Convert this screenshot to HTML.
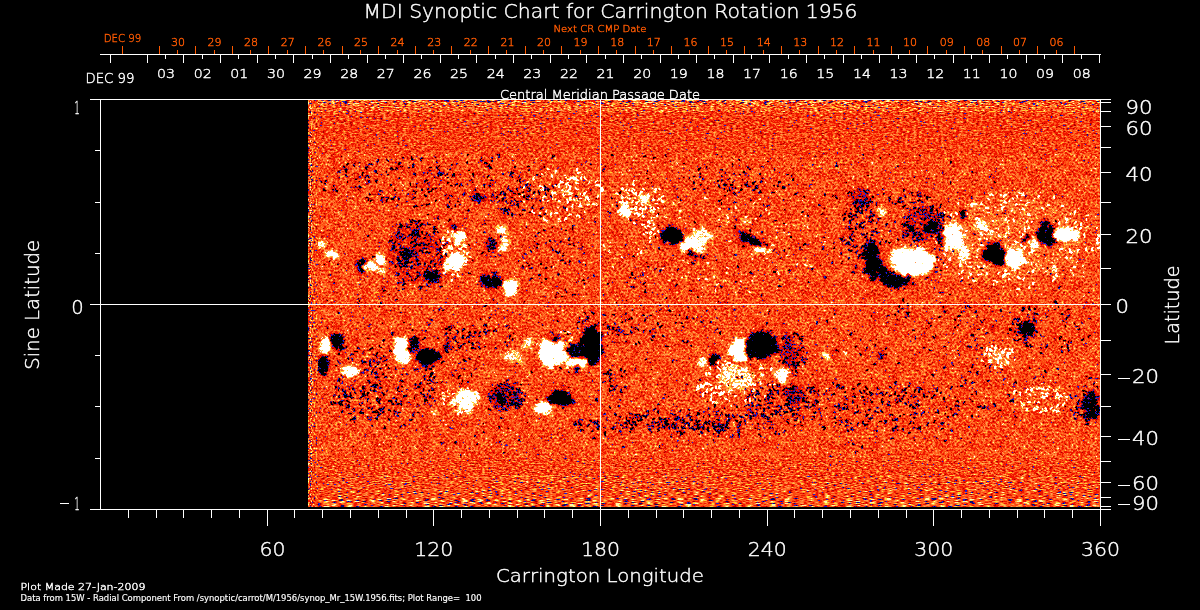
<!DOCTYPE html>
<html><head><meta charset="utf-8"><title>MDI Synoptic Chart for Carrington Rotation 1956</title>
<style>html,body{margin:0;padding:0;background:#000;width:1200px;height:610px;overflow:hidden}svg{display:block}</style>
</head><body>
<svg width="1200" height="610" viewBox="0 0 1200 610" shape-rendering="crispEdges" style="font-family:'DejaVu Sans','Liberation Sans',sans-serif;font-weight:200;stroke-width:0.4px">
<rect x="0" y="0" width="1200" height="610" fill="#000"/>
<defs>
<filter id="tex" x="308" y="100" width="792" height="407" filterUnits="userSpaceOnUse" color-interpolation-filters="sRGB">
<feTurbulence type="fractalNoise" baseFrequency="0.42 0.5" numOctaves="2" seed="7"/>
<feColorMatrix type="matrix" values="1 0 0 0 0 1 0 0 0 0 1 0 0 0 0 0 0 0 0 1" result="n1"/>
<feTurbulence type="fractalNoise" baseFrequency="0.1" numOctaves="2" seed="3"/>
<feColorMatrix type="matrix" values="1 0 0 0 0 1 0 0 0 0 1 0 0 0 0 0 0 0 0 1" result="n2"/>
<feComposite in="n1" in2="n2" operator="arithmetic" k2="1" k3="0.25" k4="-0.125" result="n"/>
<feComposite in="SourceGraphic" in2="n" operator="arithmetic" k1="0" k2="1.3" k3="1" k4="-0.65"/>
<feColorMatrix type="matrix" values="1 0 0 0 0 1 0 0 0 0 1 0 0 0 0 0 0 0 0 1"/>
<feComponentTransfer>
<feFuncR type="discrete" tableValues="0 0 0 0 0 0 0 0 0 0 0 0 0.039 0.039 0.039 0.118 0.118 0.118 0.118 0.118 0.667 0.667 0.667 0.667 0.667 0.667 0.667 0.941 0.941 0.941 0.941 0.941 0.941 0.941 0.941 0.941 0.941 0.941 0.941 0.941 0.941 0.941 0.941 0.941 0.941 0.988 0.988 0.988 0.988 0.988 0.988 0.988 1 1 1 1 1 1 1 1 1 1 1 1 1 1 1 1 1 1 1 1 1 1 1 1 1 1 1 1 1 1 1 1 1 1 1 1 1 1 1 1 1 1 1 1 1 1 1 1"/>
<feFuncG type="discrete" tableValues="0 0 0 0 0 0 0 0 0 0 0 0 0.039 0.039 0.039 0.118 0.118 0.118 0.118 0.118 0 0 0 0 0 0 0 0.078 0.078 0.078 0.078 0.078 0.078 0.078 0.078 0.078 0.078 0.078 0.078 0.078 0.078 0.078 0.078 0.078 0.078 0.275 0.275 0.275 0.275 0.275 0.275 0.275 0.373 0.373 0.373 0.373 0.373 0.373 0.373 0.49 0.49 0.49 0.49 0.49 0.49 0.49 0.608 0.608 0.608 0.608 0.608 0.608 0.608 0.608 0.824 0.824 0.824 0.824 0.824 0.961 0.961 0.961 0.961 1 1 1 1 1 1 1 1 1 1 1 1 1 1 1 1 1"/>
<feFuncB type="discrete" tableValues="0 0 0 0 0 0 0 0 0 0 0 0 0.471 0.471 0.471 0.843 0.843 0.843 0.843 0.843 0 0 0 0 0 0 0 0 0 0 0 0 0 0 0 0 0 0 0 0 0 0 0 0 0 0.059 0.059 0.059 0.059 0.059 0.059 0.059 0.11 0.11 0.11 0.11 0.11 0.11 0.11 0.196 0.196 0.196 0.196 0.196 0.196 0.196 0.314 0.314 0.314 0.314 0.314 0.314 0.314 0.314 0.196 0.196 0.196 0.196 0.196 0.588 0.588 0.588 0.588 1 1 1 1 1 1 1 1 1 1 1 1 1 1 1 1 1"/>
</feComponentTransfer>
</filter>
<filter id="bl" x="300" y="90" width="810" height="430" filterUnits="userSpaceOnUse" color-interpolation-filters="sRGB"><feTurbulence type="fractalNoise" baseFrequency="0.15" numOctaves="2" seed="5" result="dn"/><feDisplacementMap in="SourceGraphic" in2="dn" scale="13" xChannelSelector="R" yChannelSelector="G"/><feGaussianBlur stdDeviation="1.5"/></filter>
<filter id="bs" x="300" y="90" width="810" height="430" filterUnits="userSpaceOnUse" color-interpolation-filters="sRGB"><feGaussianBlur stdDeviation="0.5"/></filter>
</defs>
<g filter="url(#tex)" shape-rendering="auto">
<rect x="308" y="100" width="792" height="407" fill="rgb(128,128,128)"/>
<g filter="url(#bl)">
<ellipse cx="1010" cy="240" rx="72" ry="42" fill="rgb(143,143,143)"/>
<ellipse cx="414" cy="255" rx="28" ry="30" fill="rgb(110,110,110)"/>
<ellipse cx="860" cy="199" rx="9" ry="9" fill="rgb(89,89,89)"/>
<ellipse cx="924" cy="224" rx="20" ry="16" fill="rgb(97,97,97)"/>
<ellipse cx="505" cy="395" rx="16" ry="12" fill="rgb(76,76,76)"/>
<ellipse cx="737" cy="378" rx="17" ry="12" fill="rgb(178,178,178)"/>
<ellipse cx="790" cy="352" rx="8" ry="16" fill="rgb(76,76,76)"/>
<ellipse cx="795" cy="395" rx="8" ry="12" fill="rgb(76,76,76)"/>
<ellipse cx="790" cy="393" rx="8" ry="7" fill="rgb(64,64,64)"/>
<ellipse cx="1000" cy="358" rx="12" ry="8" fill="rgb(158,158,158)"/>
</g>
<g filter="url(#bs)">
<path fill="rgb(51,51,51)" d="M409 258.4l1.3 -3.3 3 -1.8 1.7 1.4zM432.5 233.4l2.4 -2.2 3.3 -0.2 0.9 2.1zM405.3 226.3l-3.3 0.7 -2.8 -1.8 0.4 -2.5zM417.4 245.9l2 -1.8 2.6 0.7 0.6 2.6zM417.5 224l-1.9 0.7 -1.7 -1.2 0.2 -1.9zM432 243.1l-2.2 -1.8 -0.6 -2.7 1.6 -1zM423.3 254.6l-2 -2.3 0.2 -3 2.1 -0.7zM409.8 258.3l-2.2 -2.7 -0.6 -3.4 1.6 -0.7zM404.7 235.6l-2.2 -0.2 -1.4 -1.7 0.8 -1.5zM405.8 274.4l2.1 -1.7 2.3 1.3 0.3 2.9zM441.9 251.1l-3.6 0 -3 -2.1 0.7 -2.1zM418.5 235.5l-1.6 -2.6 0.5 -3 2 -0.4zM405.3 284.4l-2.1 -2.3 -0.6 -3.1 1.6 -0.8zM410.1 253.3l1.1 -2.8 2.5 -1.6 1.4 1.2zM396.9 267.7l-2.1 0.3 -0.9 -1.9 1.2 -2.2zM444.9 260.5l-3 -2 -1.8 -3.1 1.2 -1.1zM409.9 276.3l-2.7 -1 -1.7 -2.3 1 -1.4zM397.6 239.4l-1.8 -2.7 0.2 -3.2 2 -0.5zM409 224.9l-1.9 1.1 -1.8 -1.3 0.1 -2.5zM418.8 245.8l0 -2.8 2.5 -1.2 2.5 1.6zM434.4 230.9l-1.6 -1.9 0.8 -2.4 2.4 -0.5zM400.9 234.4l-3 -1.3 -0.8 -3.2 2.2 -1.9zM427.6 245.3l-2.5 0.3 -2.2 -1.3 0.4 -1.7zM427.1 239.5l-2 -2.7 0.4 -3.3 2.4 -0.6zM413.4 282.4l1.1 -3.4 2.6 -2.5 1.5 0.9zM419.2 276.7l-2.4 -1.5 -0.9 -2.7 1.6 -1.2zM431.2 224.9l-2.4 0.5 -2 -1.4 0.4 -1.9zM394.5 246.2l-0.8 -2.6 1 -2.6 1.8 0.1zM390.9 250.4l0.5 -2.4 2.4 -0.6 1.9 1.8zM419 230.5l-0.8 -1.5 0.8 -1.5 1.6 0zM385.7 263.1l-1.7 -2.2 0.9 -2.6 2.6 -0.4zM412.4 244.4l-2 0.4 -0.5 -2 1.6 -2.4zM404.2 267l-0.4 -3.6 2.3 -2.8 2.7 0.8zM416.8 221.1l-2.8 0.9 -2.7 -1.2 0.1 -2.1zM419.8 227.8l-0.7 -3 2.2 -2.2 2.9 0.8zM426.6 247.6l0 -3.2 2.2 -2.3 2.2 0.9zM412.2 257.1l-1.6 -2.2 0.7 -2.7 2.3 -0.4zM418.9 252.3l0.1 -2.3 2.2 -0.7 2.1 1.6zM430.6 264.7l-1.3 -2.5 1.6 -2.3 2.8 0.2zM402.2 265.2l-1 -1.8 0.8 -1.9 1.8 -0.1zM420.4 248.9l3 -1.6 3.4 0.4 0.4 2zM401 263l-3 -1.6 -0.9 -3.2 2.1 -1.7zM439 246.1l-2.7 -0.6 -1.6 -2.3 1.1 -1.7zM395.2 243.4l-3.4 -0.1 -2.9 -1.7 0.5 -1.6zM393.6 250.8l-0.4 -2.2 1.4 -1.7 1.8 0.5zM404.3 254.3l2.2 -2.2 3.1 0.2 0.9 2.4zM412.6 225l-1.7 1.1 -1.2 -1.6 0.5 -2.7zM423 239.2l1 -2.3 2.5 -0.2 1.5 2zM413.8 223.4l-3.1 -1.1 -2 -2.6 1.1 -1.6zM417.5 262.6l-2.1 -1.1 -0.7 -2.2 1.3 -1.1zM395.1 251.9l0.2 -1.9 1.6 -1.1 1.4 0.8zM414.7 223.6l0.5 -2.3 2.3 -0.3 1.8 2zM425.4 256l-0.8 -2.9 1.8 -2.4 2.6 0.5zM434.6 266.6l-0.8 -2 1.4 -1.7 2.1 0.3zM391.5 251.7l-1.1 -2.8 1.7 -2.5 2.9 0.3zM417.1 264.2l-1.5 -2.4 1.2 -2.5 2.7 -0.1zM410.1 262.2l1.4 -1.8 2.1 0.8 0.7 2.5zM398.8 246.5l-1.2 -1.4 0.8 -1.7 2 -0.3zM401.1 266.2l-1.6 0.9 -1.2 -1.3 0.4 -2.2zM413.4 255.6l-3.1 0.8 -2.9 -1.5 0.3 -2.3zM395.4 277.1l1.1 -2.2 2.2 -1 1.1 1.2zM403 271.7l0.5 -1.9 1.8 -0.7 1.3 1.2zM436.4 255.4l0.8 -2.9 2.6 -1.6 1.8 1.3zM416.3 265.9l1.7 -2.7 3.1 -0.9 1.3 1.8zM399.2 268.3l1.5 -2.6 2.9 -0.7 1.4 1.9zM396.3 264.3l2.5 -2.7 3.7 -0.1 1.1 2.6zM393.6 276.4l2.2 -2.9 3.5 -1 1.3 1.9zM413.7 247.9l-0.6 -1.7 1 -1.5 1.6 0.2zM413.2 248.2l0.8 -3.2 2.7 -1.8 2 1.4zM439.1 252.6l-0.6 -3.6 2.1 -2.9 2.7 0.6zM492.1 199.2l-0.8 -2.4 0.8 -2.4 1.6 0zM495.3 199.5l0.5 -1.9 1.8 -0.8 1.3 1.1zM507.9 206.6l2.9 -2.1 3.5 -0.6 0.6 1.5zM494.7 196.5l-2.4 -1 -0.6 -2.5 1.8 -1.5zM497.2 197.5l-0.5 -2.4 1.7 -1.7 2.3 0.6zM515.6 202.3l3 -2.1 3.7 0.3 0.6 2.4zM494.6 203.9l-2.8 -1.3 -1.8 -2.6 1.1 -1.3zM498.8 210.9l2.3 -2.5 3.4 -0.5 1.1 2.1zM503.4 203.1l-1.8 -2.2 0.2 -2.8 2 -0.6zM505.4 198.6l-2.1 -2.9 0.4 -3.6 2.4 -0.7zM509.8 203.2l-2.5 0.7 -1.9 -1.8 0.6 -2.5zM517.2 206.5l-1.7 -1.3 1.2 -1.7 2.9 -0.5zM500.5 202.1l1.6 -3.2 3.1 -1.9 1.4 1.3zM513.4 191.5l-2.4 0.3 -2 -1.4 0.4 -1.7zM500.1 195.2l-0.3 -2.3 1.5 -1.8 1.7 0.5zM390.5 171l0.7 -2.3 2.3 -0.7 1.5 1.5zM455.8 165.4l0.1 -1.8 1.6 -0.9 1.5 1zM449.5 185.6l1.6 -1.1 1.8 0.8 0.2 2zM441.2 190l-1.6 -0.8 0.2 -1.7 1.7 -0.9zM341.4 169.2l2.6 -1.7 2.9 1.1 0.3 2.9zM357.2 178.2l1 -2.1 2.2 -0.8 1.2 1.3zM361.4 193.6l-2.1 -1.8 -0.5 -2.8 1.6 -0.9zM423.7 176.3l-1 -1.9 0.8 -2 1.9 -0.1zM397.9 166.2l-0.2 -2.9 2.3 -1.8 2.5 1.1zM454.9 187.7l-0.2 -2.6 1.6 -2 1.8 0.6zM443.3 175.8l0.8 -1.4 1.6 0.1 0.8 1.6zM367.8 184.4l-0.6 -2.7 2.1 -1.8 2.7 0.9zM426.3 184.8l0.8 -2 2.1 -0.5 1.3 1.6zM325.4 184.7l-1.7 -1.6 0.8 -2.2 2.5 -0.6zM364.6 199.8l0.2 -2.5 2.3 -1 2.1 1.5zM440.5 190.1l-0.9 -1.6 0.9 -1.6 1.8 0zM427.3 174.8l0 -2.8 1.9 -2.1 1.9 0.8zM411.5 200.9l-0.3 -3 2.3 -2 2.7 1.1zM404.2 203.1l0.6 -2 2 -0.8 1.4 1.3zM354.4 175.6l-0.7 -1.9 1.4 -1.5 2.1 0.4zM414.9 195.4l-0.7 -2.5 1.4 -2.2 2.1 0.3zM406.4 196.7l0.1 -2.3 1.7 -1.5 1.7 0.8zM467.7 171.1l0.2 -1.5 1.5 0 1.3 1.5zM338.2 172.1l-0.7 -1.4 1.4 -0.8 2.1 0.7zM323.8 182.9l-2.6 0 -2 -1.6 0.6 -1.6zM357.7 163l1.4 -1.2 1.8 0.4 0.4 1.6zM337.1 192.6l-2 -1.3 -0.4 -2.4 1.6 -1.1zM398.1 199.6l-1.2 -1.7 1.1 -1.7 2.2 0zM369.2 202.1l0.9 -2.4 2.4 -0.7 1.6 1.7zM421.3 162.4l-1.5 -2.4 1.4 -2.4 3 -0.1zM461.8 195.1l0.9 -2.7 2.8 -0.6 1.9 2.1zM424.6 183.3l-0.6 -2.6 2 -1.8 2.6 0.8zM354.5 167.3l-1.6 -2 1 -2.3 2.5 -0.4zM348.3 177.1l-1.9 1 -1.2 -1.8 0.8 -2.9zM396 191.3l-1.8 -0.5 -0.5 -1.8 1.3 -1.3zM475.3 191.3l-1.3 0.8 -1 -1.1 0.3 -1.9zM364.7 167.5l1 -1.9 2.1 0.3 1.1 2.2zM439.6 185.6l-1.4 -1.1 0.4 -1.7 1.8 -0.6zM380.4 199.8l1.3 -2.7 2.9 -0.8 1.6 1.9zM396.4 172.1l-1.6 -2.5 1.3 -2.7 2.9 -0.2zM428.6 193.2l-0.9 -1.5 1.4 -1 2.4 0.5zM454.9 176.8l-1.8 -1.5 0.4 -2.3 2.2 -0.8zM390.5 170.6l-0.9 -2.1 1.9 -1.4 2.7 0.8zM337.2 173.3l0 -2.1 2.1 -0.2 2.1 1.9zM335.7 191.1l-2.4 0.6 -1.8 -1.6 0.5 -2.3zM338 192.6l-1.5 0.1 -0.2 -1.5 1.3 -1.7zM358 190.6l-0.3 -1.6 1.5 -0.6 1.8 1zM326.9 191.1l-2.1 1 -1.9 -1.3 0.2 -2.3zM451.1 178.8l0.2 -2.8 1.8 -2.1 1.6 0.6zM347.9 183.9l-1.3 -1.8 0.5 -2.1 1.8 -0.3zM364.9 176.2l1.8 -1.8 2.3 1.1 0.5 3zM438.3 176.1l-0.5 -2.4 1.3 -2.1 1.7 0.3zM430.7 193.1l0.1 -2.6 1.8 -1.9 1.6 0.7zM439.9 168.5l-2.1 1 -2 -1.2 0.1 -2.2zM465.9 196.6l-2.7 -0.3 -1 -2.6 1.8 -2.3zM362.4 176.6l-1.1 -2 0.9 -2.1 2 -0.1zM445.8 183.7l-0.8 -1.4 1 -1.2 1.8 0.2zM439.1 173.3l2.2 -1.9 2.9 0.4 0.7 2.3zM370.9 194.9l-1.5 0.3 -0.8 -1.3 0.7 -1.6zM335.1 186l-1.5 0.7 -1.3 -1.1 0.3 -1.8zM461.6 184.9l-1.6 -0.1 -0.4 -1.5 1.2 -1.4zM486.9 179.4l-0.2 -2.6 1.8 -1.9 2 0.7zM346.4 166.7l-0.5 -2.5 1.7 -1.9 2.2 0.6zM423.2 191.9l-1.9 -1.4 -0.1 -2.4 1.8 -1zM428.9 185.9l-1 -1.1 0.9 -1.2 1.8 -0.1zM365.4 179.5l-1.1 -2 0.8 -2.1 1.9 -0.2zM450.4 195.8l0.9 -2.1 2.2 -0.8 1.2 1.3zM473.9 183.1l-2.1 -0.1 -0.7 -1.9 1.4 -1.9zM415.1 168.8l-2.9 -1.1 -0.6 -3 2.3 -1.9zM414 160.4l-2.6 -0.1 -1.1 -2.4 1.5 -2.2zM510.6 205.5l-0.9 -2.5 1.1 -2.4 2.1 0.1zM512.9 217.1l-2.1 -1.1 0.2 -2.4 2.3 -1.3zM548.5 203.8l-2 -1.6 0.2 -2.5 2.2 -0.9zM508.7 211.6l-2.9 -0.9 -1.7 -2.6 1.2 -1.7zM504.7 214.5l-2.1 -0.8 0.4 -2.2 2.5 -1.4zM540.8 195l-1.8 0.7 -1 -1.6 0.8 -2.2zM519.8 196.7l2.3 -2 2.9 0.9 0.6 2.8zM502.2 211.3l2 -2.4 3.1 0.2 1.1 2.6zM529.6 213.2l-0.2 -1.4 1.3 -0.6 1.5 0.8zM498.9 202.5l-1.1 -1.3 0.9 -1.4 2 -0.1zM524 191.2l1.9 -1.6 2.4 0.4 0.6 2zM539.3 211l0.7 -2.8 2.5 -1.5 1.7 1.3zM528.7 198.9l1.8 -1.4 2 1.1 0.2 2.5zM527.8 197.8l-0.5 -2.1 2 -0.8 2.5 1.3zM542.4 215.3l0.9 -2 2.2 -0.2 1.3 1.8zM517.4 201.3l-2.1 0.4 -1.7 -1.2 0.4 -1.6zM513.9 206.6l-1.3 -1.8 0.8 -2.1 2.1 -0.3zM541.1 193.4l-2.4 -0.4 -1.5 -1.9 0.9 -1.5zM542.8 192.1l0.2 -3.2 2.7 -1.7 2.5 1.5zM535.6 202.6l-0.7 -1.8 1.3 -1.4 2 0.4zM547.4 196.2l-2.4 -0.6 -0.8 -2.4 1.6 -1.8zM511.4 210.8l-2.6 0.4 -1.4 -2.2 1.2 -2.6zM524.9 187.8l0.2 -3.1 2.3 -2 2.2 1.1zM512.9 193.9l0 -1.7 1.7 0 1.7 1.7zM521.5 194.5l-2.4 0.5 -2.1 -1.1 0.2 -1.7zM521.6 194.1l0.1 -2 1.7 -1.1 1.6 0.9zM548.9 188.8l-3 0.5 -2.4 -2 0.7 -2.5zM509.3 214.8l-2.1 -0.4 -0.5 -2.1 1.6 -1.6zM533.7 209.8l-2.1 -1.3 -0.1 -2.5 2 -1.2zM507.9 216.4l-1 -1.1 0.6 -1.3 1.7 -0.3zM519.8 216.8l-0.7 -2.2 2 -1.1 2.7 1.1zM517.4 187l2.7 -1.1 2.9 0.7 0.1 1.8zM508.6 188.7l-1.7 -1 0.6 -1.9 2.4 -0.9zM519.4 208.9l-2.5 -1.8 -0.5 -3.1 2.1 -1.3zM506.5 190.3l-0.4 -1.8 1.7 -0.7 2.1 1.1zM554.2 198l-2.3 0.7 -1.9 -1.6 0.4 -2.3zM528.6 198.6l-2.2 -1 -0.8 -2.3 1.4 -1.2zM512.5 192.5l-2.3 -0.6 -1.2 -2.1 1.1 -1.5zM521.7 211.5l0 -2.4 2.3 -0.6 2.3 1.7zM542.2 216.6l-1.9 0.9 -1.6 -1.4 0.3 -2.3zM559.8 262.1l0.6 -2.6 2.5 -0.8 1.9 1.7zM581.3 263.3l-2.4 0.3 -1.1 -2.1 1.3 -2.4zM569.5 241.4l-2 -0.8 0.3 -2.2 2.3 -1.3zM541.7 265.5l-2.1 -1.6 0.2 -2.6 2.2 -1zM524.3 268.9l-2.3 -0.7 -0.6 -2.4 1.7 -1.7zM544.8 269.8l0.1 -2.4 2.3 -0.7 2.2 1.7zM556.9 243.6l-2.2 -1 -1 -2.2 1.2 -1.2zM567.3 264.6l-2.4 -0.6 -1.2 -2.1 1.2 -1.5zM522.9 255.8l0.5 -2.5 2.4 -0.6 2 1.9zM581.3 281.6l0.2 -2.2 2.1 -0.6 1.9 1.6zM532.5 242l0.6 -1.7 1.7 0.4 1.1 2.1zM554.3 249.9l-1.6 1.1 -1.2 -1.6 0.5 -2.8zM529.4 281.2l0.1 -2.2 1.7 -1.4 1.6 0.8zM561 297.7l0.1 -1.5 1.5 -0.2 1.3 1.3zM532.8 252.4l-1.8 0.5 -1.1 -1.5 0.7 -2.1zM568.6 245.7l-0.8 -1.6 1.5 -0.9 2.3 0.7zM555.4 293.5l1.1 -1.6 1.9 0.3 0.8 1.9zM537.6 236.1l-1.6 -1.9 1.4 -2 3 -0.2zM567.1 293l-2.7 -0.6 -0.6 -2.7 2 -2zM559.3 252.3l-2.5 0.6 -2 -1.5 0.4 -2.1zM538.3 249.3l-1.8 -0.1 -0.3 -1.7 1.5 -1.7zM557.4 254.1l-0.2 -2.4 2.1 -1 2.3 1.3zM557 299.1l-2.4 -0.8 -0.2 -2.5 2.2 -1.7zM563.6 255l-1.3 -0.8 0.4 -1.4 1.7 -0.6zM567.9 262.7l1.1 -2.2 2.4 -0.3 1.3 1.9zM595 277.3l-1.8 -0.1 -0.5 -1.8 1.3 -1.6zM579.4 281.7l-1.6 0.1 -0.7 -1.5 0.9 -1.6zM549.2 230.1l0.8 -2.4 2.3 -1.1 1.5 1.4zM574.9 246.4l-2.2 -0.7 -0.5 -2.2 1.7 -1.5zM531.7 268.4l-0.5 -1.4 1.2 -0.8 1.7 0.6zM558.6 276.6l-1.5 -1.6 0.8 -2 2.3 -0.4zM578.5 273.9l-1.3 -1 0.4 -1.5 1.7 -0.6zM562.8 257.5l-1 -1.3 1.1 -1.3 2.1 0zM539.7 244.5l-1.7 0.7 -1.4 -1.2 0.3 -1.9zM588.3 280.5l-1.2 -1.5 0.3 -1.9 1.6 -0.4zM572.8 229.4l-1.2 -2.3 1.2 -2.3 2.4 0zM571.1 295.4l1.9 -1.7 2.5 0.2 0.6 1.8zM540 283.8l-0.1 -1.7 1.6 -0.5 1.7 1.2zM552.1 248.1l-2 -0.4 -0.8 -1.9 1.3 -1.5zM581.6 250.8l-1.3 -2.1 1.1 -2.2 2.3 -0.1zM707.8 188.5l-0.9 -1.8 1 -1.7 1.9 0.1zM737.5 188l-2.6 1.1 -2.4 -1.6 0.2 -2.7zM738.6 175.7l0.1 -1.5 1.4 -0.4 1.4 1.1zM721.7 187.3l-2.1 1.3 -1.8 -1.6 0.3 -2.9zM750.4 187.2l-2.4 0.8 -1.6 -2 0.9 -2.9zM729.8 186.4l0.1 -2.3 2.2 -0.5 2.1 1.8zM722.9 189.1l1 -1.1 1.4 0.5 0.4 1.7zM739.7 191.9l0.1 -2.7 2.3 -1.4 2.2 1.3zM745.4 175.6l-0.7 -1.8 0.9 -1.7 1.6 0.1zM705 180.3l-2.2 0.2 -1.1 -1.9 1.1 -2.1zM747.9 174l-2.8 0.4 -2.1 -1.9 0.7 -2.3zM734.1 175.3l-1.3 -0.9 0.7 -1.5 2 -0.5zM722.9 178.5l-2 -0.9 -0.2 -2.2 1.8 -1.3zM736.1 175.6l-1.5 0.2 -0.8 -1.3 0.8 -1.6zM748.3 184l-1.7 -0.1 -0.2 -1.7 1.5 -1.6zM724.2 187.9l-0.8 -2.6 2 -1.9 2.8 0.8zM747.8 178.7l-0.6 -2.3 1.1 -2.1 1.7 0.2zM711 184.9l-1.1 -0.9 0.5 -1.3 1.6 -0.4zM752.7 186.2l-1 -2.4 1.7 -2 2.7 0.4zM724.9 174.3l-0.4 -1.7 1.3 -1.2 1.7 0.5zM634.1 275.9l-2.5 0 -0.9 -2.3 1.6 -2.3zM643.6 277.3l-1.6 -2.1 0.5 -2.6 2.1 -0.5zM629 279l0 -1.7 1.5 -0.8 1.4 0.9zM635.2 280.7l-1.2 -1.4 0.6 -1.7 1.7 -0.3zM642.7 277l-1.9 0.2 -1.1 -1.6 0.8 -1.7zM635.7 287.7l-1.9 1.1 -1.8 -1.2 0.1 -2.3zM634.4 278.9l-1.1 -1.3 1.1 -1.2 2.2 0zM660.7 273.1l-1.5 -1.7 0.6 -2.1 2.1 -0.5zM628.3 283l-1.5 0.2 -0.6 -1.4 0.9 -1.5zM641.2 283.2l-1.3 -0.7 0.2 -1.4 1.5 -0.7zM643.7 286l-1 -2.5 1.5 -2.3 2.5 0.2zM636.8 270.7l-1.8 -1.3 -0.4 -2.2 1.4 -0.9zM655 271.7l-1.8 -1.1 0.9 -1.9 2.6 -0.8zM644.2 263.4l1.7 -1.6 2.3 0 0.6 1.6zM855.8 207l-2.3 -1 -0.2 -2.5 2.1 -1.5zM867.8 198.8l-2.6 0.7 -1.7 -2.1 1 -2.8zM866.3 192.6l-2.7 -0.1 -1.4 -2.3 1.3 -2.2zM857.4 211.9l-1.3 -2.4 1.4 -2.3 2.8 0zM863.9 202.4l-1.1 -1.1 0.6 -1.5 1.7 -0.3zM865.5 204.2l-1.7 0.6 -0.7 -1.7 1 -2.3zM857.5 203.2l-1.7 -2.1 0 -2.7 1.7 -0.6zM856.4 189l1.7 -1.3 2 0.8 0.3 2.1zM863.5 201.3l0.2 -2.3 2.2 -0.5 2.1 1.7zM864.8 191.7l1.6 -2 2.5 -0.4 0.9 1.6zM866.3 203.8l1.6 -1.5 1.9 1.2 0.2 2.7zM853.7 203.1l1.6 -2.2 2.7 -0.4 1.1 1.8zM848.1 206.4l0.3 -2 1.7 -1 1.4 1zM852.5 196.4l-2.1 -1.6 0.1 -2.6 2.2 -1zM853.6 194.2l-1.8 1 -1 -1.8 0.8 -2.7zM859.2 213.6l0.6 -2.8 2.4 -1.6 1.9 1.3zM847 194.2l0.3 -2.5 2.3 -0.9 2 1.6zM866.2 202.9l-2.2 -0.4 -1 -2.1 1.3 -1.6zM858.3 212.8l-1.7 -1.1 0.1 -2 1.8 -0.9zM865.6 193.8l0.9 -1.6 1.8 0.5 0.9 2.1zM854.5 193.4l-0.8 -1.5 1 -1.4 1.8 0.1zM865 199.3l-2 -2.3 0.5 -3 2.5 -0.7zM862 210.7l-0.8 -2.8 0.9 -2.8 1.8 0zM846.2 202.3l-1.6 -0.9 0.2 -1.8 1.8 -0.9zM861.1 195.5l-1.2 -0.9 0.4 -1.4 1.5 -0.5zM857.8 208.5l-2.2 0.1 -1.6 -1.6 0.7 -1.7zM858.5 206.6l1.1 -2.1 2.4 0.1 1.3 2.2zM866.7 195.4l-1.1 -1.3 1.2 -1.2 2.4 0.1zM863.3 202.9l-1.3 -1.9 1.2 -2 2.6 -0.1zM865.5 212.6l-1.2 -1.9 1.2 -2 2.4 0zM861 204.4l-1.9 -2.3 0.7 -2.9 2.6 -0.6zM863.1 192.5l-2.8 -0.8 -1.7 -2.5 1.2 -1.6zM845.7 204.7l0.6 -1.4 1.5 0 0.9 1.3zM872.5 201.7l-2.2 0.5 -1.2 -1.9 1 -2.4zM861.5 197.4l-2.2 0 -1.3 -1.7 0.8 -1.7zM919.1 224.5l0.5 -1.9 1.9 -0.1 1.4 1.8zM911.8 215.2l0.9 -2 2.1 -0.6 1.2 1.3zM900.5 224.7l1.9 -2.2 2.9 0.1 1 2.3zM942.9 218.5l-2.2 -0.1 -0.5 -2.2 1.7 -2.1zM934.7 225.6l-2.9 0.3 -2 -2.2 1 -2.5zM940.8 220.8l-2.2 0.9 -2 -1.2 0.1 -2.1zM941.7 216.2l-1.2 -1.4 0.9 -1.6 2.1 -0.2zM924.2 221.3l-0.6 -3.1 2.2 -2.3 2.8 0.8zM909.9 213.3l-1.3 -1.8 1 -2 2.3 -0.2zM907.9 231.9l1.6 -2.5 2.9 -0.4 1.3 2zM913.6 239.3l-1.3 -1.5 0.5 -2 1.9 -0.4zM925.3 234.2l-1.6 -1.3 -0.1 -2 1.5 -0.7zM927.5 211.3l-2.5 -1.9 -0.9 -3 1.6 -1.1zM905.6 226.6l-2 0.7 -1.2 -1.7 0.7 -2.4zM919.2 213.9l-1.6 -3 1.1 -3.1 2.7 -0.2zM945.3 226.4l-3.4 0.7 -3.3 -1 0.1 -1.7zM945.3 222.4l-1.9 -0.5 -0.8 -1.8 1.1 -1.3zM943.5 221.6l-1.4 -3.2 0.4 -3.5 1.8 -0.3zM904.8 230.9l3 -1.8 3.4 0.8 0.4 2.6zM923.5 219.9l-1.9 0.4 -1.3 -1.5 0.6 -1.9zM932.5 212.4l-1.8 -1.5 0.4 -2.4 2.3 -0.8zM923.4 227.3l0.8 -2.8 2.8 -0.9 1.9 1.9zM914 212l-1.3 -2.6 0.3 -2.9 1.6 -0.3zM934.9 214.2l-3.6 -0.4 -2.5 -2.6 1.1 -2.2zM911.9 236l2.6 -2.5 3.6 -0.5 1 2zM945.1 224.9l0 -1.7 1.5 -0.8 1.6 0.9zM936.6 221.5l-1.7 -0.4 -0.5 -1.7 1.3 -1.3zM918.6 238.9l0.3 -3.5 1.8 -3 1.6 0.5zM939.1 226l-2.7 -1.2 -1.1 -2.8 1.6 -1.6zM913.9 213.3l2.8 -2.2 3.6 -0.3 0.8 1.9zM928.2 232l-2.3 -0.3 -0.5 -2.3 1.8 -2zM915.7 239.6l1.2 -2.6 2.7 -0.9 1.5 1.6zM924.5 215.6l3.2 -1.5 3.5 0.7 0.3 2.3zM924.7 243.4l-1.3 -1.8 0.6 -2.1 1.8 -0.3zM912.9 228.7l-1.9 -1.2 0.9 -2.1 2.8 -0.9zM931.4 229.5l-1.8 0.3 -0.7 -1.6 1 -1.9zM926.4 239.2l-2.5 1.1 -2.5 -1.1 0 -2.1zM929.2 221.8l1.2 -2.5 2.8 -0.3 1.6 2.3zM920 209.9l2 -1.8 2.7 0.4 0.6 2.2zM924 208.8l1.3 -1.7 2.1 -0.3 0.9 1.4zM937.3 236.2l0.1 -2.4 2.3 -0.6 2.2 1.8zM905.7 220l0.1 -1.7 1.5 -0.8 1.4 0.9zM910.5 219.5l-2.7 -1.4 -0.9 -2.9 1.8 -1.5zM928.1 231.2l2.1 -1.4 2.5 0.6 0.4 2zM943.1 233.6l-2 -2.7 0.5 -3.3 2.5 -0.6zM938.7 215.1l-2.4 -2.3 -0.6 -3.2 1.8 -1zM941.7 230l2.2 -1.6 2.5 0.9 0.3 2.5zM931.2 211l-1.7 -2.4 0 -2.9 1.7 -0.5zM941.1 218.8l-1.9 -1.1 0.4 -2.2 2.3 -1zM907.2 233.7l-1.1 -1.7 1.7 -1.3 2.8 0.5zM934.1 238.2l2.1 -2.2 2.9 0.6 0.9 2.8zM937.7 225.3l2.8 -2.2 3.6 -0.4 0.7 1.8zM937 233.3l-1.8 -2 0.1 -2.7 1.9 -0.7zM915.3 234.1l-1.8 0.6 -1.3 -1.4 0.5 -2zM940.5 219.5l0.5 -3.6 2.7 -2.4 2.2 1.2zM935 219.6l0.1 -2.3 2.1 -1 1.9 1.3zM933.9 210.7l-2 -2.5 0.2 -3.2 2.2 -0.7zM912.6 227.5l-2.1 0.4 -1.5 -1.5 0.6 -2zM915 241.1l1.5 -1.9 2.3 0.7 0.8 2.7zM928.5 214.9l-3.6 0.1 -2.7 -2.4 0.9 -2.5zM905.1 223.3l1.4 -2.8 3.1 -0.7 1.6 2.1zM926.6 240.2l-2.7 1 -2.6 -1.2 0.1 -2.2zM927.6 214.7l-2.9 -1.2 -1.9 -2.5 1 -1.3zM933.4 227.9l3 -1.8 3.5 0.1 0.5 1.9zM911.9 240.8l0.5 -2.6 1.9 -1.9 1.4 0.8zM931.2 222.7l0.8 -1.8 2 0 1.2 1.8zM933.7 216l2.5 -2.1 3.2 -0.3 0.8 1.8zM917.8 210.6l1.6 -2.3 2.7 -0.6 1.1 1.6zM922.1 208l-0.2 -1.9 1.7 -0.8 1.9 1zM927.6 214.4l1 -2.1 2.3 0.2 1.3 2.3zM867.2 222.8l-0.1 -1.8 1.8 -0.2 1.9 1.6zM868.2 254.5l-2.9 0.5 -2.7 -1.3 0.3 -1.9zM874.1 253.6l-0.2 -2.3 1.7 -1.6 2 0.8zM849.4 231.4l-1.2 -1.4 0.4 -1.8 1.6 -0.4zM865.4 203.8l1.2 -2.6 2.8 -0.7 1.6 1.9zM859.4 227.9l-0.8 -3.1 2.1 -2.5 2.9 0.6zM847.6 213.7l2.1 -1.6 2.5 0.8 0.4 2.4zM861.7 212.7l-2.1 0.5 -1.2 -1.8 0.9 -2.3zM865.6 273.5l-2 1.2 -1.8 -1.4 0.2 -2.6zM876.7 224.6l-0.6 -2.1 1.1 -1.9 1.7 0.2zM848.6 229.7l0.2 -3.2 2 -2.5 1.8 0.7zM842.2 244.4l-0.9 -3 1.8 -2.5 2.7 0.5zM872.2 223.9l-1.8 -1.3 0.2 -2.2 2.1 -1zM872.9 241.2l-2.7 0 -1 -2.5 1.7 -2.5zM875.8 242l-2.8 0.9 -2.6 -1.4 0.2 -2.3zM853.7 241.9l-2.4 -0.6 -0.9 -2.3 1.5 -1.7zM858.9 234.3l2.7 -1.8 3.1 1.1 0.4 2.9zM845.6 245.4l-0.3 -2.4 1.9 -1.5 2.2 0.9zM866.9 271.9l-2.2 0.6 -1.4 -1.9 0.9 -2.5zM841.3 240l-1.8 -0.7 0 -1.9 1.7 -1.2zM858.6 217.1l-2 1 -1.8 -1.4 0.2 -2.3zM861.9 227.5l1.4 -2 2.3 0.6 0.9 2.5zM852.5 209.4l-1.6 0.7 -1.4 -1 0.2 -1.7zM874.6 216.4l-2.3 1 -2 -1.5 0.3 -2.6zM869.2 220.2l-1.2 -1.9 1.3 -1.8 2.5 0.1zM869.3 224.4l0.7 -2.9 2.3 -2 1.6 1zM850.7 236.3l1.2 -1.9 2.2 0.2 1 2.1zM866.1 209.8l0.2 -3.2 2.1 -2.4 1.9 0.8zM845.6 243.6l1.9 -2.2 2.9 -0.1 1 2zM872.6 214.7l-2.7 -1.6 -0.4 -3.2 2.4 -1.5zM858.9 199.8l2.1 -1.3 2.2 1.2 0.1 2.5zM875.3 256.6l-2.6 1.2 -2.3 -1.7 0.3 -2.9zM867.8 264.1l-1.4 0.7 -1.3 -1 0.1 -1.7zM881.8 245.6l-2.3 -0.8 -1.2 -2.1 1 -1.3zM868.9 222.1l1.1 -2.1 2.3 -0.5 1.2 1.6zM857.2 229.4l-1.8 -0.3 -0.6 -1.7 1.2 -1.4zM875.2 233.3l1.7 -1.7 2.4 0.2 0.7 1.9zM874.8 233.1l-0.6 -2.7 1.4 -2.4 1.9 0.3zM857.1 218l-2.1 -1.1 -0.1 -2.4 2 -1.3zM854.5 219l-2.2 0.9 -1.7 -1.6 0.4 -2.5zM866 218.8l0.4 -2.1 2.1 0.1 1.7 2.2zM869.6 252.9l-0.6 -2.8 1.6 -2.4 2.2 0.4zM863.6 214.9l-2.5 -0.9 -0.6 -2.6 1.9 -1.7zM841.3 217l1.1 -3.1 2.9 -1.5 1.8 1.5zM866.2 198.7l-2 0.4 -1.3 -1.6 0.7 -2zM860.7 204.8l2.3 -2.1 3.1 0.5 0.8 2.6zM870.4 232.3l2 -2.7 3.4 -0.2 1.4 2.5zM872.5 244.4l0.3 -2.5 1.9 -1.6 1.6 0.9zM870.7 214.9l1.8 -1.9 2.5 0.9 0.7 2.8zM866.2 222.1l-2.4 1.1 -2.2 -1.4 0.2 -2.5zM881.9 244.5l-1.9 -0.5 -0.5 -1.9 1.4 -1.4zM882.7 241l-1.7 -0.9 0.5 -1.8 2.2 -0.9zM848.3 260.4l-1 -1.6 0.9 -1.7 1.8 -0.1zM845.5 212.3l-0.1 -1.6 1.4 -0.7 1.5 0.9zM871.2 220.7l1.4 -0.9 1.5 0.7 0.1 1.6zM842.8 241.8l-2.1 -1.2 0.4 -2.4 2.5 -1.2zM859 247.1l-2.2 0.9 -1.8 -1.6 0.4 -2.5zM853.4 218.1l-3.2 0.4 -2.5 -2 0.7 -2.4zM849.2 250.9l1.7 -1.8 2.2 1.1 0.5 2.9zM868.3 246.8l0.1 -2.3 2.2 -0.8 2.1 1.5zM909.4 194l-0.8 -1.6 0.9 -1.5 1.8 0.1zM927.7 198.2l1 -1.6 1.9 0 0.9 1.6zM910.7 202.5l1.3 -1.1 1.6 0.5 0.3 1.6zM919.8 201.6l-1.7 0.7 -1.3 -1.2 0.3 -1.8zM903.3 209l-1.2 -2.2 1.4 -2.1 2.6 0.1zM922.6 193.1l-1.5 0.6 -1.3 -1 0.2 -1.6zM893.2 203.7l-1.8 0.2 -0.4 -1.8 1.4 -2zM924.7 203.3l-2.7 -0.5 -2 -2 0.8 -1.5zM893.3 194.2l-2.1 0.5 -1.4 -1.6 0.7 -2.1zM911.9 194.8l-1 -1.5 1.3 -1.3 2.2 0.2zM902.9 197.6l-2.4 0.8 -2.4 -0.9 0 -1.7zM903.9 192.9l-1.1 -2.1 0.7 -2.2 1.9 -0.2zM927.4 200.8l-2 -2 0.7 -2.7 2.7 -0.8zM907 210.1l-0.9 -1.4 1.1 -1.2 2 0.2zM914.1 196l-1.9 0.2 -1.1 -1.6 0.8 -1.8zM915 209.9l-1.1 -1.4 1 -1.5 2.1 -0.1zM915.5 192.5l2.6 -1.6 2.9 1.1 0.2 2.6zM895.8 203.6l1.5 -2.7 3.1 -0.3 1.6 2.4zM925 197l-1.6 -1 0.5 -1.8 2.1 -0.8zM901.5 201.6l-1.6 0.8 -1 -1.5 0.6 -2.4zM901.5 203l-1.2 -1.7 1.7 -1.2 2.8 0.5zM890.6 201.3l-2.4 -1.8 0.4 -2.9 2.7 -1.2zM890.2 202.1l-1.9 -1.5 0.3 -2.4 2.2 -0.9zM891.6 201.1l-1.7 0.8 -1.7 -0.8 0 -1.6zM913 204.3l0.5 -2.4 2.3 -1 1.8 1.4zM377.5 393.8l-0.2 -1.9 1.9 -0.5 2.1 1.4zM373.7 373.5l-1.9 -1.4 -0.3 -2.3 1.6 -1zM373.9 379.3l-0.1 -2.2 2 -1 2.1 1.3zM379.1 396.4l1.6 -1.4 1.8 1 0.3 2.5zM377.6 364.5l-0.6 -2.2 1.9 -1.2 2.4 0.9zM376.6 402l-0.9 -2.6 1.5 -2.3 2.5 0.3zM385.9 370.1l0.5 -2.3 2.3 -0.7 1.8 1.6zM389.8 369.7l-1.9 -0.8 -0.5 -1.9 1.4 -1.2zM385.1 360.6l0.1 -1.7 1.6 -0.6 1.5 1.1zM362.9 370.1l2.9 -1.3 3.1 0.8 0.2 2zM362.3 362.2l1.8 -2 2.5 0.9 0.8 2.9zM382 358.2l1 -1.5 1.8 0 0.7 1.5zM369 366.9l-0.1 -2.4 1.5 -1.8 1.7 0.6zM377.3 357.3l-2.1 -1.6 0.5 -2.6 2.5 -1zM381.9 347.9l-2.2 0.1 -1.3 -1.8 0.9 -1.9zM371.7 382.9l-2.5 1 -2.2 -1.6 0.4 -2.6zM374.1 373l1.4 -1.3 1.9 0.4 0.4 1.7zM383.7 378.2l0.8 -2.1 2.2 -0.4 1.4 1.7zM379.6 371.1l-0.4 -2.6 2 -1.7 2.4 0.9zM387.3 359.3l-2.8 -0.7 -1.8 -2.2 0.9 -1.5zM379.1 358.3l1.3 -1.2 1.5 0.8 0.3 2zM377.6 388.2l-2.5 -0.2 -1.4 -2.1 1.1 -1.9zM376.2 387.8l-2.2 0.5 -1.5 -1.6 0.6 -2.1zM379.8 364l-2.1 1.3 -2 -1.4 0 -2.7zM382.8 362.2l1.8 -2.4 3 -0.5 1.2 1.9zM369.5 368.3l-0.5 -2.1 1.8 -1.3 2.3 0.8zM385.1 375.3l-2.5 0 -1.6 -1.9 0.9 -1.9zM374.4 379.1l1.8 -2.2 2.9 -0.3 1 1.9zM377.9 386.2l-2.1 0.2 -0.8 -1.9 1.2 -2.1zM372 393l1.5 -2.3 2.6 -0.9 1.1 1.4zM394.2 398.5l1.2 -1.5 1.6 1 0.5 2.5zM343.8 404.9l-2.3 0.9 -2.1 -1.3 0.2 -2.2zM381.5 413.6l0.8 -2 2.1 -0.1 1.3 1.9zM372.2 405.2l-1.8 -0.7 -0.5 -1.8 1.3 -1.1zM347.4 414.1l1.8 -1.7 2.5 0.3 0.7 2.1zM366.8 409.7l0.5 -2.5 2.5 -0.5 1.9 2zM353.4 392.3l1.4 -1.5 1.6 1.3 0.2 2.8zM392.3 406.3l-1.5 -2 0.1 -2.5 1.6 -0.5zM346.1 409.2l-0.4 -2.6 1.9 -1.8 2.3 0.8zM337.5 403.1l1.4 -1.9 2.3 -0.5 0.9 1.4zM370.7 413.6l1.6 -2.6 3 -0.2 1.4 2.3zM396.5 403.3l-1.6 -1.9 0.9 -2.3 2.5 -0.4zM343.6 396.4l-0.7 -2.1 1.9 -1.2 2.6 0.9zM351.8 403.1l-3.1 -0.1 -2.5 -1.8 0.6 -1.7zM385.2 395.5l-1.8 0.9 -1 -1.7 0.8 -2.6zM391.9 398.4l1.9 -2 2.7 0.2 0.9 2.2zM386.5 393.7l-0.6 -2.3 1.1 -2.1 1.7 0.2zM347.4 398.5l-2.9 -0.5 -1.4 -2.6 1.5 -2zM357.8 413.2l2.7 -1.8 3.2 0.6 0.5 2.4zM376 401.8l1.7 -2.8 3.2 -0.6 1.5 2.1zM371 419.6l-2.6 0.6 -1.8 -1.9 0.7 -2.5zM370.9 421.9l-1 -2.5 0.7 -2.6 1.7 -0.1zM359.4 393.6l1.8 -2.3 3 -0.1 1.1 2.2zM367.5 396.4l-1.1 -2.2 1.1 -2.2 2.3 0zM367.1 402.7l-0.5 -2.8 1.3 -2.5 1.8 0.3zM334 405.4l-2.8 -0.6 -1.5 -2.4 1.2 -1.8zM371.4 410.6l-1.5 -1.9 1.4 -1.9 2.9 0zM380.2 412.2l-0.7 -1.9 1.4 -1.5 2.2 0.5zM342 413l-0.9 -1.8 1.2 -1.5 2.1 0.2zM345 396.2l1.6 -1.2 1.9 0.5 0.3 1.8zM356 411.6l-2.6 0.4 -1.3 -2.3 1.3 -2.7zM377.2 418.1l-0.6 -3.2 2.2 -2.5 2.8 0.8zM341.2 402.9l-0.8 -1.7 1.4 -1.2 2.3 0.5zM383.3 388.2l-2.3 0.6 -1.8 -1.6 0.5 -2.2zM370.7 391.3l1.9 -1.9 2.7 -0.1 0.8 1.8zM338.7 407.6l1.2 -2.6 2.6 -1.2 1.4 1.4zM349.7 420.9l0.8 -2.1 2.1 -0.7 1.3 1.4zM377.6 409.6l2.4 -2.2 3.2 0.4 0.9 2.6zM381.5 403.8l-2.9 0.2 -1.9 -2.2 1 -2.3zM371.7 409.5l-0.3 -2.2 1.5 -1.7 1.8 0.6zM350.6 390l-1.8 -0.1 -0.4 -1.8 1.5 -1.7zM373.6 418.5l2.1 -1.4 2.3 0.9 0.3 2.3zM361.5 397.7l1 -2.8 2.7 -1.2 1.7 1.6zM352.7 397.1l-2.3 -1.4 -1.1 -2.5 1.2 -1.1zM360 406l-1.4 -1.2 0.1 -1.9 1.6 -0.7zM430 389l1.7 -1.5 2.2 0.3 0.5 1.8zM425.6 370.4l-1 -2.4 1.7 -2 2.7 0.4zM425.1 380.1l-1.8 -2.1 0.4 -2.7 2.2 -0.6zM419.9 385.8l-1 -2.1 1.5 -1.7 2.6 0.4zM428.3 400.9l-2.5 0.2 -1.4 -2.1 1.1 -2.3zM427.5 397.3l-1 -2.2 0.7 -2.3 1.7 -0.1zM424.8 393.2l-2.3 -1.6 -0.3 -2.8 2 -1.2zM427.1 371l-2.2 -0.2 -0.4 -2.1 1.7 -1.9zM432.8 381.3l-0.8 -2.3 1.5 -1.9 2.3 0.4zM422.9 395.1l-2.4 -0.4 -0.6 -2.3 1.7 -1.9zM416.6 388.8l0.4 -2.8 2.6 -1 2.2 1.8zM426 384.5l2.1 -1.8 2.7 -0.3 0.6 1.5zM433.8 379.2l-1.6 -1.2 1.1 -1.7 2.8 -0.5zM414 395.8l1.6 -1.6 2.3 -0.1 0.6 1.5zM433.7 382.5l-2.9 -0.2 -1.9 -2.2 1 -2zM416.2 387.2l-1.6 -1.6 0.1 -2.2 1.7 -0.7zM426.6 398.1l-2.2 0.9 -1.4 -1.9 0.7 -2.8zM428.8 379l0.2 -2.9 2.2 -2 2 1zM428.6 401.5l-2.7 0.6 -1.9 -2 0.8 -2.6zM420.1 372.6l-2.2 -1.1 -1 -2.3 1.2 -1.2zM468.4 336.3l2 -1.9 2.7 0.4 0.8 2.3zM471.9 360l-2.4 -0.2 -1.3 -2 1.1 -1.8zM475.3 364.3l-0.6 -1.6 1.1 -1.4 1.7 0.2zM470.6 339.1l-2.3 -1.1 -1.2 -2.2 1.1 -1.2zM474.4 371l-0.2 -2 1.5 -1.3 1.8 0.7zM452 330.9l-3 0 -1.4 -2.6 1.5 -2.5zM461.9 332.3l-0.2 -2.7 2.1 -1.6 2.3 1zM458.3 384.2l1.5 -1.6 2.1 0.5 0.7 2.1zM457.3 335.2l-1.2 -1.8 1.1 -1.9 2.3 -0.1zM470.1 343.2l1.6 -1.8 2.1 1.1 0.6 2.8zM460.2 368.9l2.2 -1.3 2.5 0.5 0.3 1.8zM477 342.6l1 -1.4 1.5 1 0.4 2.4zM472 377.5l-1.6 -2 0 -2.6 1.6 -0.5zM458.2 378.7l-0.2 -2.4 1.8 -1.7 2 0.8zM463 362.5l1.1 -1.9 2.1 -0.5 1 1.4zM456.2 330.9l0.5 -1.7 1.7 0.2 1.2 1.8zM460 349l-1.9 -1.5 0.5 -2.4 2.4 -0.9zM444.9 351.9l0.8 -2.1 2.2 0.5 1.4 2.6zM460.8 349.7l-1.7 -1.8 0.7 -2.4 2.4 -0.6zM474.2 347.4l-2 0.2 -0.7 -1.9 1.3 -2.1zM465.9 383.7l0.9 -2.5 2.5 -0.8 1.6 1.7zM459.3 350.2l-0.6 -2.9 1.3 -2.6 1.9 0.2zM476.2 344l-1 -1.3 1.3 -1 2.2 0.3zM463.2 340.2l-2 -2.1 0.8 -2.8 2.8 -0.7zM458.9 365l-1.2 -1.1 1 -1.2 2.3 -0.2zM441.1 364l-0.1 -2.5 2.2 -1.3 2.3 1.3zM477.5 357.8l-0.1 -1.7 1.7 -0.3 1.8 1.5zM458.6 379.1l-0.8 -2.3 1.6 -1.9 2.4 0.4zM459.4 343.7l-2.8 -0.6 -2 -2 0.8 -1.5zM465.6 361.1l-2.1 -0.2 -0.9 -1.9 1.2 -1.7zM463.7 381.9l-1.4 0.5 -0.8 -1.3 0.6 -1.8zM441.3 363.7l-0.5 -1.5 1.4 -0.7 1.9 0.8zM447.8 352.8l-1.4 0.6 -0.8 -1.3 0.6 -1.9zM450.6 350.7l0.4 -2.6 2.3 -1.1 2 1.4zM461.6 344.8l1.6 -1.8 2.4 -0.3 0.8 1.5zM507.5 386.3l-2.3 0.3 -1.3 -1.9 1 -2.3zM511.8 394.6l2.1 -2.2 3 0.6 0.9 2.8zM504.8 411.9l0.7 -1.8 1.9 -0.4 1.2 1.4zM498.8 402l-2.2 -1.3 -1 -2.4 1.2 -1.1zM518.2 410.1l-2.8 -1.5 -0.6 -3.1 2.3 -1.6zM521.7 404l-2 -1.8 0.2 -2.7 2.1 -0.9zM512.1 387.9l-2 0.4 -1.6 -1.3 0.4 -1.7zM499.4 397.4l-1.7 -2.1 0 -2.7 1.7 -0.6zM503.8 393.3l-1.7 -1.3 -0.2 -2.1 1.5 -0.8zM505.9 382.4l0.3 -2.7 2.1 -1.7 1.8 1zM525.1 398.8l-1.2 -2.8 0.9 -2.9 2.1 -0.1zM522.2 393.2l-2.7 -1.2 -1.2 -2.7 1.5 -1.5zM520.8 395.3l0.3 -2.1 1.7 -1.2 1.4 0.9zM507.7 408.4l-1.2 -2.6 1.6 -2.4 2.9 0.3zM514.1 405l1.7 -2.5 3 0 1.4 2.5zM508.4 392.3l-2.5 0.3 -2 -1.5 0.5 -1.9zM510.7 390l-2.7 1.2 -2.7 -1.2 0 -2.5zM498.6 388.1l0.4 -3 2.4 -1.9 2 1.1zM499.7 411.2l0.9 -2.2 2.3 -0.6 1.4 1.5zM511.5 401.6l0.7 -2.7 2.5 -1.2 1.8 1.5zM494.5 402.7l2.9 -1.5 3.2 0.4 0.3 1.9zM509.8 410.8l-3.3 1 -2.8 -2 0.5 -2.9zM494.5 408.8l0.9 -3.1 2.5 -2 1.6 1.1zM498.2 408.8l-2.8 0.4 -2.1 -1.9 0.7 -2.4zM514.5 405.3l-2.1 -0.4 -0.9 -2 1.3 -1.6zM491 402.6l-2.3 -2.1 0.5 -3.1 2.8 -1zM497.5 411.3l1.2 -1.9 2.3 0.4 1 2.3zM501.1 386l-2 -0.5 0.1 -2 2.1 -1.5zM489.1 398.6l1.6 -3 3 -1.5 1.5 1.5zM512.6 384l2 -2.3 3 -0.2 1 2.1zM520.6 391.6l-2.6 0.8 -1.8 -2 0.8 -2.8zM506 407.5l1.4 -3.1 3.3 -1 1.8 2.1zM491.5 395.3l2.5 -1.8 3 0.6 0.5 2.3zM508.1 399.3l1.5 -1.1 1.6 0.9 0.1 2zM501.7 393.9l-2.2 0.3 -1.6 -1.5 0.6 -1.7zM518.9 399.4l3.2 -1.3 3.3 1 0.1 2.3zM504 408.7l-2.7 -0.6 -1.2 -2.5 1.5 -1.9zM502.8 382.8l2.4 -1 2.5 0.9 0.1 1.9zM525.1 401.7l-2.5 0 -1.3 -2.1 1.2 -2.1zM499.1 397.4l-2 0.4 -0.6 -1.9 1.3 -2.3zM581.3 324.7l0 -1.7 1.7 -0.1 1.7 1.6zM607.4 330.3l-1.1 -2.7 1 -2.7 2.1 0zM607.6 315.5l-2.5 0.5 -2.3 -1.1 0.2 -1.6zM589.8 322.7l-2.3 -1.5 -0.5 -2.7 1.8 -1.2zM604.1 326.8l-1.7 -0.9 0.3 -1.9 2 -1zM582.7 323.2l-1.1 -1.5 0.9 -1.6 2 -0.1zM580.2 319.9l-1.6 -1.3 0.2 -2 1.8 -0.7zM616.1 330.8l-1.4 1.3 -1.3 -1.4 0.1 -2.7zM586.3 314.8l-2 -0.3 -0.3 -2 1.6 -1.6zM623.1 334.9l-0.9 -1.1 0.7 -1.2 1.6 -0.1zM589.6 317.9l-1.7 1.1 -1.6 -1.3 0.1 -2.5zM625.3 316l-1.1 -1.6 0.8 -1.7 1.8 -0.2zM585.3 322l-1.8 0 -0.7 -1.6 1 -1.6zM615.1 331l0.7 -2.2 2.2 0.3 1.6 2.5zM611.6 315.8l-0.2 -1.6 1.5 -0.4 1.7 1.1zM595.2 313.7l-2.3 0.8 -1.9 -1.5 0.4 -2.3zM630 326.5l1.1 -1 1.3 0.8 0.2 1.8zM618.3 329l-1.4 -0.8 0.8 -1.4 2.2 -0.5zM597 330.4l-2 0.9 -2 -0.9 0 -1.7zM599.5 335l-1.2 -1.3 0.8 -1.5 2 -0.3zM616.8 333.7l-0.5 -2.5 1.9 -1.6 2.5 0.9zM622.5 323.6l-1.2 -0.9 0.6 -1.4 1.8 -0.5zM624.6 322.4l0.7 -2.9 2.7 -1.4 1.9 1.5zM599.4 326.8l-2 -1.7 0 -2.6 2 -0.9zM617.1 325.6l-2.5 -1 -1.1 -2.4 1.4 -1.4zM595.8 325.8l1.3 -1.3 1.6 0.9 0.3 2.2zM627.8 320.1l1.3 -2.5 2.8 -0.3 1.5 2.1zM610.2 330.1l-1.8 -0.9 -0.1 -2 1.8 -1.2zM609.1 330.6l-1.1 -1.2 0.4 -1.6 1.6 -0.4zM621.7 330l-2 0.4 -1.1 -1.7 0.9 -2zM584.8 322.8l-1.6 -1.5 1 -1.9 2.6 -0.4zM612.5 335.9l-1.4 -1.1 0.6 -1.7 2 -0.6zM614 330.7l-2.2 -1 -0.3 -2.4 1.9 -1.4zM616.9 331.2l-0.1 -1.6 1.5 -0.5 1.6 1.1zM619.9 335.9l-1.6 0.3 -1 -1.3 0.6 -1.6zM611.4 367.2l-0.7 -1.7 1.7 -0.7 2.4 1zM602 383.6l0.5 -2.4 2.2 -0.9 1.8 1.4zM608 372.7l-0.2 -2.5 2.1 -1.3 2.3 1.1zM624.7 373.8l-1.5 -1.3 0.6 -1.9 2.1 -0.6zM616.2 388.2l-0.9 -1.5 0.8 -1.6 1.7 -0.1zM622.1 372.4l-2.2 -1.4 -0.2 -2.6 2 -1.2zM613 378.9l-2.3 0.8 -1.9 -1.4 0.4 -2.2zM610.8 391.1l1.2 -2.7 2.9 -0.6 1.7 2.1zM618.2 370.5l0.9 -1.2 1.5 0.3 0.6 1.6zM619.7 376.2l1.6 -1.3 1.7 1.2 0.1 2.5zM606.9 374.7l2.2 -2.2 3.1 0.6 0.8 2.8zM614.2 387.1l-2.9 0.7 -2.1 -2.1 0.8 -2.8zM606.3 380.9l1.9 -1.7 2.4 0.7 0.6 2.4zM602.2 373.9l2.5 -1.4 2.8 0.8 0.2 2.2zM607 375.7l-0.9 -2.5 1.1 -2.4 2 0.1zM654.8 424l0.1 -1.5 1.5 -0.2 1.4 1.3zM640.2 415.7l2.8 -1.3 2.8 1.1 0.1 2.4zM629.5 422.4l-1.4 -1.4 0.5 -1.9 1.9 -0.5zM638.1 421l1.8 -2.2 2.8 -0.2 1 2zM660.9 424.9l-1.5 1 -1.4 -1.2 0.2 -2.3zM669.2 426.5l-2.7 0.7 -2.3 -1.5 0.4 -2.2zM642.6 420.3l-1.7 0 -0.8 -1.5 0.9 -1.5zM658.9 427l-1.7 -1.4 -0.3 -2.2 1.4 -0.8zM658.8 431.9l-1.8 -2.4 1 -2.9 2.7 -0.4zM625.1 422l1.1 -1.5 1.9 -0.1 0.8 1.5zM665.4 425.7l-0.4 -2.1 1.8 -1.2 2.2 0.9zM654.5 412.3l-1.8 -1.4 0.9 -2.2 2.7 -0.7zM646.6 428.7l2.4 -1 2.4 0.9 0 1.9zM647.9 412.3l-1.5 0.2 -0.7 -1.3 0.8 -1.5zM638.5 416.4l1.1 -1.6 1.7 0.9 0.6 2.4zM622.5 425.4l1 -2.7 2.8 -0.5 1.8 2.2zM664.4 426.7l1 -3 3 -1 2 2zM651.1 426.7l-2.8 0.5 -2 -2 0.8 -2.5zM670.4 427.9l-1.4 -0.8 0.1 -1.6 1.4 -0.8zM634.5 428.5l-2.4 -0.8 -1.3 -2.2 1.2 -1.4zM672.8 420.3l2.4 -1.8 3 0.4 0.6 2.2zM660.6 423.6l-0.4 -2.9 1.8 -2.3 2.1 0.6zM630.1 422.9l-2.4 0.8 -1.8 -1.9 0.7 -2.7zM677.2 417l-2.3 0.5 -1.7 -1.6 0.6 -2.1zM652 421.7l0.2 -2.7 2.1 -1.7 1.8 1zM633.6 414.8l-2.6 0.6 -2.4 -1 0.1 -1.6zM649.6 414.1l-1.9 -1.3 -0.5 -2.3 1.5 -1zM633.7 425.2l1.4 -1.7 2 0.9 0.6 2.6zM658.9 413.9l-2 -1.5 0.3 -2.5 2.3 -1zM654.8 424.3l-2 0.7 -1.4 -1.6 0.6 -2.2zM783.4 356.9l-2.3 0.3 -1.7 -1.6 0.6 -1.8zM783.8 360.6l0.2 -2.9 2.6 -1.4 2.4 1.5zM792.6 376.2l2.2 -1.4 2.6 0.2 0.4 1.7zM802.9 359.9l1.7 -2.3 2.8 0.1 1.2 2.4zM791.5 367.8l-1.6 0.8 -1.5 -0.9 0.1 -1.6zM804.8 365.5l-1.7 -2.8 0.9 -3.2 2.6 -0.4zM784 371.3l-2.7 -0.2 -0.9 -2.5 1.8 -2.3zM791.7 367.8l1.3 -2.9 2.9 -1.3 1.6 1.6zM783.6 371.7l-0.7 -2.3 1.5 -1.8 2.2 0.4zM792.8 335.1l0.3 -2 2 -0.2 1.7 1.8zM788 363.7l-3.2 -0.4 -2 -2.5 1.2 -2.1zM798.3 366.9l-1.6 -3 1.1 -3.2 2.7 -0.2zM791.2 340.4l-2.6 -1.4 -1 -2.8 1.6 -1.3zM785.9 372.8l1.8 -2.8 3 -1.4 1.2 1.4zM777.7 362l0.8 -1.8 1.9 -0.4 1.1 1.4zM791.7 334.2l3.3 -1.8 3.5 1.2 0.3 3zM798.9 347.6l-0.2 -2.1 1.8 -1 2 1.1zM781.5 340l2 -2.8 3.3 -0.7 1.3 2.1zM796.2 350.8l2.3 -1.6 2.7 0.4 0.5 2zM793.7 375.8l-2.2 -2.5 -0.1 -3.3 2 -0.8zM788.5 352.2l0.6 -3.3 2.1 -2.6 1.5 0.7zM790.7 343l-2.7 0.9 -2.6 -1.2 0.1 -2.1zM799.2 373.7l-2.8 0.1 -1.7 -2.2 1.1 -2.3zM785.8 369.9l-1.8 -1.6 0.4 -2.4 2.2 -0.8zM802.6 342.6l-1.8 -1.5 0.6 -2.3 2.5 -0.8zM798.7 357.1l1.8 -1.8 2.4 0.8 0.6 2.5zM798.3 340l1.6 -2.3 2.8 0.4 1.2 2.7zM800.5 365.5l-2.6 0.8 -2.1 -1.8 0.5 -2.6zM798.5 339.1l0.4 -2.6 2.4 -1 2 1.6zM800.1 356.6l-3.2 -0.5 -2 -2.5 1.1 -2zM780.7 351.8l-3 0.1 -1.7 -2.4 1.3 -2.6zM800.4 349.1l1.1 -2.3 2.5 -0.1 1.4 2.1zM799.7 365.5l-3.4 0.9 -3.1 -1.7 0.3 -2.7zM800.2 366.3l-3.1 -0.8 -1.2 -3 1.9 -2.2zM782.2 341.7l-0.6 -3.6 2.1 -3 2.7 0.6zM806.7 363.3l-3.6 -0.7 -2.4 -2.7 1.2 -2zM793.5 358.1l-2.6 0.5 -2 -1.8 0.6 -2.3zM781.8 353.1l-3.3 0.4 -2.9 -1.6 0.4 -2.1zM800.3 350.7l2 -1.3 2.2 0.8 0.2 2.1zM784.6 372.7l-1.4 -2.2 1.4 -2.2 2.8 0zM796.5 372.2l-1.9 -2.2 -0.3 -2.9 1.6 -0.7zM783.8 365.2l-1.5 -1.9 0.1 -2.5 1.6 -0.5zM800.6 345.8l-0.8 -1.6 1.1 -1.4 1.9 0.2zM797.3 369.2l-2.9 -1.9 -1 -3.3 1.9 -1.4zM792.1 339.2l0.1 -2.3 1.9 -1.3 1.8 0.9zM753.2 406.4l-1.9 -1 0.3 -2.1 2.2 -1.1zM766.5 392.6l1 -2.7 2.5 -1.5 1.5 1.3zM775.9 407.6l0.6 -2.5 2.5 -0.3 2 2.2zM787 390.5l1.8 -2.2 2.8 -0.3 1 1.9zM767.1 402.3l-2.6 -1 -0.9 -2.7 1.7 -1.6zM791.1 392.7l1.3 -2.6 2.9 -0.2 1.6 2.4zM752.2 395.6l-2.2 0.7 -1.8 -1.4 0.3 -2.1zM770.9 397.5l-2.4 -0.5 -1.4 -1.9 0.9 -1.4zM745.6 405.7l1.7 -1.8 2.4 0.3 0.7 2.1zM769.1 401.2l-2 -0.9 0.3 -2.2 2.3 -1.2zM783.1 415.1l1.3 -3.1 3 -1.5 1.7 1.6zM783.4 410.2l-3 -1.6 -2 -2.8 1.1 -1.2zM748.9 402l-1.8 -1 0 -2 1.7 -1zM760.5 393.7l-2.2 0.9 -1.3 -2 0.9 -2.8zM756.2 396l-1.3 -1.8 1.5 -1.7 2.8 0.1zM759.8 388.9l0.9 -1.9 2.1 0.2 1.2 2.1zM748.4 402.8l-1.9 -3 0.4 -3.5 2.3 -0.5zM779.6 395.5l-3 -1.4 -0.8 -3.2 2.2 -1.8zM787.9 413.2l1.7 -3.3 3.6 -1.1 1.9 2.3zM790.4 409.1l-2 0.2 -1.3 -1.5 0.7 -1.7zM773.9 389.3l-1.9 -2.4 -0.2 -3.1 1.7 -0.6zM784.1 404.5l0.5 -2 2.1 0.3 1.5 2.3zM794 398.5l0.9 -2.7 2.7 -1 1.8 1.8zM757.4 406.3l0.1 -2 1.7 -1 1.7 1zM756 398.7l-2 -0.3 -0.3 -2 1.7 -1.7zM786.3 402.1l-0.3 -2.9 2 -2.2 2.3 0.8zM753.2 404.4l-1.9 -0.3 -0.9 -1.8 1.1 -1.5zM765.1 413.9l-2.2 -2.5 0.1 -3.3 2.3 -0.8zM766.5 404.1l2.8 -2.5 3.7 0.2 1 2.7zM770.3 396.5l-1.2 -3.4 1.6 -3.3 2.8 0.2zM780.6 388.3l-2.2 -1 -0.2 -2.5 2 -1.4zM799 409.1l0.3 -1.9 1.9 -0.1 1.6 1.8zM804.1 401.1l-0.4 -3.1 1.3 -2.9 1.7 0.2zM799.4 411.2l-2.4 -0.6 -0.1 -2.4 2.3 -1.8zM760.8 392.4l-2.6 0.3 -2.2 -1.3 0.3 -1.6zM756.8 406.4l0.8 -2.4 2.6 -0.1 1.7 2.3zM748 406.7l2.3 -2 3 0 0.7 2zM795 391.4l-2.8 -0.8 -1.2 -2.7 1.6 -1.9zM795.5 401.5l-1.7 -2.1 -0.2 -2.6 1.5 -0.6zM779.7 412.2l-3.1 0.8 -2.8 -1.7 0.4 -2.5zM785.8 394l0.4 -1.7 1.7 -0.4 1.3 1.3zM766.5 399.9l0.1 -3.7 2.4 -2.8 2.4 0.9zM787.6 390.2l0.4 -2.1 2 -0.5 1.7 1.5zM781.2 387.5l-3.2 0.2 -2.1 -2.4 1 -2.6zM754.9 405.9l1.4 -1.6 1.6 1.4 0.2 2.9zM787.5 395.5l1.2 -3.4 3.2 -1.8 2 1.7zM754.7 398.3l-2.4 -1.1 -0.5 -2.6 1.9 -1.5zM753.7 393.2l-2.6 -0.3 -0.6 -2.5 2 -2.2zM805.5 403l-2.7 -2.3 -0.8 -3.4 1.9 -1.1zM774.6 395.7l-2.2 -0.6 -0.9 -2.1 1.3 -1.5zM775.5 398.7l-2.5 0.7 -2.2 -1.5 0.3 -2.2zM762.2 401.7l-2.7 0.1 -2 -1.7 0.6 -1.9zM808.6 401.4l-1.6 1.4 -1.5 -1.4 0 -2.8zM799.5 400.8l-2.2 -0.6 0.2 -2.3 2.4 -1.8zM786.2 397l1.9 -1.1 2 1.1 0 2.2zM755.4 405.2l3.2 -1.4 3.5 0.3 0.3 1.7zM784.2 395.4l2.3 -2.4 3.3 -0.2 1.1 2.3zM771.4 408.8l-2.8 0.6 -2.2 -1.8 0.6 -2.4zM776.1 391.6l-2.7 -1.4 -1.6 -2.6 1.1 -1.2zM792.2 396.5l-1.8 1 -1 -1.8 0.8 -2.7zM721.4 430.3l-1.8 -1.3 -0.1 -2.2 1.7 -0.9zM670.8 421.1l-2.1 -0.9 -0.6 -2.2 1.5 -1.3zM722.8 416.2l-1.8 0.2 -1.2 -1.4 0.6 -1.5zM681.7 427.7l1.3 -1.9 2.1 0.7 0.9 2.6zM696.8 430.3l-1.7 -0.7 0.3 -1.8 2 -1.1zM685.7 417.3l0.4 -2.3 2.1 -0.9 1.7 1.3zM714.8 420.2l2.3 -1.7 2.8 0.1 0.5 1.8zM695 431.3l-2.9 -1 -0.9 -2.9 2 -1.9zM670.7 427.1l1.5 -1 1.5 0.9 0.1 1.8zM673.9 429.9l0.8 -2.3 2.3 -1 1.4 1.3zM718.4 427.9l-0.9 -3.3 1.4 -3.1 2.3 0.2zM676.3 425.4l-1.1 -1.3 0.7 -1.6 1.9 -0.3zM688.9 428.6l2.5 -1.5 2.9 0.3 0.4 1.8zM676.1 419.6l0.8 -2.5 2.6 -0.4 1.8 2.1zM690.6 418.4l-2.2 -1.6 -0.4 -2.7 1.8 -1.1zM730 420.7l-1.7 -0.7 -0.2 -1.8 1.5 -1.1zM697.6 430.9l0.8 -3.2 2.8 -1.8 2 1.4zM707.2 429.7l-2.9 -0.8 -2 -2.3 1 -1.5zM697.5 422.7l-1.8 -0.6 -0.4 -1.9 1.4 -1.3zM696.3 415.7l0.9 -2.9 2.9 -1 2 1.9zM739.2 421l-2.3 0.8 -2.2 -1 0.1 -1.8zM690.1 420.5l-1.2 -1.8 1 -2 2.2 -0.1zM698.3 426.4l-2.7 0.5 -2 -1.9 0.8 -2.5zM730.7 417.4l-3.2 0.3 -2.6 -1.9 0.6 -2.2zM703.7 426.7l-1.3 -2.2 1.3 -2.2 2.6 0zM672 426.2l-0.2 -2.5 1.7 -1.9 1.9 0.6zM677.5 419.4l0.6 -1.7 1.8 -0.1 1.1 1.6zM698.1 428.4l-1 -2.3 1 -2.3 2 0zM704.9 429.8l-2.8 -0.5 -2 -2 0.8 -1.5zM696.9 425.4l-0.1 -3.4 2.5 -2.3 2.6 1.1zM683.6 429.3l-2.2 -1.1 -0.9 -2.3 1.3 -1.2zM720.3 429.7l1.7 -1.4 1.8 1.3 0.1 2.8zM723.3 415.4l-2.1 0.4 -0.6 -2.1 1.5 -2.5zM685.9 422.9l2 -1.7 2.3 1.2 0.3 2.8zM689.1 420l1.7 -1.6 2.2 0.9 0.4 2.5zM726.2 427l-1.2 -2.4 1.6 -2.1 2.9 0.3zM699.5 427.8l-2.6 -1.5 -0.3 -3 2.3 -1.5zM702 430.7l-2.1 -1.2 -0.8 -2.3 1.3 -1.1zM676.8 420.6l-1 -2 1 -2 2 0zM683.1 420.9l-1.6 -2.1 0.4 -2.6 2.1 -0.5zM745.4 424.7l-2 -2.4 0.7 -3.1 2.7 -0.6zM707.2 429.7l-3.3 0.7 -2.6 -2.1 0.7 -2.8zM739.4 427.2l-1.2 -3.2 1.4 -3.1 2.6 0.1zM663 421.5l-2.3 0 -1 -2.1 1.3 -2.1zM703.9 418.6l-1.3 -1.4 0.6 -1.8 1.9 -0.4zM711 424.7l-2.5 -0.2 -1.1 -2.2 1.4 -2.1zM721.2 431.6l-0.5 -2 1.5 -1.5 1.9 0.6zM656.8 423.4l-2 -0.2 -1.1 -1.6 0.9 -1.4zM716.8 427.8l-3.4 -0.1 -2 -2.8 1.4 -2.6zM719.7 427l-2.4 1 -2.4 -1 0 -2.1zM810.6 420.5l1.3 -2.6 2.8 -0.8 1.5 1.8zM839.3 389.5l-1.6 -2 1.1 -2.3 2.8 -0.3zM808.8 406.7l-1.4 -2.9 0.5 -3.1 1.9 -0.3zM878.7 423l0.3 -2.2 2 -0.9 1.7 1.3zM849.2 410.6l-2.8 -1 -1 -2.8 1.8 -1.8zM909.6 402.2l-2 -1.5 -0.7 -2.4 1.4 -0.9zM806.5 399.8l-0.8 -1.5 1.2 -1.2 2 0.3zM859.7 414.3l-2.1 -1.3 -0.5 -2.4 1.6 -1.1zM834.4 385.6l-2.1 -0.9 -0.3 -2.2 1.7 -1.3zM918.5 402.2l-1.4 -0.9 0.6 -1.5 2 -0.6zM856.9 387.5l0.3 -3.2 2.3 -2.2 2 1zM845.7 409.7l-2.8 0.8 -2.3 -1.8 0.5 -2.7zM818 394.4l-1.3 -2.4 0.9 -2.5 2.2 -0.2zM874.5 413.6l0.8 -2.4 2.5 -0.4 1.7 2zM816 404.8l-0.4 -2.5 2 -1.6 2.5 0.9zM867.4 410.2l1.4 -1.9 2.3 0.1 1 2zM842.4 392.1l1.5 -1.4 1.9 0.7 0.4 2zM899.6 418.9l-2.5 1 -2.5 -1 0 -1.9zM805.3 397.2l-2.4 -2 -0.5 -3.1 1.9 -1.1zM842.4 423.1l-1.8 -1.2 0.3 -2.1 2.1 -0.9zM839.1 408.6l-2 -2.1 0.8 -2.8 2.8 -0.7zM822.1 417.7l-2.3 -2.2 -0.6 -3.1 1.7 -0.9zM847.5 423.5l-0.2 -2.9 1.4 -2.6 1.6 0.3zM875.4 393.9l-3 1.4 -3 -1.4 0 -2.8zM836.2 387.5l-0.8 -2.1 1.6 -1.6 2.5 0.5zM830.7 401.7l-2.6 -0.1 -1.6 -2.1 1 -2zM879.9 389.9l-2.5 -0.2 -1.4 -2.1 1.1 -1.9zM850.3 391.1l1.3 -2.1 2.4 -0.5 1.1 1.6zM870.8 421.8l-1.4 -2.4 0.4 -2.8 1.8 -0.3zM788.5 408.4l-2.2 -2.1 -0.2 -3 2 -0.9zM854.4 403.3l-2.2 0.4 -0.7 -2.1 1.5 -2.6zM794.6 398.9l2.5 -1.7 3 -0.1 0.5 1.6zM852.2 393.7l1.7 -1.1 2 0.5 0.3 1.6zM819.6 395.1l-1.6 1.3 -1.5 -1.4 0.1 -2.7zM810.5 408.6l-1.1 -1.1 1 -1.2 2 -0.1zM815.1 394.9l-1.7 -2 -0.1 -2.6 1.6 -0.6zM790.1 406l-2.2 -0.7 -0.8 -2.1 1.4 -1.5zM808.5 392.2l2 -2.3 2.9 -0.8 0.9 1.5zM830.6 395.4l1.8 -2.1 2.7 -0.1 0.9 2zM884.7 396.9l-2.7 -1.1 -0.5 -2.9 2.2 -1.7zM876.3 408.4l0.1 -1.7 1.7 -0.1 1.7 1.7zM783.7 406.1l1.2 -2.1 2.4 0.1 1.2 2.2zM886.9 404.3l-0.3 -2.3 2.1 -1.2 2.3 1.2zM893.1 388.5l-2 0.9 -1.8 -1.3 0.2 -2.2zM811.2 394.6l-1.8 -2.4 0.7 -2.9 2.5 -0.5zM852.6 414.4l1.4 -2.7 3 -0.7 1.5 2zM901.9 392.2l-1.5 -1.9 1.5 -1.9 3 0zM895.8 420.4l-1.7 1 -1.1 -1.6 0.6 -2.6zM805.1 418.9l-1.7 0.6 -1.1 -1.4 0.6 -2zM894.4 401.2l1.4 -1.9 2.3 0.5 0.9 2.4zM791.5 402.2l-2.2 -0.3 -1.1 -1.9 1.1 -1.6zM878.7 394.2l1.5 -2.5 2.8 -0.4 1.4 2zM909.8 396.8l1.7 -1.6 2.1 0.8 0.5 2.4zM847.4 424.3l-2.2 -2.4 0 -3.2 2.2 -0.8zM903 402.4l-3.3 0.2 -2.2 -2.5 1.1 -2.7zM788.3 409.2l1.5 -1.9 2.4 0.4 0.9 2.3zM888.4 396.2l0.6 -2 2.1 0.1 1.5 2.1zM810.9 390.1l-0.1 -2.8 2.5 -1.4 2.6 1.4zM902.5 415l0.5 -1.3 1.4 0.1 0.9 1.5zM801.6 416.3l-3.2 0.3 -2.4 -2.1 0.8 -2.4zM839 426.1l-0.4 -1.5 1.3 -0.8 1.7 0.7zM888.1 398l0.4 -2.6 2.3 -1.2 1.9 1.4zM805.9 390.8l0.7 -3.3 3 -1.6 2.3 1.7zM890.3 417.3l-1.7 -0.3 -0.2 -1.8 1.6 -1.5zM862.3 400l1.8 -1.3 1.9 1.1 0.1 2.5zM886.2 406.9l1.2 -2.4 2.7 -0.3 1.5 2.1zM920.9 406.1l-3.1 1.1 -2.7 -1.8 0.4 -2.9zM886 425.7l-2 -1.2 0.6 -2.3 2.5 -1zM789.2 410.1l1.1 -2.4 2.5 -0.9 1.4 1.6zM842.6 400.9l2.5 -2 3.2 0.3 0.7 2.3zM844.3 427.3l0.9 -2.5 2.6 -0.6 1.7 1.9zM837.7 407.4l-1.9 0.2 -1.4 -1.4 0.6 -1.6zM868.9 412.8l-2.2 1 -2 -1.3 0.2 -2.3zM789.9 404.9l-2.2 -0.7 -0.6 -2.3 1.7 -1.6zM838.4 408.9l0.2 -2 2 0 1.9 2.1zM865.4 393.3l-2 -0.5 0 -2.1 2.1 -1.6zM813.5 404.7l0.1 -3.2 2.5 -2 2.4 1.2zM836.7 389.5l-0.8 -3 1.2 -2.9 2 0.1zM881.4 403.3l-0.7 -2.7 1.1 -2.6 1.8 0.1zM914.3 398l-0.9 -1.6 1.5 -1 2.4 0.6zM884.1 396.2l0.7 -2.8 2.3 -1.8 1.5 1zM891.8 420.4l2.4 -1.7 2.9 0 0.6 1.7zM793.9 418.1l1.7 -1.5 2.2 0.7 0.5 2.3zM886.4 405.3l1 -1.6 1.8 0.3 0.8 1.9zM882.8 405.5l-1.3 -2.2 0.7 -2.4 1.9 -0.2zM868.3 419.6l0.5 -2.1 2.2 -0.4 1.7 1.7zM896.3 397.6l0.6 -2.5 2.4 -1 1.8 1.6zM807.1 402.5l-2.9 0.2 -2.4 -1.6 0.5 -1.8zM803.9 407.1l2.3 -1.5 2.5 1.1 0.2 2.6zM915.9 408.6l-2.4 0.7 -1.8 -1.7 0.6 -2.4zM895.4 320.3l1.3 -1.9 2.3 0.6 1 2.5zM899.7 308.8l-1.7 -1.7 0.7 -2.3 2.4 -0.6zM900.2 309.4l0.7 -1.6 1.7 0.1 1 1.7zM905.9 318.8l-1.5 -1.4 1.3 -1.6 2.8 -0.2zM896.2 316.4l-1.9 -0.8 0.1 -2.1 2.1 -1.3zM903.7 318l1.4 -2.1 2.5 -0.6 1.1 1.5zM901.1 312.5l-2.7 0.6 -2 -1.9 0.7 -2.5zM909 315.9l-2.6 -1.4 -0.2 -3 2.4 -1.5zM886.5 317.5l-0.7 -1.8 1.8 -0.9 2.5 1zM906.1 314.2l0.4 -2.4 2.3 -0.7 1.9 1.7zM1023.9 327.9l-2.1 0.9 -2.1 -0.9 0 -1.7zM1022.8 335.3l-1.9 -2 0.3 -2.8 2.2 -0.8zM1013.1 321.1l-0.4 -2.4 2.2 -1.1 2.6 1.4zM1014.9 333.6l-1.5 -1.2 0.5 -1.9 2 -0.6zM1037.8 336.9l-2.3 0.7 -1.9 -1.5 0.4 -2.2zM1033.5 321.7l-0.8 -1.5 0.8 -1.5 1.7 0zM1019 322.9l-2.5 -1.5 -0.2 -2.9 2.2 -1.4zM1008.9 331.3l0.3 -2.6 2.1 -1.6 1.8 1zM1034.2 337.8l-2.7 0 -1.6 -2.2 1.1 -2.1zM1027.2 325.8l-1.1 -2.6 1.1 -2.6 2.3 0zM1014.8 325.3l-2.6 0.2 -1.2 -2.3 1.4 -2.5zM1034.5 322.5l-0.2 -2.2 1.9 -1.1 2.1 1.1zM1028.3 329.1l0 -1.7 1.5 -0.7 1.6 1zM1021 341.8l2 -2 2.8 -0.6 0.8 1.4zM1030 337.1l0.7 -1.8 1.9 -0.1 1.2 1.7zM1030.3 317.9l-2.8 -0.1 -1.1 -2.5 1.7 -2.5zM1023 326.9l1.2 -1.9 2 1 0.8 2.9zM1008.7 330.8l-2 -1.1 -0.4 -2.2 1.6 -1.1zM1020.8 320.4l-1.8 0.2 -0.7 -1.7 1.1 -1.9zM1014.9 335.4l0.9 -1.7 1.9 0.2 1 1.8zM983.2 365.4l1.2 -1.1 1.5 0.6 0.3 1.8zM909.3 407.9l-0.6 -2.5 2 -1.7 2.6 0.9zM1009.6 403.4l-0.5 -2.6 2.2 -1.5 2.7 1.1zM1014.2 403.3l-2.4 -1.4 -0.1 -2.8 2.3 -1.4zM960.1 387.1l0.3 -2.1 2.1 0.1 1.8 2.2zM973.4 368.1l-1.5 -1.7 0.2 -2.2 1.7 -0.6zM979.4 405.7l1.3 -1.4 1.5 1.1 0.2 2.5zM1013.5 385l-0.4 -2.1 1.5 -1.6 1.9 0.6zM967.3 380l-1.5 0.9 -1.2 -1.3 0.4 -2.2zM1010 397.2l-1.8 -0.1 -0.3 -1.8 1.5 -1.7zM1017.5 393.4l-1.8 0.2 -0.9 -1.6 1 -1.9zM954.1 365.7l-2.3 -0.1 -1.2 -2 1.1 -1.9zM1016.9 384.3l-1.8 -1.4 -0.1 -2.3 1.8 -0.9zM958.9 415.6l-2.5 0.2 -1.6 -2 0.9 -2.2zM954.3 410.1l-2.6 1.2 -2.3 -1.7 0.3 -2.9zM963.9 377.6l-2.2 0.6 -1.6 -1.6 0.6 -2.2zM927.5 392.5l1 -1.4 1.6 0.4 0.6 1.8zM987 408.9l-1.4 -1.2 0.8 -1.6 2.2 -0.4zM991.6 368.2l-2.2 0.1 -0.7 -2.1 1.5 -2.2zM955.1 402.7l0.7 -2.2 2.2 -0.5 1.5 1.7zM934.8 377.4l-2.4 -0.4 -1.1 -2.2 1.3 -1.8zM1012.2 387l1.1 -1.8 2 0.7 0.9 2.5zM953.4 417l-1.3 -2.1 1.6 -2 2.9 0.2zM932.6 387.2l-0.9 -1.6 1.4 -1.2 2.3 0.4zM959.4 403.8l-1.7 0 -0.2 -1.7 1.5 -1.7zM985.9 381.4l0.8 -1.5 1.6 0.6 0.8 2.1zM970.5 367.8l0.9 -1.2 1.4 0.7 0.4 1.9zM973 417.8l-2.1 -0.8 -0.3 -2.2 1.8 -1.4zM967.4 386.1l-2.4 -0.8 -0.7 -2.5 1.7 -1.7zM941.8 394.2l-1.9 -0.4 0 -1.9 1.8 -1.5zM980.2 415.7l-1.3 0.7 -1.2 -1 0.1 -1.7zM918.5 391.2l0.2 -1.8 1.6 -0.7 1.5 1.1zM1003.3 381.2l-0.4 -2.1 1.6 -1.5 2 0.6zM966.8 372.2l1.9 -1.9 2.7 0.1 0.8 2zM987.6 407.4l-2.1 0.8 -1.9 -1.2 0.2 -2zM934.8 413.6l0.2 -2.2 2.3 -0.1 2 2.2zM970.6 384.8l-0.1 -2.6 2.4 -1.1 2.5 1.5zM905.4 391l-2.5 0.7 -1.8 -1.8 0.7 -2.5zM908.6 387.6l-0.8 -2.6 1.6 -2.2 2.4 0.4zM1000.6 370.2l0.8 -1.3 1.5 0.4 0.7 1.7zM956.3 320.5l-1.5 1 -1.1 -1.4 0.3 -2.4zM978.5 348.5l1.9 -1.4 2.4 0.1 0.5 1.6zM968.5 317l-2.1 -0.7 -0.1 -2.2 2.1 -1.5zM928 324.4l0.3 -1.8 1.8 0.2 1.5 2zM984.6 335.8l0.4 -2.7 2.5 -1.3 2 1.5zM983.4 322.7l-1.8 1 -1.4 -1.4 0.3 -2.4zM975.9 347.1l-0.4 -1.7 1.4 -1.1 1.8 0.6zM976.6 319.2l-0.5 -2.2 1.4 -1.8 1.9 0.4zM982.8 320.7l0.9 -1.5 1.7 -0.1 0.8 1.4zM915.8 340.4l-1.5 -1.7 0.2 -2.2 1.7 -0.6zM966.4 347.1l2.1 -2 2.8 0.9 0.7 2.9zM961 313.3l-0.4 -2.2 2 -1 2.4 1.2zM969.8 335.5l2.1 -1.9 2.6 1 0.5 2.9zM956.6 350.6l0.7 -1.2 1.4 0.3 0.7 1.5zM976.7 330.1l0.7 -1.6 1.7 0 1 1.5zM942.9 348.2l0.1 -1.7 1.5 -0.7 1.5 1zM928.6 323.1l-2 0.6 -0.7 -2 1.3 -2.6zM957.4 318l-0.2 -2.4 2.1 -1.1 2.3 1.3zM994.1 321.3l1.2 -1.4 1.8 0.3 0.6 1.6zM973.4 308.1l-2.5 0.7 -2.2 -1.4 0.3 -2.1zM975.5 341.5l-1.6 -0.5 0.5 -1.6 2.1 -1.1zM942.6 311.7l1.5 -1.6 1.9 1.2 0.4 2.9zM938.2 338.5l-2.3 0.1 -1.3 -1.9 1 -2zM973.5 349.6l0.6 -2.1 2.2 0.1 1.6 2.2zM966.7 308.7l-1.7 0 -0.5 -1.7 1.3 -1.7zM771 246.7l-0.2 -1.5 1.2 -0.8 1.5 0.6zM760.5 183.8l-0.7 -2.3 1.9 -1.5 2.6 0.8zM782.2 121.4l-0.9 -1.1 1 -1 1.9 0.1zM617.9 304.1l-1.5 0.4 -0.6 -1.5 0.9 -1.9zM815.5 346.2l-0.3 -1.4 1.2 -0.7 1.6 0.7zM700.7 358.5l-0.6 -1.6 1.2 -1.2 1.8 0.4zM616.5 426l0 -2.4 1.9 -1.5 1.9 0.9zM369.3 327.9l-1.2 -1.7 0.9 -1.9 2.1 -0.1zM674.8 495.6l-0.9 -2.2 1.7 -1.7 2.6 0.5zM961.5 228.7l-1.6 1 -1 -1.6 0.6 -2.5zM665.8 299.5l-0.3 -1.6 1.2 -1.1 1.5 0.5zM1069.1 348.4l-2.3 -0.9 -0.3 -2.4 1.9 -1.5zM753.2 274.8l-2.4 0.2 -1.3 -2.1 1.1 -2.3zM427.3 364.8l1 -1.7 1.9 0 1 1.7zM823.5 358.3l-2 0.2 -0.8 -1.8 1.2 -2zM633.5 311l-1.2 0.5 -0.6 -1.2 0.6 -1.7zM687.4 343.7l-1.6 -1.5 1.1 -1.9 2.7 -0.4zM669.5 292.3l-0.9 -1.9 0.9 -1.9 1.7 0zM990.5 188.2l0.3 -1.2 1.3 0.2 0.9 1.4zM421.5 340.6l0.4 -1.6 1.7 -0.4 1.2 1.3zM521.5 181.8l0.4 -1.3 1.3 0.4 0.8 1.6zM617.9 408.1l-0.9 -1.7 0.9 -1.7 1.8 0zM1037.4 403.7l-1.7 0.5 -0.9 -1.6 0.8 -2zM744.5 416.1l1.3 -2 2.4 0.3 1.1 2.4zM805.8 409.2l-1.2 -1.5 1.2 -1.4 2.4 0zM544 278.4l1.6 -1.1 1.6 1.1 0 2.2zM513.2 172.7l-1.7 0.2 -0.8 -1.6 0.9 -1.8zM880.2 159.1l-1.4 -0.9 0.9 -1.4 2.3 -0.4zM497.6 304.9l-1.5 -0.9 0.6 -1.6 2.1 -0.7zM1041.9 336.5l-1.3 0.2 -0.5 -1.2 0.8 -1.5zM755.4 335.3l-0.2 -2.5 2.2 -1.2 2.4 1.3zM754.7 218.2l1.9 -1.4 2.2 0.6 0.4 1.9zM610 155.6l1.3 -1.8 2.1 0.7 0.8 2.6zM930.6 230.3l-1 -1 0.9 -1.1 1.9 0zM872.7 130.1l-1.4 -0.3 0.2 -1.4 1.7 -1.2zM930.7 337.4l1.4 -1.7 2.2 0.5 0.8 2.2zM647.5 267.5l0 -1.5 1.5 -0.1 1.5 1.4zM972.6 199.9l-2 -1.1 0.2 -2.3 2.2 -1.2zM406.3 392.1l-1 -1.6 1.1 -1.5 2.1 0.1zM465.3 409.6l0.2 -2.2 2.2 0 2 2.2zM679.6 436.9l0 -1.7 1.7 -0.3 1.7 1.4zM1077.3 261.3l0.9 -1.9 2 -0.6 1.1 1.3zM465.3 192.9l-1.4 -1.7 0.3 -2.2 1.7 -0.5zM717.9 433.4l-1.8 -0.1 -0.8 -1.7 1 -1.5zM985.4 193.3l-1.3 0.6 -0.7 -1.2 0.6 -1.8zM683.2 428.6l0.1 -1.8 1.7 -0.7 1.6 1.1zM652.2 331.9l-0.5 -1.5 1.4 -0.6 1.9 0.9zM632.7 288l-1.4 0.3 -0.7 -1.3 0.8 -1.5zM1001.1 214.5l1 -2.2 2.4 -0.2 1.4 2zM584.7 254.5l-1.5 -0.1 0 -1.5 1.5 -1.4zM612.2 343.2l-1.1 -0.7 0.7 -1.1 1.8 -0.4zM659.1 306.3l-0.1 -1.6 1.6 -0.1 1.7 1.5zM835.4 166.9l-0.1 -1.8 1.8 -0.2 1.9 1.6zM407.1 227.8l-1.4 -0.6 0.4 -1.4 1.8 -0.8zM727.8 192.2l-1.4 -0.6 0.4 -1.5 1.8 -0.9zM561.8 388.1l-1.4 -1.5 1.4 -1.5 2.7 0zM622.7 393l-2 0.7 -1.4 -1.5 0.6 -2.3zM744.1 450.9l-1.3 -0.9 0.8 -1.4 2.2 -0.5zM1088.2 338.6l-1.1 -2.3 1.7 -2 2.8 0.3zM976.8 314l-2.3 -0.7 0.1 -2.4 2.4 -1.7zM1027.2 274.3l0.5 -1.8 1.8 -0.4 1.3 1.4zM658.3 228.2l-1.6 -1.2 0.9 -1.8 2.5 -0.6zM748.1 391.4l-2.3 -0.2 -1.4 -1.8 0.9 -1.6zM506.5 391.4l-0.8 -1.3 1.3 -0.8 2.1 0.5zM592.4 144.4l-1.4 -0.8 0.4 -1.5 1.8 -0.7zM764.3 347.6l-2.2 0.3 -0.9 -2 1.3 -2.3zM904.5 206.3l-0.4 -1.2 1.1 -0.6 1.5 0.6zM346.1 348.6l-0.5 -2 1.8 -1 2.3 1zM443.9 444.3l-2.5 0.6 -1.7 -1.9 0.8 -2.5zM523.3 304l-0.9 -1.6 1.4 -1.2 2.3 0.4zM935.1 245.9l-0.9 -0.9 0.8 -1 1.6 -0.1zM537.6 277.3l0.7 -2.2 2 -1 1.4 1.1zM488.6 168.4l0.4 -1.4 1.4 0.3 1 1.7zM940.1 208.8l-1.1 -1.3 1 -1.3 2.1 -0.1zM921.7 349.2l0 -2.3 2.2 -0.6 2.3 1.7zM448.1 199.5l-1.6 -1.1 1.1 -1.6 2.7 -0.5zM897.1 441.3l0.5 -1.2 1.3 0.3 0.8 1.5zM904.5 302.8l-2.2 -1.2 0 -2.6 2.2 -1.3zM1033 379.5l0.2 -2.3 2 -1.1 1.8 1.2zM992.8 371.9l-2 1 -1.7 -1.5 0.4 -2.6zM591.9 439.4l0.9 -2.1 2.3 0 1.4 2.1zM1004.6 211.8l-0.2 -1.4 1.3 -0.6 1.5 0.8zM716 442l-2.1 0.4 -1.2 -1.8 0.9 -2.1zM867 422l0.6 -1.3 1.4 0.1 0.8 1.4zM955.5 329.6l-1.6 -1.2 0.5 -1.9 2.1 -0.7zM323.2 265l0.4 -1.2 1.2 0.4 0.8 1.6zM980.8 191.1l-0.5 -1.1 1.1 -0.5 1.6 0.5zM802.3 478.5l0.6 -1.2 1.2 0.5 0.7 1.7zM704.5 393.1l1.8 -1.2 1.9 1 0.1 2.2zM764 216.4l-2.4 0.5 -1.9 -1.5 0.5 -2.1zM854.1 332.4l-0.8 -0.9 0.8 -0.9 1.6 0zM519.7 336.8l-1.1 -0.8 0.8 -1.1 1.9 -0.3zM856.5 454.1l-1.5 -0.6 -0.1 -1.6 1.4 -1zM453.5 443.4l0.8 -2.2 2.4 0.1 1.6 2.3zM632.1 256.6l0.9 -1.7 1.7 0.7 0.8 2.4zM363.9 318.3l-1.3 0.1 -0.2 -1.3 1.1 -1.3zM863.6 448.3l-2 0.6 -0.7 -2 1.4 -2.6zM794.7 180.3l-1.8 0.9 -0.9 -1.7 0.8 -2.6zM796.5 170.8l-0.1 -1.2 1.2 -0.2 1.3 1zM885.7 244.3l-0.9 -2.3 1.1 -2.2 2 0.1zM950.8 164l-1.2 -1.3 0.8 -1.6 2 -0.3zM979.6 268.9l0.9 -2 2.1 0 1.3 2zM735.9 338.7l-2 0.9 -1.4 -1.6 0.5 -2.5zM357 330.4l-1.1 -0.8 0.5 -1.3 1.6 -0.5zM393.8 199.6l-0.8 -2.1 1.3 -1.8 2.2 0.3zM596.1 199.8l-0.8 -1.6 1.1 -1.5 1.9 0.2zM949.7 201.7l-0.9 0.8 -0.9 -0.9 0.1 -1.7zM798.5 336.4l-1.5 0.3 -0.4 -1.5 1.1 -1.7zM773 252.7l-1.2 -1.6 1.2 -1.6 2.5 0zM545 168.8l-1.1 -1.3 0.5 -1.6 1.6 -0.3zM1023.2 335.8l1.8 -1.3 2 0.9 0.2 2.1zM1000.9 238.7l0.6 -1.3 1.4 0.5 0.8 1.9zM633.5 430l-1.7 1.4 -1.7 -1.4 0 -2.7zM372.2 258.4l-0.7 -2 1.8 -1.1 2.6 0.9zM521.4 442.1l-2.4 0.4 -1.3 -2.1 1.1 -2.5zM693.1 116.4l-0.4 -1.4 1.4 -0.6 1.7 0.8zM442.8 175.5l-2 1.1 -1.9 -1.3 0.1 -2.4zM716.2 343.7l-1.3 0.9 -1.1 -1 0.1 -1.9zM394.3 336l-2.6 0.1 -1 -2.4 1.6 -2.5zM623.4 388l1.2 -2.2 2.4 0.3 1.3 2.4zM606 323.8l-1.3 -0.5 0.2 -1.4 1.5 -0.8zM996.5 182.4l-1.3 1.1 -1.3 -1.1 0 -2.1zM677.1 271.4l-0.7 -2.2 1.9 -1.4 2.7 0.9zM717.5 155.1l-1.8 -1.3 1.1 -1.9 2.8 -0.6zM558.3 169.9l-1.2 -1 0.3 -1.5 1.5 -0.5zM578.1 201.1l-0.9 -0.9 0.8 -1 1.7 -0.1zM627 155l1.1 -1.5 1.8 0.4 0.7 1.9zM944.1 442.6l-0.3 -2.4 2 -1.3 2.3 1.1zM856.9 241.2l-2.3 0.4 -1.9 -1.3 0.4 -1.7zM878.3 134.6l-1.4 0.3 -0.4 -1.4 1 -1.8zM392.8 351.7l-2.2 0.9 -1.8 -1.6 0.4 -2.5zM999.2 179.8l-1.3 -0.4 0.4 -1.3 1.7 -0.9zM485.3 433.6l-2 -0.8 -0.6 -2 1.3 -1.3zM411 354.6l-1.1 0.8 -0.9 -1 0.2 -1.8zM551.8 438.8l-1.4 -0.1 -0.1 -1.4 1.3 -1.3zM696.4 331.6l-0.3 -1.2 1.2 -0.4 1.5 0.8zM853.3 250.7l-1.3 -0.3 0.1 -1.4 1.5 -1zM840.3 199.9l-1.4 -0.2 0.1 -1.4 1.5 -1.2zM520.1 385.4l-0.1 -1.2 1.2 -0.2 1.3 1zM586.7 267.1l-1.7 -0.1 -0.3 -1.7 1.5 -1.6zM719.8 202.5l-1.8 -1.1 1.1 -1.8 2.9 -0.7zM558.4 139.3l-2.4 0.2 -1.7 -1.7 0.7 -1.9zM842.5 264.5l-1.6 -1.5 0.4 -2.2 2 -0.7zM1047.5 372.9l-2.4 0.4 -1.5 -1.9 0.9 -2.3zM483.4 307.5l-0.1 -2.6 2.3 -1.2 2.4 1.3zM983.2 404.6l-1.2 0.6 -0.7 -1.2 0.6 -1.8zM967.1 307.4l-0.9 -1.3 1.1 -1.1 2 0.2zM402 206.2l-1.2 -1.5 0.5 -1.9 1.6 -0.3zM554.2 406.7l-2.4 -0.1 -0.8 -2.2 1.6 -2.2zM387.3 283.4l-1.1 -0.6 0.5 -1.2 1.6 -0.5zM438.2 310.5l0.6 -2.3 2.2 -0.9 1.6 1.4zM356.4 299.7l0.9 -1.7 1.8 0.7 0.9 2.4zM570.6 123.9l0.6 -2 2.1 -0.1 1.4 1.9zM939.3 294.2l0.2 -2.4 2.4 -0.5 2.1 1.9zM499.2 257.2l-0.1 -2 1.7 -1.1 1.8 0.9zM673.1 125.6l-1.6 0.1 -0.3 -1.6 1.3 -1.6zM519.2 363.8l-2.1 0.9 -1.7 -1.5 0.4 -2.4zM664.3 467.8l-0.5 -2 1.2 -1.7 1.7 0.3zM880.5 467.9l-1.4 -0.5 0.5 -1.4 1.9 -0.9zM912.2 423.3l0.8 -1.8 1.8 0.7 1.1 2.6zM778 256.3l-1.1 -1.3 0.9 -1.4 2 -0.1zM384.8 363l-1.9 0.4 -0.8 -1.7 1.1 -2.1zM645.5 193.1l-0.6 -1.3 1 -1.1 1.6 0.2zM421.7 275.2l-1.9 0.8 -1.4 -1.5 0.5 -2.3zM384.6 273.2l-1.6 0.5 -0.9 -1.4 0.7 -1.9zM633.2 333.3l-2.2 0.7 -1.4 -1.8 0.8 -2.5zM667.9 156.2l-1.8 0.9 -1.7 -1.1 0.1 -2zM504.9 192.5l-1.2 0.9 -1 -1.1 0.2 -2zM990.3 312.4l0.6 -1.9 2 -0.4 1.4 1.5zM601.9 454.3l0.4 -1.2 1.2 0.4 0.8 1.5zM395.3 310.7l-1.4 0.7 -0.7 -1.4 0.7 -2.1zM917.4 272.8l-1.3 0.7 -0.7 -1.3 0.6 -2zM868 403.2l-1.5 0 -0.2 -1.5 1.3 -1.5zM455.1 376.1l-2.1 0.5 -1.7 -1.4 0.4 -1.9zM777.9 183.8l0.1 -2.5 2.2 -1.1 2.1 1.4zM575.1 426l-1.8 -1.1 -0.1 -2.1 1.7 -1zM1056.6 375.8l0.1 -1.6 1.6 -0.1 1.6 1.6zM633.2 182.8l-1.3 0 -0.2 -1.3 1.1 -1.3zM715 331.1l0.7 -2.1 2 -1 1.3 1.1zM736.3 364.3l-1.1 -0.7 0.7 -1.1 1.8 -0.4zM583.1 284.6l0.6 -2.4 2.4 -0.1 1.8 2.3zM664.8 453l-0.5 -1.1 1 -0.6 1.6 0.5zM660.2 214.3l-1.9 0.6 -1.5 -1.3 0.4 -1.9zM738.1 159.5l0.8 -1.1 1.2 0.8 0.3 2zM334.6 302.6l-1.3 -0.7 0.4 -1.4 1.7 -0.8zM896 171l-1.3 -1.6 0.3 -2 1.6 -0.4zM782.5 224.4l0.7 -1.6 1.7 0 1 1.6zM773.9 223.3l-1.4 -1.7 1.6 -1.5 3 0.2zM705.5 474.4l-0.4 -1.6 1.3 -1 1.7 0.7zM494.6 258.1l-0.3 -1.5 1.4 -0.5 1.7 0.9zM337.6 314.1l-0.3 -1.5 1.5 -0.4 1.7 1.1zM911.7 247.5l-1.3 -1.8 0.2 -2.2 1.6 -0.4zM408.5 421.2l0.8 -2.3 2.4 -0.6 1.6 1.7zM896.6 363.9l1.4 -2 2.4 0 1 1.9zM395.9 207.7l-0.5 -2.2 1.8 -1.3 2.3 0.9zM494 385.1l-1.3 1.2 -1.2 -1.2 0 -2.4zM442.7 271.1l-0.9 -1.4 0.9 -1.3 1.8 0.1zM870.6 201.7l0.3 -1.2 1.3 0.2 1 1.4zM667.6 396.9l0.1 -1.3 1.3 0.1 1.1 1.4zM366.9 238l0.1 -2.4 1.9 -1.5 1.8 0.9zM685.1 239l1.8 -1.2 2.1 0.5 0.3 1.7zM755.8 188.8l-0.8 -2 1.1 -1.9 1.9 0.1zM860.4 258l-2 0 -0.8 -1.8 1.2 -1.8zM429.1 326.6l-1.6 -1.4 1.2 -1.8 2.8 -0.4zM643.1 157.9l0.4 -2.1 2 -0.7 1.6 1.4zM782.5 200l0.1 -1.3 1.3 -0.1 1.2 1.2zM591.7 164.7l-1.3 0.9 -0.9 -1.3 0.4 -2.2zM980.3 243.8l0 -1.3 1.3 0 1.3 1.2zM737.4 354.1l1.9 -1.7 2.4 0.8 0.5 2.4zM935.1 288.5l-1.4 0.3 -0.6 -1.3 0.9 -1.7zM475.5 261.7l-2.4 0.1 -1.8 -1.5 0.6 -1.7zM910.7 269.4l-0.8 -1.4 1 -1.2 1.8 0.2zM672.8 363.2l-0.9 -2 0.9 -2 1.8 0zM687.7 291l1.9 -1.6 2.4 0.7 0.5 2.3zM559.3 242.4l1.3 -2.3 2.6 0.2 1.3 2.4zM995.7 349.2l0.8 -1 1.1 0.7 0.3 1.7zM564.4 332.8l-0.8 -1.1 1.1 -0.8 1.8 0.3zM415 208.3l-1.7 -0.4 0 -1.8 1.7 -1.4zM463.3 185.7l-1.6 0.9 -1.6 -1 0 -1.9zM852.1 424l-1.3 0.7 -0.7 -1.3 0.6 -2zM644 361l0.9 -2 2.1 -0.6 1.2 1.3zM885.9 350.6l-1.4 -1.3 0.9 -1.7 2.3 -0.4zM893.7 429l0.1 -1.6 1.6 -0.2 1.5 1.4zM509.7 360.5l-2 -0.9 -0.1 -2.2 1.9 -1.3zM497.1 199.3l-1.6 -0.9 0.2 -1.8 1.7 -0.9zM526.1 464.2l-1.5 0.8 -0.8 -1.5 0.6 -2.3zM673.2 438.1l-2.3 -0.1 -0.6 -2.3 1.7 -2.2zM886.3 325l-0.8 -2 1.2 -1.8 2 0.2zM579.7 149.5l0.4 -1.8 1.8 0 1.4 1.8zM450.9 209.7l-0.5 -1.1 1.1 -0.6 1.6 0.5zM988.3 334.5l-1.6 -0.2 0.2 -1.6 1.8 -1.4zM660.1 448.2l-1.6 -0.8 0.4 -1.8 2 -0.9zM441.7 311.2l0.8 -1.9 2 -0.4 1.2 1.5zM1013.5 412.8l-0.6 -1.1 1 -0.6 1.6 0.4zM856.1 349.3l-1.3 -1.7 0.7 -2.1 2 -0.4zM355.8 382.5l-1.2 1 -1.1 -1 0.1 -2zM382 289.9l0.4 -2.2 1.8 -1.2 1.4 0.9zM792.1 364l-1.4 -1.3 1.3 -1.5 2.7 -0.1zM510.4 137.3l-1.1 0.6 -0.7 -1 0.4 -1.6zM501.1 238l-1.8 -0.6 0.4 -1.9 2.2 -1.3zM989.2 178.1l-0.3 -1.4 1.2 -0.7 1.5 0.6zM664.6 336.6l-1.8 1 -1.2 -1.7 0.7 -2.7zM937.7 318.9l0.5 -2 1.9 -0.7 1.4 1.3zM960.3 283.5l-0.1 -2.2 1.5 -1.7 1.6 0.5zM394.8 389.5l-0.1 -1.6 1.6 -0.5 1.6 1.1zM769.6 314.5l-1.2 0.3 -0.4 -1.2 0.9 -1.5zM694.3 312.4l-1.3 -1 0.8 -1.4 2 -0.4zM460.9 186l-1.1 0.9 -1 -1.1 0.2 -2.1zM677.4 441.9l-0.8 -1 0.9 -0.8 1.6 0.1zM606.5 334.5l1 -1.3 1.5 0.7 0.5 2zM943.7 308.3l-1.4 -0.4 0.2 -1.4 1.6 -1zM467.6 244.8l1.1 -1.1 1.3 0.9 0.2 1.9zM1052.6 302.5l0.6 -2.3 2.4 -0.1 1.8 2.2zM820.9 141.5l-1.4 0.3 -0.6 -1.3 0.8 -1.5zM757.2 140.4l1.3 -1 1.4 0.7 0.1 1.7zM315.1 315.2l-0.8 -1 0.9 -0.9 1.7 0.1zM420.8 290.8l-1.7 -1.1 0.8 -1.9 2.5 -0.8zM817.1 325.2l-1.5 -1.7 0.8 -2.2 2.3 -0.4zM571.8 472.2l0.5 -1.8 1.8 0.5 1.3 2.2zM627.8 496.1l-0.1 -1.6 1.5 -0.6 1.6 1.1zM527 228.6l-1.4 -0.4 0.2 -1.4 1.6 -1zM1038.9 230.6l1 -2 2.1 0.5 1.2 2.4zM576.8 323.2l1.1 -1.6 1.9 -0.1 0.9 1.5zM632.1 151.1l2 -1.3 2.2 0.8 0.3 2.1zM1004.3 416.2l0.3 -2 1.9 -0.8 1.6 1.3zM610.7 392.3l-2.1 -1 -0.3 -2.3 1.7 -1.3zM916.6 154.4l1.8 -1.4 2.1 0.9 0.3 2.4zM633.3 140l1.5 -1.5 2.1 0.6 0.5 2.2zM592.7 152.6l-1.1 -0.9 0.5 -1.3 1.6 -0.4zM659.9 250.1l-2 -0.3 0 -2 2 -1.7zM484.7 148l-1.5 -0.2 -0.4 -1.5 1.1 -1.3zM813 167.1l-1.2 -1.3 0.5 -1.7 1.8 -0.4zM648.7 209.6l-1.3 -0.5 0.5 -1.3 1.8 -0.8zM635.9 369.9l-1.5 -0.4 0.2 -1.5 1.7 -1.1zM607.8 285.7l-0.6 -2.2 1.2 -2 1.8 0.2zM659.9 311.6l-1.3 -1.1 1.1 -1.3 2.4 -0.2zM679.9 323.7l1.1 -1.4 1.7 0.3 0.6 1.6zM957.6 326.4l-1.1 -0.9 0.9 -1.1 2 -0.2zM592.7 124.4l0 -1.4 1.3 -0.2 1.4 1.2zM542.4 231.6l1 -2.3 2.5 0.1 1.6 2.4zM328.9 257.1l1.4 -1.9 2.4 0.2 1 2.1zM474.9 333.9l-1.3 -1 0.8 -1.4 2 -0.4zM573.7 233.4l-2.4 -1 -0.1 -2.6 2.3 -1.6zM960.7 410.9l-2.2 -0.1 -1.5 -1.6 0.7 -1.5zM564.5 230.2l1 -1 1.2 0.7 0.2 1.7zM420.9 206.2l0.1 -1.4 1.4 0.1 1.3 1.5zM721.9 289.1l-2 -1.2 0.6 -2.3 2.6 -1.1zM706.8 312.6l-1.3 -0.9 0.3 -1.6 1.7 -0.7zM523.4 268.4l-1.4 0.4 -0.8 -1.2 0.6 -1.6zM886 423.6l-1.8 -1.2 0 -2.2 1.8 -1zM723.5 371.6l-0.8 -1.1 1.1 -0.8 1.9 0.3zM897.1 240.9l-0.1 -1.7 1.6 -0.5 1.8 1.2zM782.8 324.9l-0.7 -1.3 1.2 -0.8 1.9 0.5zM721.5 182.9l-1.3 -1.7 1 -2 2.4 -0.2zM493.6 241.4l0.7 -1.9 1.9 -0.5 1.2 1.4zM666.9 242.5l-1.7 -1.2 -0.4 -2.1 1.4 -0.9zM346.3 254.7l-2.2 0.1 -1.4 -1.7 0.8 -1.8zM429.2 319.9l0.6 -2.2 2.2 0.2 1.7 2.4zM850.4 336.5l-1.4 -2.1 1.4 -2.1 2.9 0zM559.9 321.7l-1.8 1.1 -1.7 -1.3 0.1 -2.4zM573.9 196.5l1.7 -1.7 2.2 0.9 0.6 2.6zM866.5 427.4l-2 -0.9 -0.5 -2.1 1.5 -1.2zM515.5 289.8l0.6 -2.5 2.4 -0.8 1.8 1.7zM1025.9 308.9l-2 1.4 -2 -1.4 0 -2.7zM869.6 175.3l-1.1 0.9 -1 -1 0.2 -1.9zM548.8 412l-0.2 -1.9 1.4 -1.3 1.7 0.6zM541.2 176.4l-1.6 0.6 -1.3 -1 0.3 -1.6zM551.7 268.3l-1.2 -1.2 0.6 -1.6 1.8 -0.4zM602.8 296l-0.5 -1.4 1.3 -0.6 1.8 0.8zM446.2 185l0.1 -2 1.6 -1.1 1.5 0.9zM615.9 115.8l-2.3 0.9 -1.8 -1.6 0.4 -2.5zM766.9 207.8l-0.4 -2.1 1.4 -1.5 1.8 0.5zM766.7 326.4l-1.3 -1.9 1 -2 2.3 -0.1zM876 346.9l-1.4 -0.2 -0.1 -1.5 1.3 -1.2zM518.4 191.6l-2.1 -0.1 -0.9 -1.9 1.2 -1.8zM544.2 326.3l-2.4 0.3 -1.3 -2 1 -2.2zM503.4 453.9l-0.4 -1.6 1.5 -0.7 1.9 0.9zM402.7 388.5l-2.1 0 -0.3 -2.1 1.8 -2.1zM854.9 452.8l-0.3 -1.9 1.7 -0.8 2 1.1zM668.7 162l0.6 -1.4 1.6 0.2 0.9 1.6zM1038.1 223.1l0.7 -1.6 1.7 0.4 1 2zM945.1 175l-2.6 0.1 -1.1 -2.4 1.5 -2.5zM426.1 265.3l-2.3 -0.6 -0.2 -2.4 2.1 -1.8zM720.8 335.4l-1.8 -1.6 0.4 -2.4 2.2 -0.8zM501.2 428.4l-2.2 0.1 -1.1 -1.9 1.1 -2zM809.5 186.1l-0.7 -1 1 -0.7 1.7 0.3zM646.4 179.4l0.3 -1.5 1.5 -0.1 1.2 1.4zM963.3 404.2l-0.2 -1.9 1.3 -1.4 1.5 0.5zM965.6 291.8l-1.3 -0.1 0.1 -1.3 1.4 -1.2zM528.1 480.5l-0.7 -2.6 2.1 -1.6 2.8 1zM1046 316l-1.2 -1.4 0.5 -1.8 1.8 -0.4zM969.6 273.9l1 -1.7 1.9 0.2 1 1.9zM992.7 327l-0.5 -1.2 1.1 -0.7 1.6 0.5zM766.6 218.2l0.7 -1 1 0.7 0.3 1.7zM726.2 429.9l-2 -1.4 -0.1 -2.5 1.9 -1zM338.7 264.8l-1.3 0.2 -0.2 -1.3 1 -1.5zM557.2 398.3l-1.2 -0.2 0.2 -1.2 1.4 -1zM650.4 283.5l1.6 -1.6 2.3 0.2 0.7 1.8zM490.1 188.3l-1.4 -1.5 0.7 -2 2.2 -0.4zM935.3 438.3l0.3 -1.3 1.4 0 1 1.3zM591.4 247.4l-0.2 -1.5 1.4 -0.7 1.6 0.8zM756.9 465.9l-0.9 -2.2 1.6 -1.8 2.5 0.4zM758.3 186.7l-1.3 -0.6 0.6 -1.4 1.9 -0.7zM607.7 152.6l-2.3 0.7 -1.9 -1.5 0.4 -2.2zM820.9 214.8l0.9 -1.8 2 0.2 1 2zM729.2 385.8l-1.4 0.6 -0.6 -1.4 0.8 -2zM645.6 293.2l-1.5 -1.5 0.1 -2.1 1.6 -0.6zM641.5 344l-2.3 0.4 -1.4 -1.8 0.8 -2.2zM878.5 144.8l-0.6 -1.1 1.1 -0.6 1.7 0.5zM397.2 369.7l-1.7 0.9 -1 -1.6 0.7 -2.5zM803.3 165.7l-1.1 0.6 -0.7 -1 0.3 -1.6zM440.4 289l-0.9 -2.2 1.7 -1.6 2.6 0.6zM752.5 375l-1 -0.8 0.6 -1.1 1.6 -0.3zM864.8 155l-1.2 1 -1.1 -1 0 -2zM997.5 410.8l1.7 -1.6 2.3 0.2 0.6 1.8zM591.2 280.7l-1.2 0.4 -0.7 -1.1 0.5 -1.5zM709.3 394.6l-1.7 0.1 -0.3 -1.7 1.4 -1.9zM896.8 281.1l0.3 -1.5 1.5 0.2 1.2 1.7zM775 130.6l-2.2 -1.2 -0.4 -2.4 1.8 -1.3zM1005.3 264.3l-0.2 -1.7 1.3 -1.1 1.5 0.6zM931.2 155.2l-1.5 -1.9 0.6 -2.3 2 -0.4zM507.9 346.7l-1.7 -0.5 -0.2 -1.8 1.5 -1.2zM640.8 143.2l-2.2 -1.1 -0.1 -2.5 2.2 -1.4zM858.9 258.5l-1.5 -1.9 1.3 -2.1 2.8 -0.1zM978.7 374.8l-2.2 -0.7 0.2 -2.3 2.3 -1.6zM967.4 249.2l-1.2 0.6 -0.9 -1 0.3 -1.6zM669.3 346.8l-2.1 0.8 -2.1 -0.9 0 -1.6zM860.3 341l-0.7 -1.6 1.2 -1.3 1.9 0.3zM1050.1 274.8l-0.4 -1.5 1.3 -0.8 1.6 0.7zM685.2 328.4l-2 -0.5 -1.1 -1.8 1 -1.3zM871.9 317.3l-1.9 -1.2 1 -2 2.8 -0.8zM857.9 204l-2.1 0.6 -1.8 -1.2 0.3 -1.8zM755.9 401.1l-1.6 -0.4 0.1 -1.6 1.6 -1.2zM767.7 313.6l-0.6 -1.5 1.3 -0.9 1.9 0.6zM499.4 419.1l0.5 -2.3 2.3 -0.1 1.8 2.2zM786.3 187.4l-2 1.5 -2 -1.5 0 -3zM712.8 413.7l-0.4 -2.3 1.3 -2 1.7 0.3zM1042.4 254.8l1.2 -1 1.5 0.7 0.2 1.7zM931.6 350.8l-1.7 0.6 -1.5 -1.1 0.3 -1.7zM382.6 305.1l-2.1 -0.5 -1 -1.9 1.1 -1.4zM503.9 233.3l-0.1 -2.2 2.1 -0.3 2.2 1.8zM532.7 163.3l0.2 -1.3 1.4 0 1.1 1.4zM613.1 199.1l-1.7 0.3 -0.7 -1.6 1 -1.9zM632.1 221.2l-2.2 0.5 -1.3 -1.9 0.9 -2.3zM562 230l-1.4 -0.4 0.1 -1.5 1.5 -1.1zM884.4 271.4l-2.2 0.5 -1.8 -1.4 0.4 -1.9zM504.7 319.3l-1.1 -1 0.8 -1.2 1.9 -0.2zM952.2 295.3l-2.3 0.4 -2.1 -1.2 0.3 -1.6zM451 334.5l-1.3 -0.9 0.3 -1.5 1.6 -0.7zM624.1 343.4l0.8 -2.2 2.3 -0.1 1.6 2.2zM775.7 327.1l-1.8 -1.6 0 -2.4 1.8 -0.8zM710.2 362.3l1.4 -1.5 1.9 0.8 0.5 2.3zM423.5 380.8l1.7 -1.8 2.4 0.2 0.8 2zM701.8 154.5l-0.1 -2.4 1.6 -1.8 1.7 0.6zM400.1 201l-1.6 -0.7 -0.3 -1.7 1.3 -1zM756.8 362.6l-0.3 -2.4 1.6 -1.8 1.9 0.6zM382.6 291.7l0.1 -1.9 1.9 -0.2 1.8 1.7zM403.2 323.3l0 -1.2 1.2 -0.2 1.2 1zM585.9 164.5l-0.9 -2.1 1 -2 1.8 0zM610.6 213.3l-2.2 0.3 -1.6 -1.5 0.6 -1.8zM505.7 243.5l-1.8 1.3 -1.5 -1.6 0.3 -2.9zM701.3 130.3l0 -1.2 1.2 -0.1 1.2 1.1zM1063.9 293.9l-1.1 -1.2 1 -1.2 2.1 0zM733.3 139.3l-1.2 0.9 -1 -1.1 0.2 -2zM412 191.8l1.6 -1.4 2.1 0.4 0.5 1.8zM764.2 477.6l1.3 -1.9 2.3 -0.2 1 1.7zM537 236.9l-1.7 1 -1.1 -1.6 0.6 -2.6zM929.9 280.4l0.5 -1.2 1.3 0.3 0.7 1.5zM571.1 372.8l-1.6 0.7 -1.6 -0.9 0.1 -1.6zM621.8 391.5l-2 -1 0.3 -2.2 2.4 -1.3zM887.5 272.8l-1.8 1 -1.2 -1.7 0.6 -2.7zM637 344.7l-1.7 -0.1 -0.8 -1.5 0.9 -1.4zM615.4 206.3l0.6 -1.8 1.8 0.6 1.2 2.4zM674.9 197.6l1.3 -1.8 2.2 0.2 0.9 2.1zM430.3 186l-2 -1.3 -0.2 -2.4 1.7 -1zM597.7 402.3l-2.3 -1.2 0.1 -2.6 2.4 -1.4zM774.4 490.2l-0.8 -0.9 0.9 -0.8 1.7 0.1zM974.4 279.2l-2.4 -0.6 -1 -2.2 1.3 -1.6zM979.4 234.1l-1.1 0.7 -0.7 -1 0.4 -1.7zM326.8 329.4l-0.2 -1.7 1.6 -0.4 1.8 1.3zM539.1 373.6l1.4 -1.6 2.1 -0.1 0.7 1.5zM850.8 272.3l1.8 -1.8 2.3 1.1 0.5 2.8zM682.5 164.4l0.2 -1.5 1.5 -0.5 1.2 1zM494.7 468.7l-1.5 -0.9 0.7 -1.6 2.3 -0.7zM516.3 472.9l0 -1.9 1.8 -0.5 1.8 1.4zM832 147l-2 -0.1 -0.7 -1.8 1.3 -1.8zM875.2 365.7l-1.5 -1.8 0.7 -2.2 2.2 -0.4zM809.5 474.2l-1.5 -1.1 0.5 -1.7 2 -0.6zM484.5 306.5l-0.5 -2 1.7 -1.1 2.3 0.9zM469.2 212.3l-1.8 -1.5 0.6 -2.3 2.5 -0.8zM944.1 264.6l-1.4 0 -0.1 -1.4 1.3 -1.3zM631.3 474.4l0.9 -1.9 2.1 0.2 1.2 2.1zM646.2 478.2l-2.2 0.7 -1.5 -1.7 0.7 -2.5zM716.1 261.3l-0.7 -1.2 1 -0.9 1.7 0.3zM611.7 213.6l-1.3 0.2 -0.5 -1.2 0.8 -1.5zM606.2 138.9l-0.8 -2 1.8 -1.1 2.6 0.9zM806.5 198.9l-2.4 -0.1 -1.2 -2.1 1.2 -2.1zM732.2 312.1l0.3 -2.4 2.3 -0.9 2 1.5zM483.6 424.8l-1.4 -0.2 0.1 -1.4 1.5 -1.2zM360.9 373.6l-1.4 -1.1 0 -1.8 1.5 -0.7zM884.7 189.9l-1.3 1 -1.3 -1 0 -2zM329.1 262.4l-0.9 -1.2 1.1 -1.1 2 0.1zM1059.2 339.8l-0.7 -2.4 2 -1.4 2.8 1zM530.4 266.2l-2.2 -0.3 -0.9 -2 1.3 -1.7zM525.8 259.4l-2.4 -0.1 -1.7 -1.7 0.7 -1.6zM451.9 429.1l-2 0.1 -0.9 -1.8 1.1 -1.9zM761.9 297.2l-1.8 -0.2 0 -1.8 1.8 -1.5zM340.2 239l-0.6 -1.1 1 -0.7 1.6 0.4zM767.8 431.6l-1.3 -0.6 0.3 -1.4 1.6 -0.8zM703.2 434.3l-1.3 -0.5 0.1 -1.4 1.4 -0.9zM742.7 353.9l1.4 -1.7 2.1 0.7 0.7 2.3zM784.4 252.4l-1 -1.7 0.8 -1.8 1.8 -0.1zM708.1 493.1l-1.9 -1.6 0.3 -2.5 2.2 -0.9zM411.9 331.4l-0.9 -1.4 1.3 -1 2.1 0.4zM397.6 291.1l0.3 -1.4 1.4 0 1.1 1.4zM662.5 399.5l-1.2 -1.5 1.4 -1.3 2.6 0.2zM436 403.8l-1.3 -0.1 0 -1.3 1.3 -1.2zM983.5 305.8l1.4 -1.8 2.3 -0.4 0.8 1.4zM786.9 464.3l-1.7 -1 0.9 -1.7 2.7 -0.8zM536.9 401.7l-1 -1.6 1.3 -1.3 2.3 0.3zM875.1 339l0.8 -0.9 0.9 0.8 0.1 1.7zM657.1 237.9l-1.4 0.8 -1 -1.3 0.4 -2.1zM698.9 297.7l-1.3 0.3 -0.6 -1.2 0.7 -1.5zM913.1 178.2l0.2 -1.4 1.4 0.2 1.2 1.6zM766.4 162.3l0.8 -2 2.1 0.3 1.4 2.3zM909.2 282l-1.9 -1.3 0.6 -2.2 2.6 -0.9zM1052.5 227.4l-1.3 -1.2 1.2 -1.3 2.6 -0.1zM326.7 276.6l1.4 -1.9 2.3 -0.4 0.9 1.5zM522.3 249.7l-1 -2.1 0.7 -2.2 1.7 -0.1zM601.3 245.2l-1.6 0.2 -0.3 -1.5 1.3 -1.7zM425.2 215.1l1.6 -1.3 2.1 0.3 0.5 1.6zM1004.7 253.4l0.5 -1.7 1.8 0.2 1.3 1.9zM567.3 334.9l-0.2 -2.1 2 -0.6 2.2 1.5zM476.5 446.5l-1 -1.7 1.3 -1.4 2.3 0.2zM562.6 369.8l-2.4 -0.2 -0.9 -2.2 1.5 -2zM674.1 404.8l-1.1 0.4 -0.5 -1.1 0.7 -1.5zM797.5 486.1l-1.9 0 -0.2 -1.9 1.8 -2zM700.9 323.6l-1 -1.5 1.5 -1.1 2.5 0.4zM1047.5 226.6l-1.5 -1.1 1.1 -1.5 2.6 -0.5zM961 355l-2 1.1 -1.8 -1.5 0.2 -2.6zM607.8 346.8l-1.2 -0.5 0.3 -1.3 1.5 -0.8zM499.7 156.3l-2 -0.2 -1 -1.7 1 -1.5zM998.3 214.9l-0.9 0.8 -0.9 -0.8 0 -1.6zM932.3 325.9l-2.1 0.6 -1.1 -1.8 0.9 -2.5zM865.6 417l-0.9 -2.3 2 -1.4 2.8 0.9zM553.7 197.5l-1.9 0.6 -1 -1.7 0.9 -2.3zM971.5 221.9l-0.4 -1.2 1.2 -0.5 1.5 0.7zM897.1 167.1l-0.1 -1.7 1.6 -0.5 1.7 1.2zM1058.1 222.7l-2.1 0.1 -1.3 -1.7 0.8 -1.8zM942.4 270.4l-1.1 1 -1.1 -1.1 0 -2.1zM937.1 226.7l1.1 -1.8 2.1 0.2 1 2.1zM338.4 312.9l-1.2 -0.3 0.1 -1.3 1.3 -0.9zM707.2 403.3l-1.4 -0.5 0.5 -1.4 1.9 -0.9zM767 386.4l-0.3 -2.1 1.6 -1.4 1.8 0.7zM425.3 332.7l-0.9 -1.3 0.9 -1.3 1.8 0zM689.3 123.2l1.4 -1 1.5 0.8 0.1 1.9zM1095 304.6l-1.8 0.7 -1 -1.6 0.8 -2.3zM776 273.5l-2 -0.7 0.4 -2.1 2.4 -1.4zM578.1 423.5l-0.7 -2.1 0.9 -2 1.7 0.1zM448.2 222.4l-0.7 -2.3 1.8 -1.5 2.6 0.7zM503.3 407.3l-1.6 -1.1 0 -1.9 1.6 -0.9zM722.4 204.4l-1.4 0.5 -0.5 -1.4 0.9 -1.9zM334.8 284.2l-1.4 -0.2 0.1 -1.4 1.5 -1.2zM854.8 444.7l-1.5 1.2 -1.4 -1.3 0.1 -2.5zM436.5 283.2l1.6 -1.9 2.5 -0.1 0.9 1.9zM483.3 224.3l0.6 -1.8 1.8 0.4 1.3 2.2zM839.7 165.2l-2.1 0.7 -1.8 -1.3 0.3 -2zM977.6 227.9l-2 1.1 -2 -1.1 0 -2.2zM503.7 140.6l-1.8 -0.7 0.2 -1.9 2 -1.2zM1044.9 378.4l-2 0.1 -0.8 -1.9 1.2 -2zM467.8 274.3l0.5 -1.7 1.8 -0.1 1.3 1.6zM911.5 342.6l-1.6 -0.3 -0.2 -1.6 1.4 -1.3zM732.8 305.7l-1.1 -1.1 0.8 -1.3 1.9 -0.2zM662 476.7l-1.4 -1.9 0.5 -2.4 1.9 -0.4zM507.8 328l-1.9 -0.8 -0.1 -2 1.8 -1.2zM974.5 312.9l-0.1 -1.4 1.4 -0.5 1.4 1zM703.5 478.8l-1.6 0.7 -1.2 -1.2 0.4 -1.9zM821.3 206.6l-2.2 0 -1.6 -1.6 0.7 -1.5zM820.9 238.2l1.5 -2 2.5 0.2 1 2.2zM937.2 319.7l-1.3 -0.8 0.4 -1.5 1.7 -0.7zM1055.1 304.4l0 -1.7 1.7 -0.2 1.7 1.5zM908.4 434l-0.6 -1 1 -0.6 1.6 0.4zM906.8 289.3l-1.9 1 -1.6 -1.3 0.2 -2.3zM650.7 369.9l0.6 -1.1 1.1 0.6 0.5 1.6zM675.3 287.4l-1 -1.7 1.4 -1.4 2.4 0.3zM918.6 246.9l-1.6 0.1 -0.1 -1.6 1.5 -1.7zM401.7 359.5l0.1 -2 1.9 -0.5 1.9 1.5zM423.4 339l0.7 -1.7 1.8 -0.4 1.1 1.3zM780.6 280.8l-1.2 -0.1 -0.1 -1.2 1.1 -1.2zM824.1 277l-1.3 0.5 -0.6 -1.3 0.7 -1.8zM865.7 478.9l-2.1 0.3 -0.8 -2 1.3 -2.3zM541.8 202.7l-2.3 -0.2 -0.2 -2.3 2.1 -2.1zM591.7 191.4l-2.1 -0.2 -1.1 -1.8 1 -1.6zM354.4 341.3l0.5 -1.9 2 0 1.5 1.9zM488 335l-2.3 0.4 -1.1 -2 1.1 -2.4zM482.8 254.5l-1.8 -1 1 -1.8 2.8 -0.7zM870.4 231.1l1.3 -1.1 1.5 0.8 0.2 1.9zM804.2 407.7l-0.8 -1.4 0.8 -1.4 1.6 0zM567.7 388.5l-0.1 -1.9 1.9 -0.2 1.9 1.7zM578.6 328.4l-1.6 0.4 -0.6 -1.6 1 -1.9zM593.6 381.6l-1.6 0.3 -0.7 -1.5 0.9 -1.8zM768.3 418.3l0 -1.2 1.2 0 1.2 1.2zM828.6 323.9l-2.4 -0.6 -0.3 -2.5 2.1 -1.9zM736.4 221.7l-1.4 -1.8 0.8 -2.1 2.1 -0.3zM912.3 241.1l1.1 -1.3 1.4 1 0.3 2.4zM857.2 344.1l-0.1 -1.4 1.4 -0.1 1.5 1.3zM530.8 186.4l-1.7 -0.3 -0.1 -1.7 1.6 -1.5zM648.5 174.3l-2.2 -0.2 -0.4 -2.2 1.8 -2zM872 364.5l1.8 -1.1 1.9 0.9 0.1 2zM889.3 233.1l-0.7 -1.6 1.3 -1.2 2 0.4zM509.1 405l0.7 -2.2 2.3 0.2 1.6 2.4zM619.3 194.9l-0.8 -2.2 1.6 -1.6 2.4 0.6zM578 124.5l-2.2 -0.4 0.1 -2.2 2.3 -1.8zM645.7 352.3l1.3 -1 1.3 0.9 0 1.9zM770 331.6l0.2 -1.9 1.9 -0.5 1.7 1.5zM417.8 431.4l-1.9 0.7 -0.9 -1.8 1.1 -2.5zM761 166.6l1 -1.5 1.7 0.8 0.6 2.3zM621.7 447.4l1.1 -1.9 2.1 0.6 1 2.5zM550.8 241.9l-1.9 0 -0.2 -1.9 1.7 -1.8zM1058.6 288.9l-1.1 -1.6 1.3 -1.5 2.4 0.2zM711.1 323.8l-1.6 -0.8 0.6 -1.7 2.2 -0.9zM684.8 384.7l0.9 -1.9 2.1 0.4 1.1 2.3zM518.6 262.5l-1.1 -0.8 0.7 -1.1 1.8 -0.3zM367.4 339l0.2 -1.2 1.2 0.2 0.9 1.4zM649.6 403.9l-1.1 0.8 -1 -1 0.1 -1.8zM505.9 446.7l-0.9 -1.7 1.5 -1.1 2.4 0.5zM652.7 145.3l-0.8 -1.1 1 -0.9 1.8 0.2zM903.9 431.5l-1.6 -1.2 0 -2 1.6 -0.8zM551.9 159.1l-1 -2.5 1.9 -1.8 2.9 0.6zM930.5 213.7l-0.5 -1.2 1.2 -0.6 1.7 0.6zM359.3 279.8l0.4 -1.1 1.1 0.4 0.7 1.6zM401.4 290.3l0.7 -2.1 2.1 -0.6 1.4 1.5zM403.1 286.6l-1.3 -1.6 1.1 -1.7 2.4 -0.2zM656.4 480.6l-2 -1.4 0.5 -2.4 2.5 -1zM596.4 222.8l-2.3 0.3 -1 -2.2 1.4 -2.4zM529.9 269.5l-0.5 -1.4 1.3 -0.7 1.8 0.7zM778.7 302.8l-1.4 0.5 -0.9 -1.2 0.6 -1.7zM487.3 409.8l1 -2 2.2 0.5 1.2 2.5zM547.5 245.9l-1.9 -1 -0.6 -2.1 1.3 -1.1zM381.6 324.7l-0.6 -1.9 1.8 -0.8 2.5 1.1zM705.9 364.1l-1.5 -1.5 0 -2.1 1.6 -0.6zM951.9 185l-1.9 -0.7 -0.4 -2 1.5 -1.2zM802.8 245.5l0.7 -2.2 2.3 -0.1 1.6 2.1zM1071.8 343.7l-1.9 -0.4 0 -1.9 1.9 -1.5zM657.5 405.5l-0.5 -1.3 1.2 -0.6 1.7 0.6zM868.2 349.7l-2.1 0.3 -0.5 -2 1.6 -2.3zM427.1 403.4l-0.3 -1.2 1.2 -0.4 1.5 0.8zM483.1 232l0.6 -1.1 1.1 0.5 0.6 1.7zM630.1 400.9l0.8 -0.9 1 0.7 0.2 1.7zM402 349.2l-1.8 -1.6 0.9 -2.3 2.7 -0.7zM640.4 489.7l-1.3 -1.6 0.8 -1.9 2.1 -0.3zM1056.2 368.7l1.1 -1.1 1.3 0.9 0.2 2zM818.1 410.2l0.9 -1.7 1.7 0.8 0.8 2.5zM998.4 254.2l-1.7 -0.9 0.6 -1.8 2.3 -0.9zM751.2 233.4l-1.8 -1.6 -0.2 -2.4 1.5 -0.8zM546.1 200.2l-1.9 0.3 -1.4 -1.3 0.5 -1.6zM735 377.2l1.8 -0.9 1.8 0.8 0 1.7zM806.8 355.3l-1 -1.9 0.7 -2.1 1.7 -0.2zM495 301.5l-2.1 -0.2 -0.9 -1.9 1.2 -1.6zM910 306.4l-2.6 0.3 -1.1 -2.3 1.4 -2.6zM1017 418.2l-2.2 0.2 -1 -2 1.2 -2.1zM832.2 197l0 -1.8 1.8 -0.2 1.8 1.6zM834 315.9l0.2 -2.3 1.7 -1.5 1.5 0.8zM438.1 220.4l-1.1 -1.8 0.5 -2.1 1.7 -0.3zM462.4 457.4l-2.1 -0.1 -0.7 -2 1.5 -2zM751.7 200.9l-1.7 0.4 -0.6 -1.6 1.1 -2.1zM619.9 401l-0.3 -1.8 1.8 -0.3 2.1 1.5zM1016.6 340.7l-1.9 0.7 -1.7 -1.1 0.2 -1.8zM912.4 331.4l-0.6 -1.6 1.5 -0.9 2.1 0.8zM459.3 271.8l-2.2 -0.5 -0.4 -2.3 1.8 -1.8zM788.9 236.9l1.4 -1.6 1.7 1.3 0.3 2.8zM1007.1 238.2l0.5 -1.2 1.3 0.2 0.8 1.4zM627.1 485.9l-0.9 -0.9 0.7 -1.1 1.6 -0.2zM691.9 347l-1.5 -0.4 -0.1 -1.5 1.3 -1.1zM383.1 277.2l-1.2 0.2 -0.4 -1.2 0.8 -1.4zM886.7 371.8l-1.2 0.4 -0.5 -1.2 0.7 -1.6zM950.9 390.7l-1.2 -2.2 1.3 -2.1 2.4 0zM358.8 304.2l-1.6 -1.4 0.8 -2 2.4 -0.6zM542.8 463.4l0.2 -1.4 1.4 0 1.2 1.4zM344.5 376.3l-2.2 0.4 -1.9 -1.3 0.4 -1.7zM428.1 370.4l1 -2.2 2.4 -0.1 1.5 2.2zM626.2 247l-1.5 -0.2 0.1 -1.5 1.6 -1.3zM866.9 475.8l-1.5 0.5 -1.1 -1.2 0.4 -1.7zM741.2 247.8l0.6 -2.2 2.2 -0.4 1.6 1.7zM743.1 379.2l-1.9 -1.2 -0.2 -2.2 1.6 -1zM807.1 283.3l1 -1.7 2 -0.2 1 1.5zM812.1 328.5l-1.6 0.3 -0.8 -1.4 0.8 -1.7zM360.8 398.7l-0.9 -1.4 1.4 -1 2.3 0.4zM790.1 493.8l-1.8 0.1 -0.3 -1.7 1.4 -1.8zM594.7 315.1l-1 0.7 -0.7 -0.9 0.3 -1.6zM1049 268.9l-1.5 0.5 -0.9 -1.3 0.6 -1.8zM757.2 430.7l-0.1 -1.7 1.5 -0.7 1.7 1zM429.3 170.8l-1.3 -2.2 1.4 -2.1 2.7 0.1zM841.2 417.8l-1 0.9 -0.9 -0.9 0.1 -1.8zM902.8 395.8l0.5 -1.5 1.5 0.5 1 2zM1003.2 312.3l-2.4 -0.4 -1.2 -2.1 1.2 -1.8zM828 394.6l-2.4 -0.6 -0.6 -2.4 1.7 -1.8zM729.6 210.6l-1.6 -0.2 0.1 -1.6 1.7 -1.5zM904.6 467.8l-1.3 -0.9 0.9 -1.4 2.2 -0.5zM934.3 424.2l-1.3 -1.9 1 -2.1 2.3 -0.2zM611.2 409l-2 -0.6 -0.8 -2 1.3 -1.4zM865.7 372l-0.3 -2.2 1.9 -1.1 2.2 1zM700.3 381.1l-1.7 -1.1 1 -1.8 2.7 -0.7zM397.5 415.4l-0.9 -1.5 0.7 -1.7 1.7 -0.1zM626.4 492.6l-1.9 0.6 -0.7 -1.9 1.2 -2.6zM474.7 438.1l-1 -1.8 0.9 -1.9 1.9 0zM905.5 391.3l-1.7 -1.8 1.2 -2.2 3 -0.4zM895.5 405.7l-0.8 -2.1 1.7 -1.5 2.5 0.6zM834.1 414.3l-1.2 -1.4 1.3 -1.4 2.5 0zM817.7 391.8l-1.3 0.8 -1.2 -0.9 0.1 -1.7zM943.2 368.7l0.2 -2.1 2.1 -0.3 1.9 1.7zM1001.4 264.1l0.1 -2.2 2.2 -0.4 2 1.8zM799.9 426.8l1 -1.7 2 -0.1 0.9 1.6zM496.6 289.2l-2 -1.3 -0.2 -2.4 1.9 -1.1zM879.3 252.9l-2.2 0.8 -1.8 -1.4 0.4 -2.2zM872.1 378.9l-1.4 -0.2 0.1 -1.4 1.5 -1.1zM858.8 354.1l1.4 -1.4 1.5 1.3 0 2.7zM718.3 318.4l-1.4 0.5 -0.8 -1.3 0.6 -1.7zM940.6 206.3l-1.1 -0.5 0.5 -1.1 1.5 -0.6zM1025.3 197.9l-0.6 -1.9 1.4 -1.4 1.9 0.5zM444.7 241.5l0.7 -1.6 1.7 0.3 1 1.9zM951.2 416.4l0.2 -1.5 1.5 -0.4 1.3 1.2zM671.9 256.6l-0.1 -1.8 1.7 -0.5 1.8 1.3zM653.1 159.6l-0.1 -1.8 1.5 -1 1.6 0.8zM686.8 411.2l1.1 -1.9 2.2 -0.1 1.1 1.9zM574.5 354.7l-2 0 -0.3 -2 1.7 -2zM640.4 133.2l-0.9 -1.4 1.2 -1.1 2.1 0.3zM833.5 379.3l1.3 -1.5 1.9 0.6 0.6 2.1zM985.8 347.6l1.6 -1.2 1.8 0.9 0.2 2.1zM432.8 401.6l0.8 -1.8 1.9 0.2 1.1 2zM715.3 310.4l-0.6 -1.2 1.1 -0.7 1.8 0.5zM624.8 118.8l-1.7 0.5 -0.7 -1.7 1 -2.2zM533.5 373.5l-2.1 -0.2 -1.2 -1.7 0.8 -1.5zM539.3 266.1l-1.2 0.2 -0.2 -1.2 1 -1.3zM685.5 343.2l-2.3 -0.5 -1.1 -2.1 1.3 -1.6zM562.8 409.5l-0.9 -1.5 1.4 -1.1 2.3 0.4zM960.2 438.9l0.3 -1.3 1.3 0.1 1.1 1.4zM500.1 443.9l-1.6 -1.1 0.7 -1.8 2.4 -0.7zM604.5 172.6l-2.3 -1.1 0.2 -2.5 2.5 -1.5zM394.5 247.2l-2.3 -0.1 -0.8 -2.1 1.5 -2zM970.7 172.1l1.2 -0.9 1.2 0.8 0 1.7zM562.6 208.4l1 -1.9 2.1 0.2 1.2 2.1zM508.7 397.7l-0.6 -1.7 1.2 -1.4 1.8 0.3zM861.5 249l-1 -2.2 1.4 -1.9 2.4 0.2zM717.6 304.8l-0.5 -2.4 1.3 -2 1.8 0.4zM630.7 189.1l1.2 -1 1.2 0.9 0 1.9zM871.6 452l-0.7 -1.2 1 -1 1.6 0.2zM863.9 197.8l1.9 -1.4 2.2 0.8 0.3 2.2zM877.6 270.2l-0.6 -2.3 1.6 -1.7 2.2 0.6zM340 356.1l-2.2 -0.7 0 -2.3 2.2 -1.6zM395.4 299.5l1.2 -1.2 1.5 0.7 0.4 1.9zM1030.6 368.8l-1.3 0.1 -0.4 -1.2 0.9 -1.4zM862.7 204.7l-0.6 -2 1.8 -1 2.4 0.9zM838.9 475.6l-2 -0.5 0 -2 1.9 -1.6zM835 249l-1.9 -0.5 0.3 -1.9 2.1 -1.4zM833.3 456.8l-2 1.1 -1.9 -1.2 0.1 -2.3zM689.6 132.8l0.9 -1.2 1.5 0.5 0.5 1.8zM971.9 234.8l1.1 -1.8 2.1 0.5 0.9 2.3zM785.8 412.1l-2.1 -0.3 -1 -1.8 1.1 -1.5zM440.9 384.5l-1.3 -1.8 1.2 -1.9 2.4 -0.1zM456.9 202.2l0.1 -1.6 1.6 -0.1 1.5 1.5zM557.4 185.9l-1.3 0 -0.2 -1.3 1.1 -1.2zM444.1 174.4l-2.9 0.9 -2.3 -1.9 0.6 -2.9zM346.7 173.3l-1.8 -1.9 1.2 -2.3 2.9 -0.4zM535.1 175.6l0.8 -1.9 2 0.4 1.2 2.3zM493 169.6l-2.4 -0.3 -1.1 -2.2 1.3 -1.8zM457.6 205.5l1.3 -1.4 1.9 0.1 0.6 1.5zM513.5 177.9l-1.8 -0.1 -0.7 -1.7 1.1 -1.6zM477.2 190l-1.4 0.9 -1.1 -1.2 0.3 -2.1zM447.5 207.5l0.4 -1.6 1.6 0.2 1.2 1.8zM363.3 187.9l-2.6 0.6 -2.3 -1.4 0.4 -2zM368.3 201l-1 -1.4 1 -1.4 2 0zM475.5 195.4l-0.4 -1.7 1.5 -0.9 1.9 0.8zM368.3 170.2l-2.5 -0.4 -1.6 -2 0.9 -1.6zM390.2 187.6l-0.9 -1.7 0.8 -1.7 1.7 0zM412.2 188.6l-0.7 -1.7 1.3 -1.3 2 0.4zM489.2 164.1l-2.7 0.9 -2.3 -1.6 0.4 -2.5zM449.2 203.8l-0.6 -1.9 1.2 -1.6 1.8 0.3zM526.4 168.3l0.5 -2 1.9 -0.9 1.4 1.1zM439.4 163.4l-2.2 0.1 -1.6 -1.5 0.6 -1.5zM405 157.8l-2.4 0.4 -2.1 -1.2 0.3 -1.6zM440.3 170.8l-2.7 -0.5 -0.7 -2.6 1.9 -2.1zM354.7 179.7l0.9 -1.3 1.5 0.5 0.6 1.8zM435.6 202.1l-0.9 -1.3 1.1 -1.2 2 0.1zM389.6 161.7l-2.5 -0.3 -1.6 -2 0.9 -1.7zM418.4 175.1l-2.9 0.9 -2.3 -2 0.6 -2.9zM496.2 200.9l-1.3 1.1 -1.3 -1.2 0 -2.3zM387.2 202.2l-1.7 -1.1 0.8 -1.8 2.4 -0.7zM383.2 203.3l-2.6 -0.5 -0.4 -2.6 2.2 -2.1zM532.3 195l0.3 -2.7 2.2 -1.6 1.8 1.1zM447 178.9l-1 -1.1 1.1 -1 2.1 0.1zM432.5 175.5l-1.5 -0.1 -0.5 -1.4 1 -1.4zM425.4 206.7l1.3 -2.5 2.5 -1.3 1.2 1.2zM438.6 178.6l-2.8 0.5 -2.4 -1.5 0.4 -2.1zM436.6 157.7l-1.8 0.7 -1.3 -1.4 0.4 -2.1zM448.7 175.7l-2.1 -0.2 -0.1 -2.1 2 -1.9zM485.2 188.2l-1.7 -1.2 0 -2 1.7 -0.9zM474.3 177.8l-2.3 -1.9 -0.1 -3 2.2 -1.1zM410.5 186.3l-1.2 -2.2 0.4 -2.4 1.6 -0.3zM468.6 156.1l-1.7 -0.7 0 -1.9 1.8 -1.2zM377.1 183.3l-2.2 -1.6 0.6 -2.6 2.7 -1zM428.2 195.9l-2.2 0.9 -2.1 -1 0.1 -1.9zM492.8 186l-1.3 -1.1 1 -1.4 2.3 -0.3zM358 183.1l-0.6 -1.4 1.2 -0.9 1.8 0.5zM400.6 157.2l1.9 -1.2 2 0.9 0.2 2zM387.8 176.1l-1 -0.9 0.8 -1.1 1.8 -0.1zM487.7 168.4l-0.1 -2.9 2.3 -1.7 2.4 1.1zM368.4 165.9l-0.1 -2.2 2 -0.9 2.1 1.3zM540.4 171l-1.1 -1.2 1.1 -1.1 2.2 0.1zM491.8 185.7l-2.1 0.1 -0.6 -2 1.5 -2.1zM509.7 175.8l0 -3.1 2.6 -1.7 2.6 1.4zM443.8 196.1l0.3 -1.4 1.4 0.1 1.1 1.5zM500.2 158.5l-2.4 -1.6 0.1 -2.9 2.5 -1.3zM342.3 168.1l1.3 -2 2.3 0.7 1 2.7zM354.8 187.8l0.2 -1.6 1.6 0 1.4 1.6zM513.8 161.8l-1.8 -0.6 -0.4 -1.9 1.4 -1.3zM493.7 162l-2.4 -0.1 -0.9 -2.3 1.5 -2.1zM524.6 199.2l2.4 -1.5 2.7 0.8 0.3 2.4zM456 207.2l-1.8 0 0 -1.8 1.8 -1.8zM408.5 169.7l-1.3 -1.7 1.5 -1.5 2.7 0.1zM527.5 170.4l1.1 -1.8 2 0.6 0.9 2.3zM529.9 193.7l-0.9 -2.4 0.8 -2.5 1.7 -0.1zM382 194.8l-2.3 0.5 -2 -1.1 0.2 -1.6zM377.4 164.1l-1.3 -2.6 1.3 -2.6 2.6 0zM412.6 188.1l-0.2 -1.4 1.3 -0.7 1.5 0.8zM517.6 182.9l-1.4 -0.6 0.2 -1.5 1.5 -0.9zM439 167.3l-0.9 -1 0.8 -1 1.7 0zM501.3 173.7l1.2 -1.5 1.5 1.2 0.3 2.7zM397.2 180.8l0.1 -2.4 1.8 -1.6 1.7 0.8zM435.7 190.1l-0.9 -1.3 1.1 -1.2 2 0.1zM492.2 159.2l-1.1 -1.8 1.1 -1.8 2.2 0zM374.7 171.9l0 -1.5 1.5 -0.3 1.4 1.2zM387 173.8l-1.6 -0.7 0.1 -1.8 1.7 -1zM483 163.2l-2.6 -1.1 -0.5 -2.8 2.1 -1.7zM385.7 197.8l1.5 -1.5 2 0.8 0.5 2.3zM378.3 191.9l1.5 -2.2 2.6 0.6 1.1 2.8zM335.3 176.5l2.2 -1.2 2.3 0.9 0.1 2.1zM496.5 198.6l-3 0 -2.1 -2.1 0.9 -2.1zM469 181.2l1 -2.1 2.3 0.1 1.3 2.1zM416.1 185.1l-0.9 -1.4 1.4 -1 2.3 0.4zM345.4 167.6l-1.5 0.3 -0.6 -1.4 0.9 -1.7zM439.6 177.2l-2.2 -1.2 -1 -2.4 1.3 -1.1zM449.7 170.9l-0.8 -1.7 1.3 -1.4 2.1 0.3zM449.2 208.8l-2.5 -1.5 -0.4 -2.9 2.1 -1.3zM350.1 187.9l2.4 -1.1 2.5 0.6 0.2 1.6zM427.6 192.3l-1.1 -2.6 1.6 -2.3 2.7 0.2zM367.6 185.6l-1.7 -0.6 -0.3 -1.8 1.4 -1.2zM467.4 164l-1.6 -0.4 0.2 -1.7 1.9 -1.3zM378.5 174.1l-2.7 -0.6 -1.7 -2.2 1 -1.6zM399.6 167.8l0.8 -1.9 2 -0.3 1.2 1.6zM440.6 182.7l-1.1 -1.6 1 -1.7 2.1 -0.1zM395.7 200.8l-2.8 0.8 -2.3 -1.9 0.6 -2.6zM555.6 186l-2.3 1 -2.1 -1.4 0.2 -2.4zM547.9 192.2l-1 -2.3 1.7 -1.8 2.7 0.5zM521.7 184.4l-2.2 -1 -0.8 -2.3 1.4 -1.3zM489.1 180.3l2.3 -1.3 2.5 0.7 0.2 1.9zM516.2 168.8l-2.1 0.4 -0.6 -2 1.4 -2.4zM361.9 177.4l-1.4 0.2 -0.6 -1.3 0.8 -1.4zM474.7 195.2l1.7 -1.9 2.5 -0.1 0.8 1.8zM460.3 185.6l-0.3 -2.4 1.8 -1.7 2.1 0.7zM416.9 189.4l-1.4 -1.7 0.3 -2.2 1.7 -0.5zM526.1 189.3l1.1 -2.2 2.4 0.2 1.4 2.4zM413.9 207.3l0.3 -2.3 2.3 -0.2 2 2.1zM496 193.9l-1 -1.2 1.1 -1.1 2.1 0.1zM404.9 171.4l-1.4 0 -0.2 -1.4 1.2 -1.4zM521.9 180.7l-2.8 -0.8 -1.2 -2.7 1.6 -1.8zM448.3 196.5l0.9 -2.1 2.3 0.1 1.4 2.2zM450.6 166l0.3 -1.6 1.6 -0.4 1.3 1.2zM513.3 198l-2.4 0.1 -1.9 -1.5 0.6 -1.6zM553.5 188l-0.6 -2.6 2.1 -1.7 2.7 0.9zM396.8 254.3l1.2 -3.1 3.2 -0.9 2 2.2zM418.8 256.3l-2.6 -0.5 -1.3 -2.3 1.2 -1.8zM405.6 229.3l1.4 -2.4 2.7 -0.8 1.3 1.6zM422.8 247.5l-0.9 -2.2 1.7 -1.7 2.6 0.5zM389.4 264l-1.2 -1.5 1.1 -1.6 2.3 -0.1zM396.9 261.1l-1.4 -3 1.6 -2.9 3 0.1zM393.8 264.2l-2.4 -0.4 -0.2 -2.4 2.1 -2zM437.3 262.3l0.6 -3 2.2 -2.2 1.7 0.9zM417.2 288.1l1.9 -2.3 2.9 -0.3 1 1.9zM444.9 245.7l-1 -2.1 1.8 -1.4 2.8 0.7zM435.2 281l0.9 -2.3 2.4 -0.2 1.5 2.1zM422.9 233.6l-1.9 -0.5 0.2 -1.9 2.1 -1.4zM421.9 236.5l-2 1.2 -1.9 -1.4 0.1 -2.5zM406.4 284l-1.9 0.5 -1.5 -1.3 0.4 -1.9zM391.9 240.8l-0.3 -1.5 1.3 -0.9 1.5 0.6zM435.5 268.3l-1.6 -2.1 0 -2.6 1.6 -0.5zM415.4 243.1l-1.6 -2.4 1 -2.7 2.6 -0.3zM413.3 281.1l-2.1 -0.9 -0.6 -2.2 1.5 -1.3zM429.7 266.8l-1.2 1 -1.1 -1.1 0.1 -2.1zM433.6 233.5l-1 -1.8 1.3 -1.6 2.3 0.2zM425.7 237.5l1.5 -2.7 2.7 -1.6 1.2 1.1zM432 268.8l-1.9 -0.7 -0.5 -1.9 1.4 -1.2zM417.3 224.2l-0.3 -2.8 2 -2 2.3 0.8zM439.8 263.2l0.2 -1.9 1.9 -0.1 1.8 1.8zM414.9 241.9l-2.5 0.9 -2.3 -1.3 0.2 -2.1zM401.6 265l-1.9 -1.8 1 -2.5 2.9 -0.6zM419 258.2l-2.1 0.7 -1.9 -1.2 0.2 -1.9zM397.6 228.2l1.4 -2.2 2.6 0.3 1.2 2.5zM443.7 247.8l-1.6 -0.8 -0.3 -1.8 1.4 -1zM429 253.9l-0.9 -1.7 1.5 -1.1 2.4 0.6zM419.1 245.2l-3 -0.4 -2.2 -2.1 0.8 -1.7zM405.4 229.8l-0.5 -1.7 1.4 -1.2 1.9 0.6zM407.6 238l-0.4 -2.3 1.9 -1.4 2.3 0.9zM408.3 267.5l-1.7 0.8 -0.8 -1.7 0.9 -2.5zM402.2 251.3l-2.4 -0.7 -0.5 -2.4 1.9 -1.7zM405.2 259.9l-0.2 -1.9 1.9 -0.4 2.1 1.5zM401.2 250l-2.2 -0.8 0.4 -2.3 2.6 -1.5zM415 227.4l2.1 -1.8 2.7 0.2 0.6 2zM428.9 285.1l-1.1 -3.1 1.5 -3 2.6 0.1zM410.6 271.1l-0.8 -3.2 1.8 -2.8 2.6 0.5zM431.5 287.5l-3.1 -0.2 -2.4 -1.9 0.7 -1.8zM390.5 243.7l-2.2 -0.1 -0.5 -2.2 1.7 -2.1zM416.5 287.9l2.2 -1 2.3 0.7 0.1 1.7zM401.9 237.1l-2.3 -0.9 -1 -2.3 1.3 -1.4zM396.3 284.7l1.1 -2.4 2.5 -0.8 1.4 1.6zM406.9 253.5l0.2 -1.9 1.8 -0.7 1.6 1.2zM422.9 276.1l0.8 -2.2 2.4 0.1 1.5 2.3zM437.9 230l-3 0 -2.3 -1.8 0.6 -1.9zM402.5 241.8l-0.3 -2.8 1.9 -2 2.3 0.7zM430.5 255l-2.2 -0.7 -1.2 -2 1 -1.3zM396.7 246.4l-1.9 0.6 -1.6 -1.2 0.3 -1.9zM416.6 256.6l0.4 -1.6 1.7 -0.1 1.2 1.5zM443.6 248.7l-1.6 -1.5 0.9 -2 2.5 -0.5zM443.7 254.5l1.5 -1.7 1.9 1.2 0.4 2.8zM431.8 239.6l-1.4 0.3 -0.6 -1.3 0.8 -1.7zM417.8 266.3l-0.1 -2.1 1.9 -1 2 1.2zM423 224.8l1.7 -1.1 1.8 0.9 0.1 2zM424.4 249.3l-0.7 -3.1 1.1 -3 1.8 0.1zM441.4 244.2l-2.2 -2.2 -0.4 -3.1 1.8 -0.9zM431.1 285.8l-1.5 -0.4 -0.1 -1.5 1.4 -1.2zM822.9 279l1.1 -2.4 2.6 -0.1 1.5 2.3zM734.9 283l-0.5 -1.8 1.7 -0.6 2.2 1.2zM843.9 221.9l-1.1 -2.5 1.3 -2.4 2.4 0.1zM821.5 247.5l1.2 -1.5 1.9 0 0.8 1.6zM848 258.6l0.5 -1.5 1.5 0.4 1 1.9zM843.5 255.9l-2.4 -0.9 -1.1 -2.3 1.3 -1.5zM857.5 246.4l-1.3 0.6 -0.6 -1.3 0.7 -2zM732.2 256.2l2 -1.6 2.6 -0.1 0.6 1.5zM851.7 246.8l1.8 -1.5 2.1 1 0.3 2.5zM701.5 257.8l-1.8 -0.3 0.1 -1.9 1.9 -1.5zM696.5 223.6l-2.1 0.3 -1 -1.9 1.2 -2.2zM760.1 218.9l-0.8 -2.2 0.9 -2.2 1.6 0zM669.8 259.4l1.2 -1.9 2.3 -0.3 1.1 1.7zM774.7 273.6l-2 -0.8 0.4 -2.2 2.4 -1.3zM703.9 259.7l-1.9 -1.4 0.6 -2.2 2.5 -0.9zM786.3 211.3l-1.7 -0.3 -0.6 -1.6 1.2 -1.4zM846.9 244.9l0.8 -2.1 2.1 0.6 1.3 2.7zM779.3 258.4l1.8 -1.3 1.9 1 0.2 2.3zM700.1 230.4l-2 0 -0.4 -1.9 1.5 -2zM849.6 253l-1.5 -1.7 0.2 -2.2 1.6 -0.5zM793.4 196.1l0.4 -2.6 2.4 -1.1 2 1.5zM849.1 230.2l0.4 -2.4 2.4 -0.6 2 1.9zM801.6 251.5l-2.3 -1.3 -0.5 -2.6 1.8 -1.3zM742.9 186.6l-1.4 0.4 -0.5 -1.3 0.9 -1.8zM809.7 216.9l-2.4 0.2 -1.2 -2.1 1.2 -2.3zM777.2 287.8l1 -2.2 2.4 -0.6 1.4 1.7zM743.2 237.9l-1.8 -1.2 0.2 -2.2 2 -1zM743.8 180.1l-1.3 0.4 -0.7 -1.2 0.6 -1.6zM826.2 196.7l-2.3 -0.2 -0.4 -2.3 1.9 -2.1zM852.9 216.1l0.7 -1.7 1.8 0.6 1.1 2.3zM763.1 255.1l-1.7 0.8 -1.3 -1.3 0.4 -2.1zM702.5 248.8l-1.6 0.2 -0.8 -1.4 0.8 -1.7zM838.1 198.8l-2.5 -0.5 -1.1 -2.3 1.5 -1.9zM687.8 237.4l1.5 -1.2 1.9 0.5 0.3 1.7zM732.8 203.8l0.8 -2.2 2.2 -0.6 1.5 1.6zM722.5 197.4l1.4 -2.3 2.6 -0.5 1.3 1.8zM716.7 183.9l-0.6 -2.2 1.7 -1.6 2.2 0.6zM766.1 253.6l-1.6 -2.3 0.9 -2.7 2.6 -0.4zM681.6 200.9l-1.5 0.3 -0.6 -1.5 1 -1.8zM765.1 206.9l-1.8 -0.9 -0.4 -1.9 1.3 -1zM736.4 229.6l-2.3 -0.7 -0.2 -2.4 2.1 -1.7zM812.1 271.5l-1.1 -1.6 0.7 -1.8 1.8 -0.3zM788.9 273.6l-0.8 -2.6 1.6 -2.2 2.5 0.4zM757.3 192.8l1 -0.9 1.1 0.7 0.1 1.6zM763.5 235.2l-2.2 -1 -0.7 -2.3 1.5 -1.3zM857.9 224.3l-1.4 0.3 -0.6 -1.3 0.8 -1.6zM850.7 239.7l-1.4 -0.9 0.2 -1.7 1.5 -0.7zM817.6 242.6l-1.2 -1.3 1 -1.5 2.2 -0.2zM821.1 249.4l0.7 -2.1 2.2 0.2 1.5 2.4zM800.5 249.6l1.2 -1 1.4 0.8 0.2 1.8zM819.1 267.1l0.2 -1.9 1.8 -0.6 1.6 1.3zM834 245.8l-1.4 -1.5 0.6 -1.9 2 -0.4zM738.9 292.9l1.7 -1.1 1.9 0.8 0.2 1.8zM695.8 263.4l-2.4 1.2 -2.3 -1.3 0.1 -2.5zM700.8 279.8l-1.9 0.7 -0.9 -1.9 1.1 -2.5zM767.2 199.3l0.3 -1.7 1.5 -0.7 1.3 1zM800.4 213.2l1 -1.9 2.1 -0.4 1.1 1.5zM740 267.3l-1.5 1.4 -1.5 -1.4 0 -2.8zM733.7 193.6l-2.3 0.5 -1.9 -1.3 0.4 -1.8zM833.8 264.3l-2.3 -0.3 0 -2.3 2.3 -2zM754 191.4l-0.3 -2.5 1.8 -1.8 2.1 0.7zM775 187.6l-1.7 -0.9 -0.4 -1.9 1.3 -0.9zM751.8 169.6l-2.6 1 -2.2 -1.8 0.4 -2.8zM758.4 189.2l-1.8 -0.7 0.1 -1.9 1.8 -1.2zM792 176.6l-1.2 -1.2 0.9 -1.5 2.1 -0.2zM748 186.4l-2.6 0.2 -1.7 -1.9 0.8 -2.1zM683.6 179.5l-1.3 -0.6 0.5 -1.3 1.8 -0.7zM726.7 180.5l0.7 -2 2 -0.8 1.3 1.2zM698.4 172l-0.9 -2.4 1.5 -2.1 2.4 0.3zM771.3 193.5l0.3 -1.9 2 -0.1 1.7 1.8zM694.7 184.5l-2.1 0 0 -2.1 2.1 -2.1zM738.3 167.9l-0.4 -1.7 1.5 -1 1.9 0.7zM719.1 170.6l1.3 -1.8 2.1 0.7 0.8 2.5zM755.2 190.8l-1.7 0.7 -1.3 -1.3 0.4 -2zM707.7 170.1l-2.1 -1.1 0.2 -2.4 2.4 -1.3zM692.5 190.9l-0.2 -2.1 1.9 -0.9 2 1.1zM786.2 176.3l-0.8 -1.6 1.5 -1 2.3 0.6zM736.9 194.5l-2.3 0.8 -1.6 -1.8 0.7 -2.6zM743.9 175.5l0.5 -1.8 1.9 -0.2 1.4 1.6zM733.1 167.8l-1.6 -1.8 0 -2.4 1.6 -0.6zM773.2 190.9l-0.3 -1.4 1.3 -0.5 1.6 0.9zM733 195l0.9 -2.1 2.3 0.5 1.3 2.6zM753.5 183.5l0.1 -1.9 1.7 -0.8 1.7 1.1zM764.1 179.2l-1.6 0.8 -1.3 -1.2 0.3 -2zM788.6 187.5l-1 -1.8 0.7 -1.9 1.7 -0.1zM731 192.8l-2.1 -1.7 -0.6 -2.6 1.5 -0.9zM693.8 177.7l-0.7 -1.1 1 -1 1.7 0.2zM688.6 180.1l-1.3 -1.5 1.5 -1.3 2.7 0.2zM705.5 190.1l-1.4 0.8 -0.9 -1.4 0.6 -2.2zM733.3 190.8l-2 -1.2 -0.3 -2.3 1.7 -1.1zM733.1 183.7l-1.3 -1 0.7 -1.5 2 -0.5zM699.4 178.3l-0.9 -1.7 1.5 -1.2 2.3 0.5zM781.1 188l1.3 -1 1.5 0.7 0.2 1.7zM779.1 187.6l-2.3 -0.9 -0.4 -2.4 1.9 -1.6zM775.8 170.6l-1.7 0.4 -0.6 -1.7 1.2 -2.1zM699.8 186.4l-0.8 -1.9 1.8 -1.1 2.6 0.8zM725 185.8l-1.6 0.2 -0.4 -1.5 1.1 -1.7zM761.4 175.6l-1.7 -0.1 -0.2 -1.7 1.5 -1.6zM701.9 175l-2 0.5 -0.9 -1.8 1.1 -2.3zM762 193.3l-2.2 0.1 -0.6 -2.2 1.7 -2.3zM914 261.7l-3.2 0.4 -2.6 -1.9 0.6 -2.3zM938.2 214l2.1 -2 2.9 -0.2 0.8 1.9zM900.9 196l2.9 -1.3 2.9 1.2 0 2.6zM877.2 233.5l-1.8 -0.3 0.1 -1.8 1.8 -1.5zM856.4 255.1l-1.5 -2.3 0.9 -2.6 2.4 -0.3zM862.8 208.4l-2.5 -0.8 -0.5 -2.6 2.1 -1.8zM954.9 252.6l-2.6 -0.7 -0.9 -2.6 1.8 -1.9zM906.9 237.8l-0.4 -2.6 1.7 -2 2.1 0.6zM922.9 238l-1.7 1 -1.2 -1.5 0.4 -2.5zM885.9 272.1l-2.5 0.6 -1.6 -2 0.9 -2.6zM944.8 246.8l-2.4 0 -1.9 -1.5 0.5 -1.6zM940.5 217l-1.4 -1.8 0.6 -2.2 2 -0.4zM932.3 268.4l2.3 -2.2 3.1 -0.2 0.9 1.9zM903.1 227.6l1.5 -2.8 3 -1.1 1.5 1.7zM908.2 270.1l-1.5 -1.8 0.6 -2.3 2.1 -0.5zM934.8 264.3l-2.3 -0.7 -0.2 -2.3 2.1 -1.7zM939.2 231.9l-0.4 -2.9 1.5 -2.5 1.8 0.4zM888.1 214.4l-0.8 -2 1.4 -1.6 2.2 0.4zM851.3 225.8l-2.8 -2 -0.2 -3.4 2.6 -1.4zM866.2 237.8l-0.8 -3.1 1.2 -3 2.1 0.1zM879.2 277.9l-0.7 -2.4 1.8 -1.8 2.5 0.6zM857.5 260.1l0.2 -2.7 2.3 -1.5 2.1 1.2zM849.2 238.2l-0.6 -1.3 1.1 -1 1.7 0.3zM919.3 270.8l-1 -2.1 1.8 -1.6 2.8 0.6zM920.1 249.7l-0.4 -2.1 1.4 -1.5 1.8 0.5zM851.4 220.5l-0.4 -2.1 2 -0.5 2.4 1.6zM855.2 230.6l-0.1 -1.6 1.6 -0.5 1.6 1.1zM865 274l2.2 -2.2 3.1 -0.8 0.8 1.4zM921.7 201.1l-2 0.2 -1.4 -1.4 0.5 -1.6zM858 212.5l-2.1 0.4 -1.6 -1.4 0.5 -1.8zM904.4 219.5l-1 -1.7 0.9 -1.7 1.9 0zM897.2 216.7l-0.9 -1.5 0.9 -1.5 1.8 0zM895.1 272.8l1.4 -3 3 -1.2 1.7 1.8zM911.3 211l0.1 -1.7 1.5 -0.6 1.5 1zM871.2 197.1l1 -1.4 1.5 0.9 0.5 2.2zM936.9 237.8l0.9 -3.1 3.1 -1.1 2.2 2.1zM849.9 235.4l-1 -1.2 1 -1.2 2 0zM849.7 231.1l2.2 -1.2 2.4 0.8 0.2 2.1zM925.1 230.4l-1.5 -2.5 0.1 -2.9 1.7 -0.4zM869.5 236l1.9 -1.8 2.6 0.2 0.7 1.9zM864.8 236.7l1.1 -1.1 1.3 0.8 0.2 1.8zM861.6 259.2l0 -2.2 2.2 -0.4 2.2 1.8zM929.6 237l0.2 -1.8 1.8 -0.3 1.6 1.5zM883.1 196.2l-0.7 -1.9 1.2 -1.6 1.8 0.3zM943.9 250.8l-2.6 1 -2.5 -1.3 0.2 -2.3zM891 242.8l-1.6 0.8 -1.5 -0.9 0.1 -1.7zM923.3 228.9l2 -2.5 3.1 -0.2 1.2 2.2zM898.3 200.3l0.1 -1.9 1.8 -0.5 1.8 1.4zM932.7 273.6l1.3 -2.4 2.7 -0.5 1.4 2zM878.2 221.6l-0.7 -2.5 1.7 -1.9 2.4 0.6zM855.7 237.5l-3 -0.5 -1.8 -2.4 1.2 -1.9zM933.5 262.5l-2.4 -0.7 -1.3 -2.2 1.2 -1.5zM857.6 228.4l2.1 -2.2 3.1 0 1 2.3zM920.6 276.5l-2 -1.5 0.8 -2.4 2.8 -0.9zM909.8 215.6l1.9 -2.2 2.9 0.3 1 2.5zM892.8 222.2l1.1 -1.5 1.8 0.5 0.7 2zM913.5 285.9l-2.2 -1 0.5 -2.3 2.7 -1.3zM868.7 275.6l-2 -2.1 0.9 -2.7 2.8 -0.7zM910.9 263.1l1.2 -1.3 1.6 0.9 0.3 2.3zM870.8 257.4l-1.2 -2.3 1.1 -2.4 2.3 -0.1zM872.6 254.6l-1.2 -2.7 1.5 -2.6 2.6 0.1zM935.3 257.6l1.5 -1.9 2.2 0.8 0.8 2.7zM915.5 195.9l2.5 -2.1 3.2 0.9 0.6 2.9zM924.7 280.3l1 -3.1 2.9 -1.4 1.9 1.6zM904.1 239.7l-2.3 -2.1 0.3 -3.1 2.6 -1zM887.6 272.7l-3 -1.3 -1.1 -3.1 2 -1.8zM932.7 271.7l2.4 -1.5 2.8 0.5 0.4 2.1zM848.8 229.5l-1.6 -1.6 1.2 -1.9 2.8 -0.3zM893.7 205l0.5 -2 2 -0.6 1.5 1.4zM942.6 227.4l2.4 -2.1 3.2 0.2 0.8 2.3zM941.3 239.7l-2 -0.2 -0.2 -2 1.8 -1.8zM861.2 214.5l-2 -1 -0.7 -2.1 1.3 -1.1zM856.1 270.3l-1.7 -2.4 0.8 -2.9 2.5 -0.4zM936.6 249.5l-2.3 0.5 -2 -1.2 0.3 -1.7zM917.2 265.3l-1.5 -2.2 1 -2.5 2.5 -0.3zM946.5 217.1l1.6 -1.9 2.3 0.8 0.7 2.7zM915.6 240l2.5 -1.5 2.8 0.6 0.4 2.1zM903.9 262.9l-1.9 -0.3 -0.3 -1.9 1.6 -1.6zM885.9 226.2l-0.7 -2 1.5 -1.4 2.2 0.6zM894.8 273.8l-1.9 -0.2 0.2 -1.9 2.1 -1.7zM925.9 204.8l0.2 -1.4 1.4 -0.1 1.2 1.3zM877.9 208.1l-2.3 -1.6 -0.3 -2.8 2 -1.2zM868.1 217.8l-1.4 0.5 -0.7 -1.4 0.7 -1.8zM936.1 261.9l1 -2.7 2.7 -0.9 1.7 1.8zM856.4 212.2l-0.1 -2.4 2.1 -1.1 2.2 1.3zM898.5 201.4l-1 -1.4 1.2 -1.2 2.2 0.2zM864.9 251.9l-1.4 -2.5 0.4 -2.8 1.8 -0.3zM913.6 272.6l-0.6 -2 1.4 -1.5 2.1 0.5zM869.7 239.8l-3.2 -0.2 -2.4 -2 0.7 -1.8zM927.3 256.9l1 -1.2 1.5 0.4 0.5 1.5zM395.9 404.6l2.3 -1.8 2.9 0.1 0.6 1.9zM369.4 364.2l-0.9 -2.8 1.3 -2.7 2.2 0.2zM403.4 398.3l-0.9 -1.8 0.9 -1.8 1.9 0zM363.4 391.5l-1.4 -3 1.4 -3 2.9 0zM368.7 377.8l-1.7 0 -0.3 -1.6 1.4 -1.6zM375.7 373.9l1.1 -1.1 1.4 0.7 0.3 1.8zM375.9 362.5l-3.1 -0.2 -1.8 -2.6 1.4 -2.4zM352 351.8l2.7 -1.3 2.9 0.5 0.3 1.8zM355.2 421.1l-1.6 -2.2 0.3 -2.7 1.9 -0.5zM392 405l0.1 -1.4 1.4 -0.3 1.3 1.1zM384.6 430.8l-1.5 -2.4 1.3 -2.6 2.8 -0.1zM362.7 414.6l-2.5 -1.7 -0.2 -3.1 2.3 -1.3zM338.8 366.2l-2.1 0.9 -2 -1 0.1 -1.9zM393.9 416.4l-0.2 -3 1.5 -2.6 1.7 0.4zM355.1 390.5l-2.5 -0.1 -1 -2.4 1.6 -2.3zM406 426l-1.7 1 -1.4 -1.4 0.3 -2.3zM399.4 393.6l-0.9 -2 1.9 -1.1 2.8 0.9zM429.8 407.4l0.2 -1.9 1.9 -0.5 1.6 1.4zM370.4 386.9l1.7 -2.4 2.9 -0.8 1.1 1.6zM399 429.2l0.4 -2.8 2.3 -1.7 1.9 1.2zM416.4 405l1.3 -1.3 1.8 0.4 0.5 1.7zM373.6 427l-1.7 0.1 -0.9 -1.5 0.8 -1.5zM340.7 406.2l-1.5 -2.8 1.5 -2.8 2.9 0zM350.1 408.1l-2.2 0.6 -1.2 -1.9 1 -2.5zM354.4 362.5l-2.6 -0.9 -1.2 -2.5 1.4 -1.5zM366.6 389.1l-3 0.5 -2 -2.3 1 -2.8zM429.9 392.2l-1.7 -0.5 0.3 -1.7 2 -1.2zM341.6 364.2l-3 -0.9 -2 -2.5 1 -1.5zM435.7 384.8l-1.3 -1.5 1.4 -1.4 2.7 0.1zM428.6 375l1.7 -2.6 3 -0.7 1.4 2zM406 367.1l0.3 -2.8 2 -2 1.7 0.8zM349.4 359.7l-1.6 0.1 -0.6 -1.5 1.1 -1.6zM404.8 398.2l-0.8 -2.3 2 -1.4 2.8 0.9zM430.6 398.8l-1.5 0.6 -0.9 -1.3 0.6 -1.9zM343.2 384.4l-1.8 -0.9 0.2 -2 2 -1.1zM380.5 412.9l-3 0.4 -2.2 -2 0.7 -2.3zM394.1 378.4l-2 0.4 -1.6 -1.2 0.4 -1.6zM425.1 404.7l-1.5 -1.9 0.7 -2.3 2.2 -0.4zM401.9 406.8l-2.1 -1.5 0.3 -2.6 2.4 -1.1zM413 417.2l-1.7 -2.5 0.9 -2.9 2.5 -0.4zM363.8 355.4l-2 -1.4 0.5 -2.4 2.4 -1zM383.6 412.7l-2.2 -1.9 0.7 -2.8 2.9 -0.9zM350.5 374.7l-1 -2 1.6 -1.5 2.6 0.5zM368.4 350.5l1.5 -2.6 2.9 -0.5 1.4 2.1zM346.4 393.3l-2 -0.4 -0.5 -2 1.6 -1.6zM366 394l-3.2 0.7 -2.5 -2 0.6 -2.8zM349.1 356.2l1.6 -2.6 2.8 -1 1.3 1.6zM392.2 420.8l-3.1 -0.1 -2.4 -1.9 0.6 -1.8zM349.9 373.6l-1.6 0.2 -0.5 -1.5 1 -1.6zM351.2 365.9l1.8 -1.8 2.5 0.4 0.8 2.2zM408.9 357.5l-0.2 -1.9 1.6 -1 1.9 0.9zM393.5 350.1l-0.9 -1.5 0.8 -1.6 1.7 -0.1zM380.2 385.3l-1.2 -1.9 0.5 -2.2 1.7 -0.3zM395.3 412.3l-1.9 0 -0.1 -1.9 1.9 -1.9zM433.1 393.7l-0.4 -1.5 1.5 -0.4 1.9 1.1zM380.8 388l-2.8 -0.9 -1.9 -2.2 0.9 -1.4zM350.6 386.5l-1 -1.8 1.8 -1 2.8 0.8zM364.3 365.2l-2.8 -1.5 -1.1 -3 1.7 -1.5zM332.7 398l0 -2.9 2.5 -1.4 2.5 1.5zM365.8 394.7l-2.3 -0.8 -0.8 -2.3 1.5 -1.5zM356.2 347.9l1.7 -1.2 1.8 1 0.1 2.1zM421 359.3l2.1 -1.8 2.8 0.3 0.6 2.1zM378.6 358.8l1 -1.1 1.3 0.7 0.3 1.8zM345.8 377.5l-1.4 -0.5 0 -1.5 1.4 -1zM396.2 405.4l-1.1 -2.5 0.7 -2.7 1.8 -0.2zM336.7 382.1l1.4 -2.4 2.6 -0.9 1.2 1.4zM336.7 390.5l-2.1 -1.8 0 -2.7 2 -0.9zM370.8 391.5l-1.3 -1.6 0.6 -2 1.9 -0.4zM366.4 384l0.5 -3 2.4 -1.8 1.9 1.2zM398.3 413.2l0.4 -1.6 1.6 -0.2 1.2 1.4zM398.5 381.3l2.6 -1.7 3 0.9 0.4 2.6zM351.6 419.3l1.7 -1.7 2.2 1.1 0.5 2.8zM383.1 342.4l-0.9 -1.8 1.3 -1.5 2.2 0.3zM386 394.7l-2.9 0.1 -2.4 -1.7 0.5 -1.8zM407.8 346.7l2.3 -2.2 3.1 -0.8 0.8 1.5zM342.6 378.7l-0.7 -1.4 1.2 -1 1.9 0.4zM387.3 402.2l1.5 -2.6 3 -0.3 1.4 2.2zM399.9 343.9l-0.7 -1.4 1.1 -1 1.8 0.4zM402.6 369.6l-0.5 -1.6 1.4 -0.8 2 0.8zM343.2 392.2l-2.2 -1.6 0.4 -2.7 2.5 -1.1zM361.4 376.4l-0.9 -2.7 1.2 -2.6 2.1 0.1zM397.6 391l-0.7 -2.9 1.5 -2.6 2.2 0.3zM373.9 371.3l-1.2 -2.6 1.5 -2.4 2.6 0.1zM415.6 401.1l-1.8 -2 -0.2 -2.7 1.6 -0.7zM405.2 374.8l-0.2 -1.7 1.7 -0.3 1.9 1.4zM412.7 370.5l2 -1.9 2.7 -0.4 0.7 1.5zM415.2 417.4l-2.2 -0.6 -0.8 -2.2 1.4 -1.6zM420.7 417.8l-0.1 -2.1 1.9 -0.8 2 1.3zM394.6 416.6l2 -1.8 2.6 0.5 0.6 2.3zM342 406.3l-2.7 -0.5 -0.9 -2.6 1.8 -2.1zM371.4 375.4l-0.6 -2.9 1.1 -2.8 1.7 0.2zM409.4 425.8l-0.9 -1.1 1 -1.1 1.9 0zM421.6 395.6l0.2 -1.8 1.8 -0.4 1.6 1.4zM403.6 402.6l-1.8 1 -1.5 -1.4 0.3 -2.4zM406.7 367.2l-2.9 -1.5 -0.7 -3.2 2.2 -1.7zM377.8 357.4l-2.7 -0.3 -2 -1.9 0.8 -1.6zM354.5 397.6l-3 0.9 -2.8 -1.4 0.2 -2.2zM343.8 377l-0.7 -2 1.6 -1.3 2.3 0.7zM366.1 374.4l-2.3 -0.2 -1.4 -1.9 0.9 -1.7zM418.5 351.5l1.1 -1.3 1.5 1 0.3 2.3zM403.3 375.7l-1.6 -0.3 0.2 -1.6 1.8 -1.3zM398.8 381.7l1.8 -1.9 2.6 -0.2 0.8 1.7zM430.7 391l1.2 -2.5 2.7 0.1 1.5 2.5zM338.1 403.9l-2.9 0.7 -2.5 -1.7 0.4 -2.4zM350.2 406.4l-2.1 0.5 -0.6 -2.1 1.5 -2.5zM350.2 371.5l-1.3 -2.4 1.6 -2.2 3 0.2zM430.9 369l0 -2.6 2.1 -1.4 2.2 1.2zM340.8 398.3l-2.1 -0.4 -0.7 -2 1.5 -1.7zM347.9 371.2l-1.4 -0.9 0.7 -1.5 2.1 -0.6zM376.4 375.6l-2.3 -1 0.1 -2.4 2.4 -1.5zM338.8 391.4l-1.5 -1.7 0.4 -2.3 1.9 -0.5zM387.6 410.7l1.4 -1.7 1.9 1 0.6 2.6zM388.1 366.5l-2.2 0.2 -0.9 -2 1.3 -2.2zM360.7 407.2l-0.5 -2.6 1.5 -2.2 2 0.4zM434.4 398.2l-2.9 0.9 -2.3 -1.9 0.6 -2.8zM338.2 389.6l-2.1 -0.5 -1 -1.9 1.1 -1.4zM355.6 423.7l-2.5 -1.8 -0.5 -3 2 -1.3zM356.5 420.8l-2.6 -0.8 -0.7 -2.6 1.9 -1.8zM416.8 413.2l0.3 -1.7 1.7 0.3 1.4 2zM340.9 383.9l-2.4 -2 -0.7 -3.1 1.7 -1.1zM456.2 340.1l-1.9 -1.3 -0.2 -2.3 1.7 -1zM481.7 320.7l-1.7 -0.1 -0.4 -1.6 1.2 -1.5zM505.8 343l-1.4 -0.3 0 -1.4 1.4 -1.1zM477.9 336.4l1.1 -1.5 1.8 0.6 0.7 2.2zM452 330.2l-1.4 -2.2 0.5 -2.6 1.9 -0.4zM451.6 326.5l1.5 -1.5 1.8 1.2 0.2 2.8zM479.8 335.1l-2 -1.1 0.7 -2.1 2.7 -1.1zM454.8 350.3l1.3 -1.1 1.5 0.8 0.2 1.9zM487.9 328.3l-2.4 -1.2 -0.6 -2.7 1.8 -1.4zM454.7 340.8l-1.6 -2.3 1 -2.6 2.7 -0.3zM447.1 340.8l-0.9 -2.2 1.5 -1.8 2.3 0.3zM480 333.4l-1.3 0.1 -0.3 -1.2 1 -1.3zM442 329.6l0.8 -1.3 1.4 0.7 0.6 2zM439.2 338.6l-1.3 0.7 -1.2 -1 0.1 -1.7zM450.1 329l-1.7 -0.6 0.6 -1.7 2.3 -1.2zM474.7 336.8l-2 1.3 -1.9 -1.4 0.1 -2.7zM494.8 349.1l-0.7 -1.2 1.1 -0.8 1.8 0.4zM492.6 332.4l0.1 -2.5 2.4 -0.7 2.3 1.8zM489.7 319.2l-1.6 -1.1 0.8 -1.7 2.3 -0.7zM484.8 331l-1.1 -1 0.6 -1.4 1.8 -0.4zM481.2 349.7l-2.5 -0.1 -0.8 -2.3 1.7 -2.2zM469.9 335.8l-1.8 -2 0.9 -2.6 2.7 -0.6zM470.7 342.4l-1.9 0.7 -1 -1.8 0.9 -2.5zM466.4 338.8l-0.7 -1.2 0.9 -1.1 1.6 0.1zM450.4 338.3l2.1 -1.2 2.1 1 0.1 2.2zM484.3 328.1l-1.5 -2.1 0.7 -2.4 2.1 -0.4zM444.2 336.4l0.1 -2.6 2.1 -1.6 2 1zM485.8 332.4l0.9 -2.3 2.5 -0.4 1.5 1.9zM489.4 332.1l-1.3 -0.8 0.7 -1.4 2 -0.6zM471.8 347.9l1.8 -1.7 2.2 1.2 0.3 2.8zM445.3 330l0.2 -2.1 2.1 -0.4 1.9 1.7zM498.6 331.4l-2.4 0.9 -1.9 -1.7 0.5 -2.6zM484.8 333.1l-1.7 -1.5 0.8 -2.1 2.5 -0.7zM470.2 327.3l1.1 -2.5 2.7 -0.5 1.6 2zM499.2 328.1l-1.5 -0.7 0.6 -1.6 2.2 -0.8zM470.2 348.4l1.8 -2.1 2.7 0.7 0.8 2.7zM512.3 333.2l1.5 -1 1.6 0.8 0.1 1.8zM474.3 334.7l-0.6 -2.6 2 -1.8 2.5 0.8zM509.7 338.9l-1.7 -2.1 1.2 -2.4 2.9 -0.4zM505.3 326.5l0.8 -2.3 2.4 -0.4 1.6 1.9zM507.7 338.3l-1.3 -0.6 0.3 -1.4 1.6 -0.8zM483.8 348.9l-0.4 -1.8 1.3 -1.3 1.7 0.5zM512 341.3l-1.1 -1.5 1.2 -1.4 2.2 0.1zM447.8 333.9l1 -1 1.2 0.8 0.1 1.8zM508.1 329l0 -1.6 1.5 -0.5 1.5 1.1zM601.1 414.7l1.6 -2.3 2.8 0.3 1.1 2.6zM575.6 426l-2 -0.2 -0.3 -2 1.7 -1.8zM628.7 431.5l1 -1.2 1.3 0.9 0.3 2.1zM613 431l-1.4 -2.8 1.6 -2.7 2.9 0.1zM610.6 430.3l-1.1 -1.3 1.1 -1.3 2.2 0zM625 426.6l-2.7 0.7 -2.4 -1.5 0.3 -2.2zM669 420.2l-1.9 1.4 -1.9 -1.4 0 -2.7zM639.6 437.1l-1.3 -1.1 0.6 -1.6 1.9 -0.5zM618 433.3l0.4 -2.4 2.2 -1 1.8 1.4zM586.9 427.5l0.4 -2.6 1.9 -1.7 1.5 0.8zM600.1 430.1l-1.9 0.6 -1.5 -1.3 0.4 -2zM574.2 425.2l0.8 -1.5 1.7 0.1 0.9 1.6zM576.9 426l-2.2 -1.8 -0.5 -2.8 1.7 -1zM635.8 414.8l2.2 -1.4 2.5 0.5 0.3 1.9zM607.7 420.9l-2 -1.3 -0.2 -2.4 1.9 -1.1zM662.6 421.9l-3.3 -0.7 -1.7 -2.9 1.5 -2.2zM579.6 431l-1.3 -1.8 0.4 -2.2 1.7 -0.4zM640.4 422l-2.5 -0.1 -1.5 -2 1 -1.9zM630.6 423.1l0.8 -2 2.1 0.5 1.3 2.5zM626.9 419.4l-1.5 -1.4 0 -2 1.5 -0.7zM602.6 431.2l0.1 -1.5 1.5 -0.1 1.5 1.4zM605.7 436.9l-2.2 -2.1 0.3 -3.1 2.6 -0.9zM602.7 427.8l1.4 -1.5 1.8 1 0.4 2.5zM615.4 423.8l0.6 -1.9 1.9 0.4 1.4 2.3zM657.7 432.3l-0.5 -1.4 1.3 -0.8 1.9 0.7zM594.3 423.2l-3.2 -0.3 -2.2 -2.4 1 -2.1zM650.6 433.4l0.3 -1.9 1.7 -0.8 1.4 1.1zM600.6 426.6l-1.7 1.3 -1.4 -1.6 0.3 -3zM598.4 424l-2.6 0.6 -1.5 -2.2 1.1 -2.8zM660 425.1l-2.5 -0.3 -0.7 -2.4 1.8 -2.1zM594 423.3l1.3 -2.5 2.7 -0.8 1.4 1.7zM645.6 418.4l-0.4 -2.7 1.8 -2 2.2 0.7zM589.4 433.8l1.1 -2.4 2.4 -1.2 1.3 1.2zM674.6 426.7l1.8 -1.4 2.2 0.8 0.3 2.2zM583.1 426.3l-2.9 -0.4 -1.6 -2.5 1.3 -2zM622 429.1l1.7 -2.7 3.2 -0.6 1.5 2.2zM619.8 434.7l-0.9 -1.3 0.8 -1.4 1.7 -0.1zM633.3 419.6l-1.1 -2.7 1.4 -2.6 2.5 0.1zM579.8 432l0.9 -2.6 2.7 -0.5 1.8 2.1zM617 429l-1.7 1.1 -1.6 -1.2 0.1 -2.3zM651.7 430.7l-1.6 1.1 -1.5 -1.2 0 -2.3zM636.2 424.6l-1.9 -1.2 0.2 -2.2 2 -1zM631.4 429l-0.9 -1.1 1 -1.1 1.9 0zM578.2 431.6l-0.5 -2 1.7 -1.2 2.2 0.8zM617.4 417.2l-2.8 -1.6 -0.7 -3.1 2.1 -1.5zM634.3 418l0.5 -1.5 1.6 0.2 1.1 1.8zM668.4 422l-2.3 0 -1.4 -1.9 0.9 -1.9zM595.1 425.5l-1.7 -2.1 0.1 -2.7 1.8 -0.6zM577.5 423.7l-2.4 0.9 -1.9 -1.7 0.5 -2.6zM640.1 418.6l-2.9 -0.5 -2.1 -2.1 0.8 -1.5zM584.5 419.5l-2.6 0.9 -2.6 -0.9 0 -1.8zM629.9 414.6l1 -1.5 1.8 -0.1 0.8 1.4zM599.2 429.5l-2.2 0.2 -0.9 -2 1.3 -2.2zM625.7 422.7l2.3 -1.2 2.5 0.9 0.1 2zM666 430.9l-1.7 -0.5 -0.5 -1.7 1.2 -1.2zM629.8 432.6l0 -3 1.9 -2.4 1.9 0.6zM628.4 418.7l0.8 -1.6 1.8 -0.2 1 1.5zM650.1 426.2l1.8 -1.5 2.2 0.7 0.5 2.2zM634.8 423.1l-2.3 -0.7 -1 -2.2 1.3 -1.5zM619.8 421.3l-1.9 -2.4 1 -2.9 2.9 -0.5zM793.7 422l0.3 -2.4 2.1 -1 1.8 1.3zM753 417l-0.6 -2 1.9 -0.9 2.4 1.1zM744.9 417.9l-3.4 0.4 -3 -1.7 0.4 -2.1zM755 409.6l1.4 -1.4 1.7 1 0.3 2.4zM756.5 418l-2.1 -1.5 0.2 -2.6 2.4 -1.1zM663.2 421.1l0.6 -2.2 1.9 -1.1 1.4 1zM753.5 429.1l0.5 -1.5 1.5 0 1 1.4zM683.9 424.6l-3.2 -1.4 -1.1 -3.3 2.1 -2zM708.6 430.2l-2.2 -1.3 0.6 -2.4 2.7 -1.2zM714.5 418.3l0 -2.2 1.7 -1.4 1.6 0.8zM776.2 436.7l-1.8 -2.9 0.7 -3.4 2.5 -0.4zM664 423.9l1.8 -1.6 2.4 0.4 0.6 2.1zM727.2 420.1l-1.9 -0.2 0 -1.9 1.9 -1.7zM731.4 428.6l-3.6 0.5 -2.8 -2.3 0.8 -2.8zM748.5 411.4l-1.7 -0.5 0.4 -1.7 2 -1.2zM725.8 431.6l-1.7 -0.4 -0.5 -1.7 1.2 -1.2zM713.2 429.8l0.8 -1.9 1.9 0.8 1.1 2.7zM712.3 424.3l1.5 -1.5 2.1 0 0.6 1.5zM771.1 428.1l1.4 -1.1 1.4 1 0.1 2zM676.7 433.9l0.2 -2.3 1.9 -1.3 1.7 1zM677.7 430.1l-3.1 -1.1 -1.4 -3 1.7 -1.9zM674.5 416l-1 -1.3 1.2 -1 2.2 0.2zM724.6 426.6l-2 -0.5 0 -2 2 -1.6zM703 412.7l1 -1.7 1.9 -0.3 1 1.4zM737 418.1l-2 -1.1 0.6 -2.2 2.7 -1.1zM791.8 417.8l-0.1 -2.1 1.8 -1 2 1.1zM712.4 424.4l-0.5 -2.2 1.8 -1.4 2.4 0.9zM738.3 430.7l-1.1 -3.2 1.3 -3.1 2.4 0.1zM707.9 423.3l-2.2 -0.4 -1.1 -2 1.1 -1.6zM759.6 418l-3.2 -1.6 -1.2 -3.4 2 -1.8zM784 434.1l-1 -2.5 1.8 -2.1 2.7 0.5zM698 411.8l0.9 -2.1 2.2 -0.7 1.3 1.4zM774.2 413.9l-3.1 0.8 -2.5 -2 0.6 -2.9zM763 423.4l1.2 -1.4 1.8 0.5 0.6 1.9zM737.4 432.4l-0.3 -2.3 2 -1.2 2.2 1.1zM679.8 435.8l1.8 -2.9 3.2 -1.3 1.4 1.6zM766.2 428.4l-1.7 0.7 -1.4 -1.2 0.3 -1.8zM766.2 421.7l2.6 -2.3 3.4 0.6 0.8 2.9zM681 413.6l-1.6 -1.7 0.3 -2.3 1.9 -0.6zM737.1 429.5l-1.4 -2.1 1.5 -2.1 2.9 0.1zM772.9 417.5l-1.4 -1.9 0.5 -2.3 1.9 -0.4zM774.1 414.8l0.3 -1.7 1.7 -0.4 1.3 1.3zM714.9 415.1l0.3 -1.4 1.5 -0.2 1.1 1.2zM783.9 417l-3 0.3 -2.2 -2 0.8 -2.3zM753.8 414.1l-3.4 -0.9 -1.7 -3.1 1.7 -2.2zM715.7 413.5l0 -2.8 2.4 -1.3 2.4 1.4zM720.8 433.9l-2.9 -0.8 -1.1 -2.8 1.8 -2zM696.4 429.8l-1.7 0.6 -1.5 -1 0.2 -1.6zM739.6 439l-2 -2.3 0.3 -3 2.3 -0.7zM739.4 409.4l-2.7 -1.3 -1.4 -2.6 1.2 -1.3zM777.7 414.9l-2.7 -0.9 -1.5 -2.4 1.1 -1.5zM667 424.3l0.9 -1.8 2.1 0 1.1 1.8zM715.5 409.3l-2 -2.3 0.4 -3 2.4 -0.7zM718.2 437.7l-0.9 -1.8 1 -1.8 1.9 0zM770.4 429.3l-1.7 0.1 -0.5 -1.6 1.1 -1.6zM785.6 423.3l-0.1 -3 2.5 -1.6 2.5 1.4zM719.5 417.8l-2.1 -0.3 -0.8 -2 1.3 -1.7zM739.6 423.8l-2.6 -0.7 -1.4 -2.3 1.2 -1.6zM663.3 426.2l-1.4 -0.5 0 -1.5 1.3 -0.9zM782.8 412.5l0.1 -1.8 1.7 -0.4 1.6 1.4zM791.4 416.5l0.2 -3 2.6 -1.6 2.4 1.4zM665.6 429.4l1 -2.4 2.6 -0.2 1.5 2.2zM762.2 417.2l0.9 -2.4 2.5 0 1.6 2.4zM775.2 415.3l-0.2 -2.3 1.9 -1.4 2 0.9zM696.8 434.4l1.1 -1.3 1.7 0.3 0.5 1.6zM769.9 429.7l-1.9 -0.7 0.6 -2 2.5 -1.2zM737.1 418.7l-3.5 -0.1 -2.2 -2.7 1.3 -2.7zM791 424.2l-2.7 -0.1 -1.9 -1.9 0.8 -1.8zM697.2 429.7l-1.4 -1 0.8 -1.5 2.1 -0.5zM660.6 429l1.4 -3.1 3.2 -1 1.9 2.1zM739.6 432.7l-1.2 -1.9 0.7 -2.2 2 -0.2zM775.3 433.4l-0.9 -1.2 0.7 -1.3 1.6 -0.1zM690.1 428.7l-2.3 -2.1 -0.6 -3.1 1.7 -0.9zM774.4 434.8l2.4 -1.6 2.9 0 0.5 1.6zM675.7 414.7l-2.9 0.6 -2.7 -1.1 0.1 -1.7zM710.6 417.9l-2.1 -1.4 -0.3 -2.5 1.8 -1.1zM793.5 427.1l0.1 -1.8 1.7 -0.7 1.6 1.2zM707.2 411.6l-0.6 -2.6 1.9 -2 2.5 0.7zM684.3 427.5l-0.5 -3.4 2 -2.8 2.5 0.6zM685.8 424.1l-2.9 -1.2 -0.8 -3.1 2.1 -1.8zM710.3 431.6l-2.4 0.3 -1.3 -2 1.1 -2.3zM719.6 430.3l0.5 -2.8 2.6 -1.1 2.1 1.6zM747.7 410.6l-2.6 -1.4 -1.2 -2.7 1.4 -1.3zM758.7 435.4l-1 -1.4 1.1 -1.3 2.1 0.1zM663 422.1l1.5 -1.5 2.1 0.4 0.6 2zM715.5 429.7l-2.2 -0.7 -1.1 -2 1.1 -1.3zM771.5 421.3l-3.4 -0.7 -2 -2.8 1.4 -2.1zM697 416.4l-0.3 -2.4 1.7 -1.7 2 0.7zM718.8 435.9l-0.9 -3 1.7 -2.7 2.5 0.4zM762.7 437.1l-2.3 0.2 -1.5 -1.8 0.9 -2.1zM727.1 415.9l0.2 -1.6 1.6 -0.4 1.4 1.3zM765.4 417.5l-3.3 -0.4 -1.9 -2.7 1.3 -2.2zM668.2 427.5l-1.7 -0.4 0.1 -1.8 1.9 -1.4zM683.9 434.8l-2.3 0.5 -1.2 -2 1.1 -2.6zM716.7 429.7l-1.5 -0.6 -0.1 -1.6 1.4 -1zM751.6 420.8l-2.4 -1.5 0.1 -2.8 2.5 -1.3zM672.3 426.7l-1.1 -1.1 0.8 -1.3 1.9 -0.2zM682.7 432.7l-1.9 0.9 -1.7 -1.2 0.2 -2.1zM702.4 436.1l-2.1 -2.8 0.3 -3.4 2.3 -0.7zM680.4 435.2l-1.5 -2.3 1.5 -2.3 3 0zM705.3 425.5l1.1 -3.5 3.3 -1.5 2.2 2zM682.1 429.7l0.4 -2 1.9 -0.6 1.5 1.4zM752.2 414.5l-0.6 -1.3 1 -1 1.7 0.3zM760.2 425l-2.5 -0.3 -1.4 -2 1.1 -1.8zM771.1 415.3l-1 -1.4 0.8 -1.5 1.8 -0.1zM697.5 428.2l-1.3 -2.7 0.5 -3 1.9 -0.3zM718.7 427.3l1 -2.5 2.6 -0.7 1.6 1.8zM781.5 413.1l-2 -1.6 -0.2 -2.6 1.8 -1zM688.7 415.9l-0.9 -1.7 1.2 -1.5 2.1 0.2zM712.6 436.4l-0.4 -1.9 1.2 -1.6 1.6 0.3zM729.7 437.8l0.4 -1.7 1.7 0.1 1.4 1.8zM732.4 420.5l-1.7 0.1 -0.6 -1.6 1.1 -1.8zM763.8 417.3l-0.8 -3 0.9 -3 1.7 0zM752.7 416.7l-3.3 -0.1 -2.6 -2.1 0.8 -2zM725.8 409.8l-2.2 -1.4 -0.8 -2.5 1.4 -1.1zM698.2 423.1l-2 0 -0.6 -1.9 1.4 -1.9zM766.9 419.8l-3 -1.4 -1.8 -2.8 1.2 -1.4zM724 428.2l0.5 -2.4 2.2 -1.1 1.7 1.3zM732.6 437.7l-1.2 -1.8 1.3 -1.7 2.5 0.1zM725.7 423.3l0.5 -2.7 2.6 -0.9 2.1 1.8zM895.5 385.2l-1.5 -2.1 1 -2.4 2.5 -0.3zM860 413.3l-0.3 -1.3 1.3 -0.4 1.5 0.9zM974.9 401.9l-2.9 0.2 -2.4 -1.7 0.5 -1.8zM803.3 395.5l-2.5 -1.4 -0.7 -2.8 1.8 -1.4zM950.8 397.3l-1.6 -0.1 -0.4 -1.6 1.2 -1.5zM872.7 419.1l-1.9 -1.8 0.6 -2.5 2.5 -0.8zM945.9 415.8l-1.6 -0.1 -0.3 -1.6 1.4 -1.5zM824.2 430.7l-1.6 -1.6 1.3 -1.9 2.8 -0.2zM856.4 397.2l-2.6 0.9 -1.9 -2 0.7 -2.9zM932.3 405l1 -1.3 1.5 0.7 0.5 2zM812.6 413.8l0.7 -2.2 2.3 -0.5 1.6 1.8zM873.9 393.9l2.2 -1 2.3 0.9 0 1.9zM915.3 390.8l-0.4 -2.7 2.1 -1.7 2.5 1zM931.4 395.1l-0.6 -2.4 1.7 -1.8 2.3 0.6zM819.3 420.5l0.2 -1.5 1.5 -0.3 1.3 1.2zM902.5 400.8l-2 -0.8 0.6 -2 2.5 -1.2zM907.5 435.9l-0.3 -2.6 1.8 -1.9 2.1 0.7zM855.1 429.6l-2.6 1.1 -2.1 -1.8 0.5 -2.9zM930.7 398.4l1.3 -2.2 2.6 -0.3 1.3 2zM898.7 431.4l-2.6 -1.1 -1.6 -2.4 1.1 -1.3zM903.7 403.6l1.8 -1.3 1.9 1.2 0 2.5zM842.4 432.2l0.5 -1.8 1.9 -0.1 1.4 1.7zM911.2 429.3l1.5 -2.4 2.7 -0.5 1.3 1.9zM928.4 427.2l-1.9 -1.6 0.4 -2.5 2.3 -0.9zM945.5 402.8l-2.7 -1.6 -0.2 -3.1 2.5 -1.5zM850.3 431.8l-3 -0.3 -1.7 -2.4 1.2 -2.1zM858 408l-1.5 -0.5 0 -1.6 1.5 -1.1zM885.9 423.4l-0.7 -1.9 1.2 -1.6 1.9 0.3zM795.7 400.9l-2.2 -1.2 -0.9 -2.3 1.2 -1.1zM825.8 409.3l-0.6 -1.2 1 -1 1.6 0.2zM847 400.1l-2.1 -1.3 -0.3 -2.5 1.9 -1.2zM865.1 425.4l-2.5 -1.2 -0.9 -2.6 1.6 -1.4zM912.9 414.9l0.7 -2.4 2.5 -0.3 1.8 2.1zM900.4 417.4l-1.5 -0.7 0.5 -1.6 1.9 -0.9zM824 428.4l-1.7 -0.9 0.8 -1.7 2.4 -0.8zM864.5 395.1l0.2 -2.1 2.1 0 1.9 2.1zM866.9 398.9l0.7 -1.6 1.8 0 1.1 1.7zM835.3 424.2l-0.4 -1.5 1.2 -0.9 1.6 0.6zM862.3 394.1l-2.3 -0.4 -1.2 -2 1.1 -1.6zM917.4 429.4l0 -2.7 2.3 -1.4 2.3 1.3zM817.3 410.1l1.3 -1.1 1.3 1.1 0 2.2zM894.2 431.7l-2.2 -1 -0.7 -2.3 1.5 -1.3zM866.5 425.7l-0.5 -1.4 1.4 -0.7 1.8 0.7zM911.7 423.8l-1.5 -0.6 0.1 -1.6 1.5 -1zM841.3 390.3l-0.5 -2.4 2 -1.3 2.5 1.1zM996.3 406.7l-2.6 -0.6 -0.9 -2.5 1.7 -1.9zM868.9 389.8l-2.7 -0.4 -1.5 -2.3 1.2 -1.8zM927 398.6l-1.2 -1.1 0.8 -1.5 2 -0.3zM941.1 427l-0.9 -2.9 2 -2.3 2.9 0.6zM925.4 398.7l-2.6 -1.6 -0.2 -3 2.4 -1.4zM922.8 395.1l0.4 -2.2 2 -1 1.6 1.2zM802 423.2l-1.4 0.6 -0.6 -1.4 0.8 -2zM931.9 397.9l1.4 -2.7 3 -0.3 1.7 2.4zM917.4 389.2l2 -2.1 2.9 0.4 0.8 2.4zM954.3 407.3l1.3 -2.6 2.9 -0.2 1.6 2.3zM970.2 427.4l-1.6 0.7 -1.2 -1.3 0.4 -2zM878.2 431.1l-1.2 1 -1.2 -1 0 -2zM873.9 402.5l-2.4 0.3 -1.5 -1.9 0.9 -2.2zM811.6 406.3l0.8 -2.1 2.2 0.3 1.4 2.4zM939.4 414.3l-2.3 -1.9 -0.6 -2.9 1.8 -1.1zM910.2 386.8l-1.5 -0.6 0.3 -1.6 1.8 -0.9zM813.3 418.1l-0.9 -1.4 1.3 -1.1 2.2 0.4zM851.2 389.8l1.2 -1.8 2.1 -0.3 1 1.5zM895.3 427.7l-0.3 -1.7 1.7 -0.4 2 1.3zM915.1 440.9l-1.7 -1.6 0 -2.3 1.7 -0.7zM792.1 401.7l-2 -1.8 -0.5 -2.7 1.6 -0.9zM949.3 420.2l-2.5 -0.9 -0.5 -2.6 2 -1.7zM938.1 392.3l-2.6 -1.3 -0.1 -2.9 2.5 -1.6zM941.1 429.8l0.6 -1.8 1.9 -0.2 1.2 1.6zM949.3 430.8l2 -1.5 2.3 1 0.3 2.5zM828.3 388.9l1.3 -1.6 2.1 0 0.8 1.7zM782 410.1l-1.8 -1.5 -0.1 -2.4 1.7 -0.8zM824.5 395.9l-2 -0.7 0.5 -2 2.5 -1.3zM841.3 410.7l-1.7 0.7 -1.5 -1.1 0.3 -1.8zM920.9 432.3l-2.5 -1.5 0.1 -2.9 2.6 -1.4zM857.5 427.1l-1.2 -2.3 0.9 -2.4 2.1 -0.1zM956.2 398.3l-1.6 -0.1 -0.6 -1.5 1.1 -1.5zM913 419l-0.2 -2 2 -0.4 2.2 1.6zM860.7 398.7l1 -2.3 2.5 -0.4 1.4 1.9zM836.4 419.1l-1.9 -0.8 -0.3 -2 1.6 -1.2zM976.5 408.3l0.8 -2.4 2.5 -0.5 1.7 2zM874.6 414.1l-1.5 -1.6 0.8 -2 2.3 -0.4zM963.4 416.7l-1.6 0.1 -0.4 -1.6 1.2 -1.7zM889.6 415.2l0.5 -2 2 0.5 1.5 2.5zM842.3 406l0.7 -2.5 2.4 -0.9 1.7 1.6zM946.6 408.5l-1.1 -1.6 1.4 -1.3 2.5 0.2zM814.7 400.5l-0.1 -1.3 1.3 -0.2 1.5 1.1zM903.5 432.9l-1.9 -1.2 -0.5 -2.2 1.4 -1zM909.7 417.1l-1 -1.9 1.6 -1.5 2.6 0.5zM843.3 407.9l1.1 -1.8 1.8 1.1 0.7 2.8zM921.3 416l-1.2 -2.1 1.5 -1.9 2.7 0.2zM925.9 412.8l-2.2 0.9 -1.7 -1.7 0.6 -2.6zM890 440.7l0.6 -2.4 2.1 -1.4 1.5 1zM884.4 412.4l-2.4 0.7 -1.9 -1.6 0.4 -2.3zM920.4 393.1l-2.3 -0.2 -0.7 -2.2 1.6 -1.9zM981 408.5l1.3 -1.9 2.2 0.3 0.9 2.2zM896.1 396.2l-2.5 -1.5 -0.2 -2.9 2.3 -1.4zM908.9 393.7l-2.8 0.4 -2.5 -1.3 0.3 -1.7zM866 404.4l-2 0.8 -2 -0.9 0.1 -1.7zM841.2 405.3l-1.9 0.7 -1.6 -1.2 0.3 -1.9zM886.3 404.7l0.8 -2.5 2.2 -1.5 1.3 1zM988.1 410.4l-1.4 -1.8 0.5 -2.3 1.9 -0.4zM908.9 425l-0.7 -1.3 1.3 -0.8 2 0.5zM894.1 420.6l-1.7 0.7 -1 -1.6 0.7 -2.2zM898 403.2l-2.1 0.2 -1.2 -1.7 0.9 -2zM871.1 397l-1.5 -0.9 0.9 -1.5 2.3 -0.6zM977 394.9l-2.3 -1.1 -0.1 -2.5 2.2 -1.4zM971 394.4l0.9 -0.9 1.1 0.7 0.2 1.6zM914.1 394.1l-0.6 -2.4 1.1 -2.2 1.7 0.2zM935.2 398.6l-2.1 -1.1 -0.2 -2.4 1.9 -1.3zM1032.5 321.5l0.2 -1.4 1.4 0.2 1.2 1.6zM1023.8 344.7l0.4 -2 2 0.1 1.6 2.1zM1035.7 314.7l0.6 -1.8 1.8 0.5 1.2 2.2zM1036.9 333.4l-1.4 -1.6 1 -1.9 2.4 -0.3zM1035.5 319l-2 -0.5 -0.7 -1.9 1.3 -1.4zM1022.5 324l-1.5 -0.8 0.1 -1.7 1.6 -0.9zM1032.3 314.3l0.7 -2 2.1 -0.3 1.4 1.7zM1020.4 326.6l-1.8 -0.8 0.1 -2 1.9 -1.2zM1021.1 310.6l1.3 -1.4 1.7 0.9 0.4 2.3zM1059.7 308l-1.2 0.5 -0.7 -1.2 0.6 -1.6zM1020.2 325.6l-2.4 0.6 -2 -1.5 0.4 -2zM1083.9 323.9l-2.1 -0.1 -1.2 -1.7 0.9 -1.7zM1067.5 352.7l-0.2 -2.3 1.9 -1.3 2.1 1zM1076 325.3l-2.3 -0.7 -0.4 -2.4 1.9 -1.7zM1081.1 341.5l0.2 -2.3 1.8 -1.4 1.7 0.9zM1028.7 345.3l1.1 -1 1.3 0.7 0.2 1.7zM1064.9 322.1l-1.9 -0.1 -1.1 -1.6 0.8 -1.5zM1027.6 346.7l-2.4 -0.4 -0.2 -2.4 2.2 -2zM1045.4 350.1l-0.5 -2.4 1.5 -1.9 2 0.5zM1053 310.3l0.9 -1.6 1.9 0.2 0.9 1.8zM1084.7 346.1l-1.4 -1.5 1.4 -1.5 2.8 0zM1076.7 330.5l0.8 -2.2 2.3 0 1.5 2.2zM1031.7 310.7l-2.8 -0.1 -1.1 -2.5 1.6 -2.4zM1069.1 350.3l-2 -1.8 -0.2 -2.7 1.8 -0.9zM1068.8 342.7l-1.3 -1.1 0.8 -1.5 2.1 -0.5zM1075.5 327.2l-0.3 -1.8 1.7 -0.5 2 1.3zM1029.5 347.1l-1.6 0.3 -1 -1.3 0.6 -1.6zM1061.5 349.1l-1.2 -1.3 0.9 -1.5 2.1 -0.2zM1007.4 334.1l0.6 -1.2 1.2 0.5 0.6 1.7zM1046 317.8l0.4 -2 2 -0.4 1.6 1.5zM1030.8 348.7l-1 -1.5 1 -1.6 2 0zM1066.8 321.5l-1.6 -1.7 0.6 -2.3 2.1 -0.5zM1070.8 317.8l-2.4 -0.1 -0.3 -2.3 2 -2.2zM1039.6 353.8l1.2 -2.1 2.3 0.7 1.1 2.8zM1018.7 327.3l2.1 -1.4 2.3 1.1 0.2 2.4zM1058.1 314.3l2.1 -1.5 2.5 0.3 0.5 1.8zM1087.1 318.6l1.9 -1.2 2.2 0.6 0.3 1.8zM1066.6 310.4l0.2 -2.3 2.3 -0.2 2 2zM1048.2 346.3l-1.4 -0.4 -0.1 -1.5 1.3 -1zM1039.4 348.2l0.9 -1.3 1.5 0.2 0.7 1.5zM1032.8 327l1 -1 1.1 0.9 0.1 1.9zM1019.5 340.4l-0.6 -1.8 1.7 -0.7 2.3 1zM1066.9 326.5l-1.6 1 -1.2 -1.5 0.4 -2.5zM1059.1 340.2l0.1 -1.6 1.5 -0.4 1.4 1.1zM1062.8 353.8l-1.9 -1.6 -0.1 -2.5 1.8 -0.9zM1036.7 309.8l-2.1 0.7 -1.4 -1.7 0.6 -2.4zM1018.6 341.7l-1.6 -0.8 0.7 -1.7 2.2 -0.8zM1010.8 331.1l-0.6 -1.3 1.1 -1 1.7 0.3zM1053.5 338.9l0 -1.3 1.3 -0.2 1.3 1.1zM1063.1 341.5l0.3 -1.8 1.9 0 1.5 1.8zM1077.3 408.5l0.7 -2.1 2.2 0.2 1.5 2.4zM1088.5 405.8l-1.6 0.8 -1.3 -1.1 0.2 -1.9zM1092.5 418.6l-3 1 -2.6 -1.8 0.4 -2.8zM1079.5 404.5l-2.3 -0.8 0.1 -2.5 2.4 -1.6zM1082.7 410.2l-1.6 -2.2 1.3 -2.4 2.9 -0.2zM1087 379.8l1.9 -2.5 3 -1 1.1 1.6zM1088.4 396.3l-2.9 0.6 -2.5 -1.6 0.4 -2.2zM1072 399l-2.1 -1.6 -0.5 -2.6 1.6 -1zM1077.9 389.3l-1.7 -1.5 0.8 -2.1 2.4 -0.6zM1088.7 412.5l-0.1 -2.8 2.2 -1.7 2.2 1zM1086.1 415.1l0.5 -1.5 1.6 0.2 1.1 1.7zM1078.5 411.1l-2.7 -1.3 -0.8 -2.9 1.9 -1.6zM1087.8 391.7l-2.9 0.8 -2.9 -1.1 0.1 -1.8zM1074.7 408l0.1 -1.4 1.4 -0.4 1.3 1.1zM1088.5 425.6l-2.4 0 -0.9 -2.2 1.5 -2.2zM1094.1 416.5l-1.6 0.2 -0.6 -1.5 1 -1.7zM1078 415.2l-0.7 -3.1 1.3 -2.9 2 0.2zM1085.2 416.4l-2.2 -1.4 0.1 -2.6 2.3 -1.2zM1088.8 414.2l-0.3 -2 2 -0.5 2.3 1.6zM1094.3 387l-1.6 -2.5 0.6 -2.9 2.2 -0.4zM1072.8 417.1l0.4 -3.1 2 -2.4 1.6 0.7zM1076.9 405.5l-0.5 -2.9 1.8 -2.4 2.3 0.6zM1088.2 392.1l-1.5 0.7 -1.4 -0.9 0.1 -1.7zM1078 420l-2.4 0.6 -1.9 -1.6 0.5 -2.2zM1073.9 412.5l-3.1 -0.8 -1.8 -2.6 1.2 -1.8zM1093.5 417.2l1 -3 3 -1 2.1 2.1zM1098.9 389.3l-2 -1 -0.6 -2.2 1.4 -1.2zM1082.7 386.7l1.8 -1.9 2.5 0.6 0.7 2.5zM1089.7 423.9l-2.9 -0.9 -1.8 -2.4 1.1 -1.6zM1074.1 396.9l-0.1 -1.7 1.7 -0.3 1.8 1.4zM1088.2 419.6l-1 -1.5 1.5 -1.1 2.5 0.4zM1082.4 417.9l-1.8 -0.9 0.3 -2 2.2 -1.1zM1087.6 419.6l-2.8 -0.3 -1.9 -2 0.8 -1.7zM1076.2 416.2l2.3 -1.9 2.9 -0.4 0.7 1.5zM1090.2 416.7l-3.1 0 -2.1 -2.2 1 -2.2zM689.1 318.9l-1.3 0.5 -0.8 -1.2 0.5 -1.7zM649.3 316.7l-0.2 -1.9 1.8 -0.5 2 1.4zM678.5 315.6l0.5 -1.3 1.3 0.5 0.8 1.8zM674.5 316.5l-0.6 -1.3 1.3 -0.6 1.9 0.7zM688.2 319.7l-2 -0.7 -0.6 -2 1.4 -1.3zM633.5 329.2l-0.3 -1.7 1.6 -0.7 1.9 1zM650 334l-1.9 -1 0.7 -2 2.6 -1zM697.3 319.9l-1.7 -1 0.8 -1.8 2.6 -0.8zM674.5 330.8l1.2 -1.5 1.9 0.4 0.7 1.9zM621.2 333.7l-0.3 -2.4 2.1 -1 2.5 1.3zM641.2 306.2l-1 -1 0.7 -1.2 1.7 -0.2zM681.2 312.2l-1.8 0.5 -1.4 -1.3 0.4 -1.8zM635.7 315.9l0 -1.7 1.7 -0.2 1.7 1.5zM633 329.1l0.5 -1.5 1.6 0.4 1.1 1.9zM647.7 318.8l-1.3 -1 0.4 -1.6 1.8 -0.6zM689.7 307.8l-1.6 0.6 -1.1 -1.3 0.5 -1.9zM611.7 329.1l1.2 -1.9 2.3 -0.5 1 1.5zM670 306.5l-1.3 0.9 -1 -1.2 0.3 -2.2zM653.5 338l-2.3 -1 -0.2 -2.5 2.1 -1.5zM617.3 306.4l0.8 -1.9 2 -0.6 1.2 1.3zM673 311.7l-2.4 0.7 -2.1 -1.5 0.4 -2.2zM674.2 324.2l0.8 -1.8 1.9 -0.3 1.1 1.4zM623.4 335.6l1.3 -2 2.4 -0.2 1.1 1.9zM640.8 317.5l1 -2.4 2.5 -0.9 1.4 1.5zM614.4 316.6l-1.3 -1 0.5 -1.6 1.8 -0.6zM656.4 339.3l-2.3 -1.2 -0.9 -2.4 1.3 -1.2zM636.5 329.5l0.9 -1.2 1.2 0.9 0.3 2.1zM660.1 329.3l-1.1 -2.3 1.4 -2.1 2.5 0.2zM644 333.5l-1.6 -1.5 0.7 -2.1 2.3 -0.6zM655.2 312.5l0.7 -2 2.1 0.1 1.4 2.1zM695.5 319.5l-2.5 0 -1.4 -2 1 -2zM644 323.5l-0.8 -2.2 1.2 -2.1 2 0.2zM659.5 324.8l-1.9 0.7 -1 -1.8 1 -2.5zM653.7 340l-1.8 0.8 -1.6 -1.2 0.2 -2zM652.4 330.9l-0.8 -1.4 1.2 -1.2 2 0.3z"/>
<path fill="rgb(224,224,224)" d="M447.7 250l-0.1 -2 1.8 -0.8 1.9 1.1zM456.6 232.4l-1.6 -1.6 -0.1 -2.3 1.5 -0.7zM445.4 265.2l-1.5 -0.7 0 -1.7 1.6 -1zM459.3 238.4l1.3 -2.1 2.5 -0.2 1.2 2zM443.2 251.8l0.6 -2 2 -0.6 1.3 1.3zM456.4 267.1l1.9 -1.9 2.7 0.3 0.8 2.2zM454.4 236.8l0.9 -1.9 2.1 0.1 1.2 2zM466.8 238.5l-2.8 -1 -0.9 -2.9 2 -1.9zM451.8 243l-2.7 -1.6 -1.2 -2.9 1.4 -1.3zM447.2 263.1l-0.3 -2 1.4 -1.5 1.7 0.5zM457.9 260.4l-1.8 1.1 -1.6 -1.4 0.2 -2.5zM443.6 255.5l-1.3 -2 1.4 -2 2.7 0.1zM441.6 250.5l2.6 -1.4 2.8 0.9 0.2 2.3zM462.6 266.5l1.2 -2 2.2 -0.8 1 1.3zM460.1 271.3l-2.4 -0.3 -1.5 -1.9 0.9 -1.6zM449.5 268.3l-3.4 0.1 -2.2 -2.6 1.2 -2.6zM459.6 232.8l-2.7 -0.3 -2 -1.8 0.7 -1.6zM448.1 249.4l1.5 -2 2.5 0 1 2zM451.1 258.1l-0.6 -1.7 1.3 -1.2 1.8 0.5zM455.3 263.4l-2.2 -0.7 -0.9 -2.1 1.3 -1.4zM441.8 265.3l1.6 -1.4 2.1 0.2 0.6 1.6zM467.4 255.2l-1.3 -1.7 1.1 -1.8 2.4 -0.1zM465.8 239.8l-3.1 -0.9 -1.4 -2.9 1.7 -2zM460.9 245.4l2.8 -1.6 3 1.3 0.1 2.8zM452.5 247.8l-1.9 -0.6 -0.5 -1.9 1.4 -1.3zM579.5 183.5l-2.6 0.8 -2.5 -1.2 0.2 -2zM566.9 190.1l-1.3 -2.4 0.7 -2.6 2 -0.2zM553 185.9l1.6 -1.3 1.9 0.7 0.3 2zM597.3 198.9l-1 -1.8 1.1 -1.7 2.1 0.1zM557.4 194.2l-2.3 0.2 -1.8 -1.4 0.5 -1.6zM571.3 207.7l0.1 -1.5 1.4 -0.4 1.3 1.1zM564.9 192.7l1.4 -1.6 2.1 -0.1 0.7 1.5zM564.9 182.2l-2.3 1 -2.3 -1 0 -1.9zM555.6 194.6l-2.8 0.4 -1.9 -2.1 0.9 -2.5zM584.4 196.7l-1.7 -2.4 1.3 -2.6 2.9 -0.3zM566.9 178.7l-1.6 -0.3 0.2 -1.6 1.7 -1.3zM589.9 200.5l-3 -0.7 -1.2 -2.8 1.8 -2.1zM569 201.2l-0.3 -2.7 1.6 -2.1 1.9 0.6zM568.2 202.8l-1.8 -1.4 -0.1 -2.2 1.7 -0.9zM573.7 200.2l-2.9 0.5 -2.2 -2 0.7 -2.5zM594.8 185.5l2.4 -1.5 2.7 0.8 0.3 2.3zM579.5 180.4l-2.8 0.8 -2.2 -2 0.6 -2.7zM571.3 190.4l-2.2 -1.6 0.1 -2.7 2.3 -1.1zM589 185.4l-1.2 -2.2 0.8 -2.4 2 -0.2zM595.2 183.4l-0.2 -2.2 1.5 -1.7 1.7 0.5zM586.8 180.1l-2.4 -0.8 -1.1 -2.3 1.3 -1.5zM560.8 189.2l-2.2 -1 -0.8 -2.3 1.4 -1.3zM603.6 192.3l-2.7 -0.2 -1.1 -2.4 1.5 -2.2zM566.2 185.3l-1 -1.7 1.5 -1.4 2.5 0.4zM555.8 200.9l-1.2 -1 0.4 -1.5 1.6 -0.5zM573.3 193.6l-2.6 0.8 -2.3 -1.3 0.2 -2.2zM594.1 206.1l-0.3 -1.6 1.3 -1 1.6 0.6zM591.5 204.8l1.1 -1.6 1.9 0.4 0.8 2zM574.6 180.8l-2.2 -1 -0.2 -2.4 2.1 -1.5zM581.5 203.4l-1.6 0.2 -0.8 -1.4 0.8 -1.6zM582.9 207.9l-2.7 -0.7 -1.4 -2.5 1.4 -1.7zM582.4 181l-2 -1.3 -0.3 -2.4 1.7 -1.1zM580.8 195.5l-1.1 -1.2 0.5 -1.5 1.6 -0.3zM569.2 181.4l-0.9 -2.7 2 -2 2.9 0.7zM579.6 189.5l-2.7 0.4 -2.1 -1.6 0.5 -2.1zM565.4 198.1l-2.4 -1.2 -1 -2.5 1.5 -1.3zM604.5 191.7l-2.7 -0.9 -0.9 -2.7 1.8 -1.8zM578.7 199.3l0.7 -1.6 1.7 -0.3 1 1.3zM568.4 193.6l-0.8 -1.2 0.9 -1.1 1.7 0.1zM552.1 195l0.4 -2.8 2.6 -1.2 2.2 1.6zM637.8 210.8l-2.8 0.2 -1.7 -2.3 1.1 -2.4zM656.8 200.3l2 -1.9 2.8 0.1 0.8 2zM618.9 204l-1 -1.6 1.2 -1.4 2.1 0.1zM639.1 195.4l0.1 -3 2.3 -2 2.2 1zM636 194l-2.8 -0.1 -2 -2 0.8 -1.9zM630.8 191.6l-1.6 -0.1 -0.7 -1.5 0.9 -1.4zM643.2 206.6l-1.7 -0.1 -0.6 -1.5 1 -1.4zM635.5 190.1l-1.3 0.7 -0.9 -1.2 0.4 -1.8zM637 195.9l-2.4 -0.7 -0.1 -2.5 2.3 -1.8zM619.8 204.6l0.2 -2.3 2 -1.3 1.8 1.1zM634.6 206.8l1.3 -1.1 1.5 0.8 0.2 1.9zM633.4 215.3l0.8 -2.8 2.8 -0.9 1.9 1.9zM643.9 197l1.7 -1.7 2.4 0 0.7 1.7zM631.3 199.4l1.3 -2.2 2.5 -0.4 1.3 1.8zM650.2 209.6l-0.9 -2 1.4 -1.7 2.2 0.3zM642.1 196.3l-2.1 0.5 -1.9 -1.1 0.2 -1.6zM642.8 198.8l-1.7 0.5 -1.4 -1.2 0.4 -1.6zM637.4 217.8l0.3 -2.6 2.1 -1.5 1.8 1zM660.1 199l0.8 -2.6 2.2 -1.6 1.5 1zM625 191.6l-3 -0.5 -1.4 -2.7 1.6 -2.2zM656.4 210.1l-2.3 0.9 -1.5 -2 0.8 -2.9zM634.8 200.7l-1.8 0.9 -1.7 -1 0.1 -1.9zM657.6 190.8l-1.9 0.7 -1.1 -1.7 0.8 -2.4zM625 198.8l-2.7 0.6 -1.8 -2.1 0.9 -2.7zM655.5 212l-2.6 0.5 -2 -1.8 0.7 -2.3zM654.8 189.1l-1.8 0.6 -1.6 -1.1 0.3 -1.7zM629.5 193.5l-2 1 -1.7 -1.4 0.3 -2.4zM652.8 204.4l2.4 -1.5 2.8 0.2 0.4 1.7zM628.8 206.1l-2.7 -1.1 -0.7 -2.8 2 -1.7zM640.9 215.9l1.7 -1.4 1.8 1.3 0 2.7zM644.8 232.4l1.4 -1.3 1.6 1.1 0.1 2.4zM645.5 235l-1.5 0.9 -1.1 -1.3 0.4 -2.2zM660.4 232.5l-1.8 0.4 -1.3 -1.4 0.5 -1.8zM653.4 235.8l-0.6 -1.8 1.4 -1.3 2 0.5zM647 228.8l-2.2 -0.3 -1.1 -1.9 1.1 -1.7zM650.9 239.3l-1.9 -0.7 0.3 -2 2.2 -1.3zM651.1 223.6l-1.6 0.7 -0.8 -1.6 0.8 -2.3zM652.9 231.5l-0.4 -2.6 1.7 -2.1 2.1 0.6zM652.4 230.2l-1.3 -0.9 0.6 -1.5 1.8 -0.6zM653.2 232.9l-1.6 1.2 -1.4 -1.3 0.1 -2.5zM654.2 226.9l-1.5 -1.1 0.1 -1.9 1.6 -0.8zM646.7 226.6l0.5 -1.7 1.7 0.4 1.2 2.1zM739.4 372.7l-0.7 -1.3 1.1 -1 1.8 0.3zM736 385.1l-2.2 0 -0.4 -2.2 1.8 -2.2zM741.4 385.8l2 -1.9 2.7 0.3 0.7 2.2zM751.3 402.4l-2.5 -1 -0.2 -2.7 2.2 -1.7zM723.3 395.1l-0.8 -2.2 1.1 -2.1 1.9 0.1zM698.4 390.2l-1.6 -2.1 0.3 -2.6 1.9 -0.5zM752.1 385.6l-1.4 0.5 -0.8 -1.3 0.7 -1.8zM727.4 366.4l-1.2 -2.1 0.9 -2.2 2.2 -0.2zM729.3 371.2l0 -1.7 1.7 -0.2 1.6 1.5zM756.2 386.3l-1.5 -0.6 -0.2 -1.6 1.3 -1zM726.4 375.3l0.6 -2.1 2.1 -0.5 1.5 1.6zM736.3 386.2l-1.6 -0.2 0.1 -1.6 1.6 -1.4zM740.4 381.9l0.2 -1.3 1.3 -0.1 1.1 1.2zM731.1 406.8l-1 -0.9 0.7 -1.1 1.8 -0.3zM730.2 371l-0.1 -2.6 1.9 -1.8 2.1 0.8zM695.3 387.6l1.7 -1.6 2.1 0.9 0.5 2.5zM700.4 389l-1 -2.6 1.8 -2.1 2.8 0.5zM734.5 386.8l-0.3 -1.7 1.4 -1 1.7 0.7zM716 377.6l0.1 -1.8 1.8 0.1 1.7 1.9zM717.2 389.2l-2 -0.1 -0.1 -2 1.9 -1.9zM746.2 402.5l-1.8 -1 0.3 -2.1 2.1 -1zM723.3 395.2l-1.6 -1.5 0.8 -2 2.4 -0.5zM751.4 384.4l1.3 -1.6 1.8 1 0.5 2.6zM704.1 387.3l-2.4 0.1 -1.4 -1.9 0.9 -2zM705.6 376.9l0.5 -1.6 1.7 0 1.1 1.6zM745.5 380.1l-1.4 -0.1 -0.1 -1.4 1.3 -1.3zM719.2 382.6l1.5 -1.6 2.2 0.1 0.7 1.7zM711.7 370.1l-2.1 -0.6 -0.6 -2.1 1.5 -1.5zM705.3 385.1l1.5 -2.2 2.6 -0.4 1.2 1.8zM750.8 384.4l-2.1 0.2 -1.5 -1.5 0.6 -1.7zM737.1 389.1l-2.4 -1.3 -0.6 -2.7 1.8 -1.4zM705.9 376l-1.2 -1.9 0.9 -2 2.1 -0.1zM728 399.6l-2.2 0.6 -1.8 -1.4 0.4 -1.9zM702.9 394.8l-1.1 -1 0.8 -1.2 1.9 -0.2zM711.8 401.4l-2.1 -1 0.2 -2.4 2.3 -1.3zM728.1 381l-1.6 -0.2 -0.2 -1.6 1.4 -1.4zM718.4 387.6l-0.1 -1.9 1.7 -0.8 1.7 1zM720.5 369.5l-2.5 -0.5 -1.6 -2 0.9 -1.5zM725.5 374.7l-1.4 -2.2 0.3 -2.6 1.7 -0.4zM708.9 392.6l-2.2 0.9 -1.4 -1.9 0.8 -2.9zM733.8 369.8l0.6 -1.8 1.8 -0.4 1.2 1.3zM732.8 386.4l-0.1 -2.8 2.3 -1.5 2.5 1.3zM732.6 384l0.2 -1.8 1.7 -0.4 1.6 1.4zM721.7 395.8l-1.9 -1.7 0.3 -2.5 2.2 -0.8zM746.5 382.2l-2.4 0.1 -1.3 -2 1.1 -2.1zM719.5 383.5l-1.3 -0.4 0.4 -1.3 1.7 -1zM726.6 377.4l0.7 -1.9 2 -0.3 1.4 1.6zM702.7 397.2l-1.3 -1.2 1 -1.4 2.3 -0.2zM707.8 374.6l0.1 -1.8 1.8 -0.5 1.7 1.4zM703.2 388.6l-0.7 -2.3 1.3 -1.9 2 0.3zM727.4 364.2l1.3 -1.6 2.1 -0.2 0.8 1.5zM725.2 370.6l-0.9 -1.7 0.9 -1.7 1.8 0zM711.4 397.6l-1.1 -2.1 1 -2.1 2.1 0zM704.6 373.5l1.5 -1.6 2.1 0.7 0.5 2.3zM714.1 403.7l0.9 -2.1 2.3 0 1.4 2.2zM738.1 384.3l0.9 -1.7 1.7 0.8 0.8 2.5zM715.8 376.9l1 -1.6 1.6 0.8 0.6 2.4zM708.6 390.2l-1.4 0.2 -0.3 -1.4 1.1 -1.6zM695.7 391.3l0.5 -2.6 2.4 -1.1 1.8 1.5zM741.3 376l0 -2.4 2 -1.3 2 1.1zM752.3 378.9l-2.6 0.1 -1.6 -2 1 -2.1zM735.4 366.9l1.1 -1.8 2.1 0.2 1 2zM724.7 369.5l-2 -0.4 0.2 -2 2.3 -1.6zM712 403.8l-0.5 -2.1 1.8 -1.3 2.2 0.8zM730.5 366.9l0 -2.4 2.3 -0.9 2.2 1.5zM726.9 375.4l-1.9 0.4 -1.3 -1.5 0.6 -1.9zM710.9 393.8l1.4 -2 2.4 -0.1 1 1.9zM754.3 378.3l-1.5 -1 0.7 -1.7 2.2 -0.6zM727.7 387.4l-1.8 -0.1 0 -1.8 1.8 -1.7zM738.8 376.1l0.5 -2.2 2.1 -0.8 1.6 1.4z"/>
<path fill="rgb(235,235,235)" d="M1037.4 198.1l0.2 -2.1 1.8 -1.1 1.6 1zM960.8 237.8l-1.8 -1 0.6 -1.9 2.4 -1zM983.4 231l-0.4 -1.8 1.7 -0.6 2.2 1.2zM1022.9 253.5l-2.3 -0.9 -0.4 -2.4 2 -1.6zM952.6 251.2l-2.1 -0.6 -0.5 -2.1 1.6 -1.5zM1021 210l1.5 -1.5 2 0.5 0.5 2zM934.5 237.2l0.7 -2.3 2.4 -0.3 1.6 2zM1005.4 274.2l1.9 -1.4 2.3 0.3 0.4 1.6zM940.9 244.3l-1 -1.1 1 -1.2 2 -0.1zM1085.6 229l-0.4 -2 1.6 -1.4 2 0.7zM1024.5 250.3l-1.5 -1.9 1 -2.2 2.5 -0.3zM980.6 267.5l-1.8 1.1 -1.7 -1.2 0.1 -2.3zM1006.3 276.2l-2.1 0.1 -0.3 -2.1 1.8 -2.2zM1015.6 196l1 -1.1 1.2 0.9 0.2 2zM1054.5 199l-1.6 -1.3 0.5 -2 2.1 -0.7zM996.2 283.4l-0.1 -1.9 1.8 -0.8 1.8 1.1zM951.3 261.2l-2.2 0.1 -0.4 -2.2 1.8 -2.3zM1006.4 247.5l-1.4 0 -0.4 -1.4 1 -1.4zM1006.4 220.7l-2 -0.4 0.3 -2 2.2 -1.6zM959.8 204.6l-1.4 0.5 -0.9 -1.1 0.5 -1.6zM1027.7 205.8l-1.6 0.6 -1.2 -1.2 0.4 -1.8zM1048.8 232.7l0.8 -1.2 1.3 0.7 0.5 1.8zM988.6 230.6l-2.4 0.9 -1.8 -1.7 0.5 -2.6zM1015.5 221.2l-1.8 0.8 -1 -1.7 0.8 -2.6zM1002.8 206.1l-1.7 0.5 -1.3 -1.3 0.5 -1.8zM1051.8 281.9l0.6 -2.1 1.9 -1 1.3 1zM971.1 276l-1.6 -1.2 0.6 -1.9 2.2 -0.7zM972.8 246.5l-1.4 -0.9 0.3 -1.6 1.7 -0.7zM1059.9 224.9l-1.9 -0.6 0.3 -2 2.2 -1.4zM1008.5 202.9l-0.5 -1.3 1.1 -0.8 1.6 0.5zM1015.4 255.5l-1.8 -0.3 -0.3 -1.8 1.5 -1.5zM967.5 251.7l0.2 -1.5 1.5 -0.5 1.3 1.1zM1031 253.2l-0.5 -2.3 1.8 -1.4 2.3 0.8zM999.1 256.3l-1 -1.5 1.1 -1.4 2.1 0.1zM951.6 216.5l-1.7 -1 0.5 -1.9 2.2 -0.9zM1064 258.2l1.7 -1.6 2.3 0.5 0.6 2.1zM938.8 229.6l-2.2 -0.1 -0.2 -2.2 2.1 -2.1zM1087.8 221.1l-1.7 -0.1 -0.7 -1.6 1 -1.4zM1095.6 244.5l0.1 -2.1 2 -0.8 1.9 1.3zM969.3 278.9l-1.7 -0.4 0 -1.8 1.7 -1.4zM1065.7 221.5l0.8 -1.7 1.8 -0.1 1.1 1.6zM1067.6 223l-1.4 0.4 -0.9 -1.2 0.6 -1.6zM943.3 266.3l0 -1.9 1.7 -1 1.7 0.9zM1031.8 223l-0.9 -1 0.9 -1 1.8 0zM972.1 203.5l1.6 -1.5 1.9 1.2 0.2 2.6zM1026.1 203.8l1 -1.9 2.1 -0.5 1.1 1.4zM1041.8 241.6l-1.3 -0.9 0.7 -1.4 2 -0.5zM1097.7 249.7l-0.4 -2.5 2.2 -1.3 2.6 1.3zM1041.3 238.6l-2.3 -0.3 -0.7 -2.2 1.6 -1.9zM1016.3 277.3l1.9 -1.5 2.1 1.2 0.2 2.6zM1034.9 273.3l-2.2 -0.3 -0.9 -2.1 1.3 -1.8zM1058.7 277.2l-2.6 0.1 -1.3 -2.2 1.3 -2.4zM1003.1 237.2l1.1 -1.6 1.9 0.2 0.8 1.8zM984.9 275.8l1 -1.9 2 -0.7 1 1.2zM993.1 280.8l1 -1.2 1.5 0.6 0.5 1.8zM1059.4 250.4l0.4 -2.1 2 -0.6 1.6 1.5zM1040.7 233.7l-0.2 -1.3 1.2 -0.5 1.4 0.8zM964.6 244.7l-1.7 -0.9 -0.4 -1.9 1.3 -0.9zM1071.6 229.1l-0.6 -1.5 1.5 -0.7 2.1 0.8zM961.5 267.2l-2.4 -0.7 0 -2.5 2.3 -1.8zM1041.2 227.1l-2 0.7 -0.8 -1.9 1.1 -2.6zM1085.2 238.4l-1.4 -0.6 0.3 -1.4 1.6 -0.9zM977.7 276.2l-0.2 -1.9 1.7 -1 1.9 0.9zM1063.2 241.8l1 -2.4 2.6 -0.1 1.6 2.3zM1050.2 205.6l-1.8 1 -1.5 -1.4 0.3 -2.4zM1023.5 281.3l-1 -1.8 0.9 -1.8 1.9 0zM991.6 221.5l0.7 -1.4 1.4 0.5 0.8 1.9zM995.5 208.6l-1.3 -0.5 0.1 -1.4 1.4 -0.8zM961.5 273.9l-0.7 -2.3 1.2 -2.1 1.9 0.2zM982.8 268.6l-0.1 -2.2 1.7 -1.3 1.8 0.9zM1014.2 199.2l-1.4 0.7 -0.8 -1.4 0.6 -2.1zM1088 251.6l-2.6 -0.4 -0.6 -2.6 2 -2.1zM1073.9 224.8l0.1 -2.4 1.8 -1.5 1.7 0.9zM982.7 235.8l-2.3 -0.8 -0.2 -2.4 2 -1.6zM945.4 233.5l-1.3 -1.7 0.3 -2.1 1.6 -0.4zM977.2 220l0.6 -2 2 0.6 1.4 2.6zM1074.2 232.2l0.8 -1.6 1.8 0.3 1 1.9zM987.6 213.8l-0.5 -1.2 1.1 -0.8 1.6 0.4zM975.8 221.3l-1 -2.2 1.3 -2.1 2.3 0.2zM988.5 239.5l-1.6 0.6 -1.2 -1.3 0.4 -1.9zM958.7 214l-2.1 1 -1.8 -1.5 0.3 -2.4zM992.7 235.1l-1.8 0 -1.1 -1.4 0.7 -1.5zM998.1 275.2l-0.6 -1.9 1.1 -1.7 1.7 0.2zM1059.3 241.5l-2.4 0 -0.8 -2.3 1.6 -2.2zM1043.4 237.3l0.3 -2 2 -0.4 1.7 1.7zM1015.7 289.7l1.4 -2.1 2.5 0.4 1.1 2.5zM1023.1 247l-2.4 -0.1 -1.1 -2.2 1.3 -2zM994.8 285.5l-1.6 0.1 -0.4 -1.5 1.2 -1.6zM1082.1 267.1l-0.6 -1.4 1.3 -0.7 1.9 0.7zM1056.5 278.6l-2.2 0.3 -1.5 -1.6 0.7 -1.9zM997.4 236.2l2.1 -1.2 2.2 1.2 0 2.4zM1021.2 194l-1.9 0.2 -1 -1.6 0.9 -1.9zM1029.9 229l-2 0.3 -0.6 -2 1.4 -2.3zM976.2 258.3l-0.6 -1.3 1.2 -0.8 1.8 0.5zM1018.7 242.6l-1.2 0.8 -1.1 -1 0.1 -1.8zM1069.7 213.2l1 -1.3 1.5 0.6 0.6 2zM1010.2 260.8l1.5 -1.4 2 0.6 0.5 2zM966.6 264.9l-1.7 -1.4 -0.3 -2.2 1.4 -0.8zM1022 235.2l0.4 -1.8 1.8 0.4 1.4 2.2zM1011 266.5l-1.8 -1.4 0.4 -2.2 2.2 -0.8zM1094 251.3l-2.3 0.1 -0.8 -2.1 1.5 -2.2zM963.7 212.7l2.2 -1.5 2.2 1.4 0.1 2.9zM1074.9 275.5l-2.3 0.5 -1.5 -1.8 0.8 -2.3zM995.2 242.2l1.2 -1.7 2.1 -0.3 0.9 1.4zM1096.6 234.8l1.8 -1.4 1.9 1.2 0.1 2.5zM1003.7 198.1l-1.1 -2.3 1.6 -2.1 2.7 0.3zM1052.3 271.7l-0.2 -1.8 1.5 -1 1.7 0.8zM1004.8 274l-0.5 -2 1.3 -1.7 1.8 0.3zM1068.3 249.3l1 -1.2 1.3 0.9 0.3 2.1zM1077.5 252.8l-1.2 -1.9 1.2 -1.9 2.5 0zM942.7 254.1l1.3 -1.6 1.6 1.3 0.3 2.8zM1024.9 195.7l-1.8 0.6 -1.1 -1.6 0.7 -2.2zM1097.4 236.3l0.7 -1.2 1.2 0.6 0.5 1.8zM957.5 274.1l1.2 -1.2 1.6 0.4 0.4 1.6zM1073.4 252.8l-2.4 0.9 -2 -1.5 0.3 -2.4zM1008.8 281.2l-1 -1.4 0.6 -1.6 1.6 -0.2zM1026 222.2l0.3 -1.4 1.5 0.3 1.1 1.7zM981.6 230.6l-0.6 -1.4 1.3 -0.8 1.9 0.6zM989.2 195.5l0.8 -2 2.2 0.1 1.4 2.1zM1019.2 212.7l0.9 -0.9 1.1 0.8 0.1 1.7zM978.4 240l0.5 -1.8 1.9 -0.4 1.4 1.4zM988.7 230.8l2.1 -1.5 2.1 1.4 0.1 2.9zM984.1 228.3l-1.7 0.3 -0.9 -1.4 0.8 -1.7zM1060.3 206.5l1 -1.9 2.1 0.4 1.1 2.2zM1010.1 228.7l-1.7 1 -1 -1.7 0.7 -2.6zM1097.2 229.5l-1.3 -0.6 0.5 -1.4 1.8 -0.8zM1005.5 234l0.7 -2.4 2.5 0 1.8 2.4zM1084.9 216.4l1.3 -1.8 2.2 -0.3 0.9 1.5zM1068.6 239.6l-2 -0.7 0.2 -2.1 2.2 -1.4zM1052.9 243l-1.2 0.7 -0.7 -1.2 0.5 -1.8zM1072.6 268.5l0 -2.4 2.3 -0.7 2.3 1.6zM938.5 243.6l-2.5 0.1 -1.3 -2.2 1.2 -2.2zM984.5 208.4l0.6 -1.9 2 0.3 1.4 2.2zM949.4 241.7l1.9 -1.5 2.1 1.3 0.2 2.8zM1082.4 226.4l-2.1 -0.7 -0.5 -2.2 1.6 -1.4zM1060.6 239.4l0.9 -2 2 0.7 1.2 2.6zM988.9 229.8l-2.4 0.1 -1.7 -1.7 0.7 -1.8zM967.3 205.7l-0.6 -1.2 1.2 -0.7 1.7 0.5zM1001.8 246.4l-2.2 -0.9 -0.6 -2.2 1.5 -1.4zM1019.8 201.1l0 -1.4 1.4 -0.2 1.4 1.2zM939.4 261.2l-1.7 -0.3 0.1 -1.7 1.7 -1.4zM972.8 207.4l-2.4 -1 -0.1 -2.6 2.4 -1.7zM1023.4 195.6l-1.8 0.9 -1 -1.7 0.8 -2.7zM959.9 258.6l-1.3 0.6 -0.6 -1.3 0.7 -1.8zM1076.2 213.3l-1.7 0.1 -0.7 -1.6 1 -1.7zM1005.7 272l-1.7 -0.6 0.5 -1.7 2.2 -1.1zM1027.8 273.7l-0.9 -1.4 1.2 -1.2 2.1 0.2zM1022.4 263.3l-2.3 -1.1 -0.1 -2.5 2.2 -1.4zM1074.6 214.6l-1.2 -2.2 1.1 -2.3 2.3 -0.1zM1000.3 196l-0.4 -1.5 1.5 -0.5 2 1zM1078.9 231l0.1 -2.4 1.8 -1.6 1.7 0.8zM1034 238.3l-1.5 0.2 -0.3 -1.5 1.2 -1.7zM971.5 281.7l1.3 -2.2 2.5 -0.1 1.3 2.1zM982.9 205.4l-1.8 -0.4 -0.7 -1.7 1.1 -1.3zM1044.9 272.1l-0.2 -2.1 2.1 -0.4 2.3 1.7zM1072.2 270.9l-1.4 0.6 -1 -1.2 0.5 -1.9zM1006.2 237.3l-1.4 -1.1 0.3 -1.7 1.7 -0.6zM1004.1 278.7l-2 -1.6 0.5 -2.5 2.5 -1zM979.6 246.4l1 -2.4 2.6 -0.1 1.6 2.3zM1015.2 206.1l0 -1.9 1.5 -1.1 1.5 0.8zM1010.9 211.7l0 -1.4 1.4 -0.3 1.4 1.1zM1004.5 197.4l-0.7 -2.2 1.6 -1.6 2.3 0.6zM1068.7 259.4l0.5 -2 1.9 -0.9 1.4 1.2zM942.4 233l0.6 -1.5 1.5 0.5 0.9 2zM940.8 235.2l1.2 -2 2.2 0.5 1.1 2.5zM1030.6 256l-1.8 -0.9 -0.5 -1.9 1.3 -1zM990.9 200.2l-2.1 0.3 -1.6 -1.4 0.5 -1.7zM1026.3 232.6l-2.1 -1.1 -0.6 -2.3 1.5 -1.2zM965.8 232.3l-0.8 -1.3 1.3 -0.9 2 0.4zM1026.7 215.9l0.2 -2.3 2.3 -0.2 2 2zM978.1 251.9l-1.7 -0.7 0.6 -1.7 2.2 -1zM1057.3 271.9l-1.6 -0.1 -0.2 -1.6 1.4 -1.5zM1092.5 249.5l-1.4 -1.1 0.9 -1.5 2.2 -0.4zM1056.4 267.6l-1.9 0.4 -1.4 -1.4 0.6 -1.9zM947.4 268.7l-1.4 -0.7 0.6 -1.5 2 -0.8zM962.9 279.2l-1.3 0 -0.1 -1.3 1.3 -1.3zM1032.9 285.3l-1.4 -1.6 1 -1.9 2.4 -0.3zM946.8 251.7l-1.1 -1.5 1.5 -1.1 2.6 0.5zM1076.8 263.3l-0.7 -1.3 0.9 -1.2 1.6 0.1zM1069 219.8l-2.3 1 -1.9 -1.7 0.4 -2.7zM1046.7 246.6l-1.9 0 -0.9 -1.7 1 -1.7zM1028.9 221.3l-1.2 1 -1 -1.2 0.2 -2.2zM1026.3 242.5l1 -1.5 1.8 0.2 0.8 1.7zM945.4 213.8l-1.6 -0.4 -0.2 -1.6 1.4 -1.2zM1040.5 208.1l1.8 -1.4 2 1 0.2 2.4zM1032.4 254l-1.6 -1.2 0.8 -1.8 2.4 -0.6zM1017.6 243.2l-1.9 0.2 -1.1 -1.6 0.8 -1.8zM1030.6 288.9l-2 -0.7 -0.1 -2.1 1.9 -1.4zM977.9 228.2l0.3 -2 2 0 1.7 2zM1096.6 241.8l-0.9 -2.4 1.5 -2 2.4 0.3zM1003.3 202.5l0.8 -1.7 1.8 0.6 1 2.3zM966.9 267.3l1.8 -1.8 2.5 0.4 0.7 2.2zM1042.2 226.4l1.9 -1.3 2.2 0.7 0.3 2zM1024.4 196.1l-2.1 -0.1 -0.3 -2 1.8 -1.9zM997.6 252.9l-1.6 -0.2 -0.5 -1.5 1 -1.3zM960.5 262.4l-1.3 -0.9 0.6 -1.4 1.9 -0.6zM1085.8 236l-2.1 -0.3 -0.6 -2 1.5 -1.7zM1074.2 227.5l0.8 -1.7 1.7 0.6 1 2.3zM1020.2 237.9l0.9 -2 2.1 0.4 1.2 2.4zM1002.3 211.1l-1.4 -2.2 1.2 -2.3 2.6 -0.1z"/>
<path fill="rgb(230,230,230)" d="M994.7 352.6l-0.9 -2 1.2 -1.9 2.1 0.1zM1004.2 353.8l-2.2 -0.2 -1 -2 1.2 -1.8zM994.6 359.4l0.7 -1.2 1.3 0.4 0.6 1.6zM1001.9 354.9l-0.1 -2.3 1.8 -1.5 1.8 0.8zM1002.6 367.4l-2.5 -0.8 -0.3 -2.7 2.3 -1.8zM997.3 359.5l0.4 -2 2 -0.3 1.6 1.6zM989.8 357.2l-2.1 -1.1 0.5 -2.3 2.6 -1.2zM1010.5 355.1l-1.6 -0.4 0.4 -1.6 2 -1.2zM1014 352.8l-1.9 0.1 -0.9 -1.7 1 -1.8zM995.9 352.4l-1 1 -1 -1 0 -1.9zM1008.7 350.8l0.1 -2.2 2.1 -0.4 2 1.7zM1000.8 355l-1.3 0.9 -1.2 -1 0.1 -1.8zM989 362.3l-0.7 -2.2 2 -1.1 2.6 1.1zM998.4 358.4l0.2 -1.5 1.5 0.1 1.3 1.6zM991.7 348.9l-0.9 -2.1 0.8 -2.1 1.7 0zM983.9 356.2l-0.7 -2.1 1.8 -1.3 2.5 0.8zM987.9 363.1l0.1 -1.5 1.5 -0.2 1.3 1.3zM1002.7 368.3l-2 -0.2 -0.9 -1.8 1.1 -1.6zM990.3 353.4l-1.4 0.5 -0.8 -1.3 0.6 -1.7zM986.8 352.3l-1.4 -1.7 0.9 -2 2.3 -0.3zM1008.8 364.6l-1.7 -0.5 -0.2 -1.7 1.4 -1.2zM1008.8 363l-1.9 0.7 -1.6 -1.3 0.3 -2zM1004.4 351l-0.9 -2.1 1.8 -1.4 2.7 0.7zM996.2 348.5l-1.6 -0.3 0.2 -1.6 1.7 -1.3zM1004 354.2l-1.7 0 -0.5 -1.6 1.2 -1.6zM999.3 363l-1.3 1.1 -1.3 -1.1 0 -2.2zM988.8 350.1l0.3 -1.9 1.9 0.1 1.6 2zM996.1 368.6l-1.9 -0.1 -0.1 -1.9 1.9 -1.9zM1008.8 358.6l-1.7 0.3 -0.3 -1.7 1.4 -2zM980.2 361.6l0.8 -1.8 1.9 0.1 1.2 1.8zM988.8 351.2l1 -2.2 2.4 0.2 1.4 2.4zM988.2 350.8l-2.4 -0.8 0.1 -2.5 2.4 -1.7zM987.1 349.9l-0.9 -0.9 0.7 -1.1 1.6 -0.2zM999 362.9l-1.9 -0.1 0 -1.9 1.9 -1.7zM1000 350.5l-1.1 -0.8 0.6 -1.2 1.6 -0.4zM984.1 355.5l-0.3 -2 1.6 -1.3 2 0.8zM993.6 348.6l1.4 -1.8 2.2 0.4 0.8 2.2zM1000 368.1l-0.2 -1.9 1.9 -0.2 2.1 1.7zM1008.3 357.2l-1.9 -0.9 -0.4 -2.1 1.5 -1.2zM1000.9 359.7l-1.1 -1.1 0.7 -1.3 1.8 -0.3zM1007.4 354.3l-0.5 -1.8 1.6 -0.8 2.1 0.9zM1014.5 360.9l-0.7 -1.6 1.3 -1.2 2 0.4zM988.6 350.1l-1.7 -0.7 -0.3 -1.9 1.5 -1.2zM1012.6 351.6l-1.9 -0.8 0.2 -2 2.1 -1.2zM991.1 364.2l-1 -1.3 0.8 -1.5 1.8 -0.2zM1038.1 390.1l-1.7 0 -0.5 -1.7 1.2 -1.6zM1048.6 396.2l-1.7 0.3 -0.9 -1.5 0.8 -1.8zM1063.3 396.7l-2 0.8 -1.8 -1.3 0.3 -2.1zM1045.4 395l0.2 -2.2 2.1 -0.6 2 1.6zM1025.6 391.2l0.4 -2.2 2 -0.9 1.6 1.2zM1060 388.4l-1.3 0.1 -0.2 -1.3 1.1 -1.4zM1064 395.3l-1 -1.3 0.9 -1.4 2 -0.1zM1014.2 394.4l-1.4 -1.8 1.1 -2 2.5 -0.2zM1052.7 411.8l-0.3 -2.1 2 -0.7 2.3 1.4zM1021.9 408.6l-0.4 -2.3 1.4 -1.9 1.8 0.4zM1055.3 396.7l0.8 -2.2 2.1 -1 1.3 1.2zM1030.3 389.1l1 -1.6 1.7 0.9 0.7 2.6zM1037.3 402.9l0.5 -1.4 1.5 0.1 1 1.6zM1056.7 392.3l-2.2 -0.6 0 -2.3 2.1 -1.7zM1019.7 401.9l0.7 -1.2 1.2 0.7 0.5 1.9zM1026.8 403l1 -2.1 2.3 -0.1 1.3 2zM1055.6 413l0.8 -2.4 2.5 -0.6 1.7 1.8zM1032.3 409.4l0.4 -1.6 1.7 0.1 1.3 1.7zM1020.4 404.9l0.3 -1.5 1.5 -0.2 1.3 1.4zM1056.8 408.6l-0.9 -1.8 0.9 -1.9 1.8 0zM1058.6 396l-2.3 -0.2 -0.4 -2.3 1.9 -2.1zM1046.5 390.8l-0.8 -1.5 1.5 -0.9 2.3 0.6zM1021.3 396.4l-1.6 -0.7 -0.3 -1.8 1.3 -1zM1015.1 394l-1.4 0.3 -0.4 -1.4 1 -1.7zM1038.4 389.7l0.6 -2.2 2.2 -0.7 1.6 1.5z"/>
<path fill="rgb(199,199,199)" d="M678.2 219.5l0.1 -1.9 1.6 -1 1.5 0.9zM703.1 269.5l0.5 -1.2 1.2 0.4 0.7 1.6zM826.7 239.3l-0.4 -1.7 1.6 -0.8 1.9 0.9zM651 235.1l-2.1 -0.4 -0.7 -2 1.3 -1.6zM749 235.6l0.7 -1 1.1 0.6 0.4 1.6zM650.7 222.7l-0.5 -1.9 1.5 -1.3 2 0.6zM665.5 209l-1.1 0.5 -0.5 -1.1 0.6 -1.6zM755 277.1l-1.1 -0.4 0.4 -1.2 1.5 -0.7zM642.8 225.4l-1.5 -0.1 0.1 -1.5 1.5 -1.4zM727.1 222.5l-1.5 -0.3 0.1 -1.6 1.6 -1.3zM788.1 235.2l-0.3 -1.5 1.5 -0.4 1.8 1.2zM716.6 286.3l-0.8 -2 1.5 -1.6 2.4 0.5zM776.5 255.7l0.1 -1.6 1.6 0.1 1.5 1.7zM786.2 257l-0.4 -1.6 1.4 -0.7 1.8 0.8zM653.1 224.5l0.4 -1.2 1.3 0.4 0.8 1.6zM672.7 204.3l-0.6 -1.6 1.6 -0.6 2.2 1zM686.7 277.2l-1.6 -0.2 -0.1 -1.6 1.5 -1.4zM726.3 273.6l0.7 -1.3 1.4 0.3 0.7 1.6zM777.4 239.5l-2 -0.7 0 -2.1 2.1 -1.4zM651.8 269.9l-1 0.6 -0.6 -1 0.4 -1.6zM804.5 265.8l0.2 -2.1 2.1 0.2 1.9 2.3zM757.7 200.9l0.4 -2 1.8 -1 1.4 1.1zM766.3 259.7l-0.7 -1.3 1.2 -0.9 1.9 0.5zM639.1 256.3l-2 -0.7 -0.4 -2.1 1.7 -1.4zM740 281.7l0.8 -0.9 1 0.7 0.2 1.6zM639.9 254.5l-0.5 -2 1.9 -0.7 2.4 1.3zM662.4 270.4l-0.8 -1.8 1.4 -1.4 2.1 0.4zM680.1 213.3l-1.5 -1 0.6 -1.8 2.1 -0.7zM739.9 230.8l0.9 -1 1.2 0.7 0.2 1.7zM605.2 247.7l-1.8 -1.1 -0.4 -2.1 1.4 -0.9zM707.5 198.7l-1.6 1 -1.6 -1 0 -2zM817.7 237l-1.8 -0.4 0.2 -1.8 2 -1.4zM716.7 292.2l-1.7 0.3 -0.4 -1.7 1.3 -2zM728.1 223l-1.2 -1.3 1 -1.5 2.2 -0.2zM685 233.8l-2 0.1 -1.3 -1.5 0.7 -1.6zM692.5 229.5l0.8 -1.8 2 0.1 1.2 1.9zM792.6 225.6l0.9 -1.2 1.4 0.5 0.5 1.7zM754.9 246.8l-1.4 0.6 -1.1 -1.1 0.3 -1.8zM804.8 216.9l0.2 -1.4 1.4 -0.3 1.2 1.1zM779.2 274.5l-2 -0.4 0.1 -2.1 2.1 -1.7zM717.5 208.9l1.3 -1.4 1.8 0.6 0.5 2zM701 288.2l0.6 -1.5 1.5 0.5 0.9 2zM644.4 280.6l-1.2 0.1 -0.1 -1.2 1.1 -1.4zM614.3 268.2l-1.2 0.4 -0.6 -1.1 0.6 -1.5zM682.5 278.4l-1.2 -0.2 0.2 -1.2 1.5 -1zM785.8 225.8l-1.1 -1.2 1.1 -1.1 2.2 0.1zM808.3 229.1l-1.4 -1.1 0.3 -1.7 1.7 -0.6zM747 274.7l-1.3 0.2 -0.4 -1.3 0.9 -1.5zM680.2 212.2l-0.9 -1.8 1.5 -1.4 2.4 0.4zM776.2 272.6l0.7 -1.6 1.6 0.6 0.9 2.2zM775.6 265.5l1 -0.9 1.1 0.7 0.2 1.6zM640.4 254.9l-0.8 -2 1 -1.9 1.8 0.1zM646.2 277.5l0.5 -1.5 1.6 -0.1 1.1 1.4zM647 245.7l-1.1 0.7 -0.7 -1 0.3 -1.7zM611.3 243l-1.5 0.3 -0.4 -1.4 1 -1.7zM649 243.2l-0.3 -2 1.6 -1.3 1.9 0.7zM770.3 214.9l-1.7 0.5 -0.8 -1.6 1 -2.2zM770.6 246.7l-0.1 -2.3 2.2 -0.6 2.3 1.7zM794.9 220.8l0.9 -1.6 1.9 -0.1 1 1.6zM641.1 280.4l1.3 -1.1 1.6 0.5 0.3 1.6zM724.9 273.8l1 -2 2.2 0.3 1.3 2.3zM668.2 217.5l-2 0.5 -1.7 -1.1 0.3 -1.6zM638.6 250.6l-1 -1.3 0.8 -1.4 1.8 -0.1zM728.9 219l-2 -0.5 0.3 -2 2.3 -1.5zM681.5 212.1l-1.3 1.1 -1.2 -1.2 0.2 -2.3zM802.3 227.5l0.5 -2.1 2.1 -0.5 1.6 1.6zM755.5 220.9l-1.3 -1.6 1.1 -1.8 2.4 -0.2zM656.1 238.2l0.6 -1.3 1.4 0.3 0.8 1.6zM604.3 250.5l-0.5 -1.1 1.1 -0.6 1.6 0.5zM648.7 223.5l-1 -1.6 1.5 -1.1 2.5 0.5zM672.4 205l1.7 -1.1 1.9 0.5 0.3 1.7zM797.7 266.5l-1.5 -1.1 0.3 -1.9 1.8 -0.7zM647.5 206.4l0.2 -2.2 2.2 0 2 2.1zM768 211.3l-2.2 0.2 -1.3 -1.8 0.9 -2zM744.5 218.4l0.1 -2.2 2.1 -0.7 2 1.5zM715.3 278.9l-2.2 -0.5 -0.5 -2.2 1.8 -1.8zM717.3 222.3l-1.1 -0.5 0.5 -1.1 1.5 -0.6zM752.4 255.3l-1.7 -0.4 0 -1.7 1.7 -1.3zM643 272.2l0.4 -1.7 1.7 0.2 1.3 1.9zM735.4 293.7l-1 -1.4 1.3 -1.1 2.2 0.3zM611.9 252.5l-2.3 0.4 -1.4 -1.8 0.9 -2.3zM729.6 268.2l-1.7 1 -1.7 -1 0 -2.1zM652.9 218.5l0.2 -1.5 1.5 -0.4 1.2 1.1zM767.6 239.4l0.3 -1.5 1.6 0.1 1.3 1.7zM769.3 268l-1.5 -0.7 0.3 -1.7 1.8 -1zM736.8 208.7l-2.1 0.4 -0.6 -2.1 1.6 -2.5zM642 226.7l-0.9 -1.8 1.7 -1.1 2.5 0.7zM704.1 230.3l1.6 -0.9 1.6 0.9 0 1.8zM706.5 264.5l-0.2 -2.1 2 -0.7 2.2 1.4zM681.7 261.1l0.9 -1.4 1.6 0.1 0.7 1.5zM619.9 257.6l0.9 -1.6 1.7 0.8 0.8 2.4zM722.8 281.9l0.4 -2.3 2.3 -0.2 1.9 2.2zM752.7 281.9l-1.4 -0.2 -0.2 -1.4 1.2 -1.1zM689.6 264.1l-2.2 -0.1 -1.3 -1.7 0.9 -1.6zM727.8 242.5l0.9 -1.9 2 -0.4 1.2 1.5zM686.8 223.7l-0.9 0.8 -0.8 -0.8 0.1 -1.6zM811.7 252.4l0.4 -1.2 1.2 0.3 0.8 1.5zM747.8 222.7l1.4 -1.5 2 0.6 0.6 2.1zM704.5 279.9l0.5 -2.1 2.2 0 1.7 2.2zM811.1 267.8l-1 -1.5 1.5 -1.1 2.5 0.4zM750.9 292.3l-1.3 0.8 -0.9 -1.2 0.4 -2zM719.8 221.2l-1.8 -0.4 0 -1.8 1.7 -1.5zM667.6 232.7l-1 -1.7 0.9 -1.7 2 0zM750.9 259.7l0.7 -1.6 1.7 0 1.1 1.6zM698.6 280.5l-1 -1.5 1.1 -1.4 2.1 0zM768.7 275.1l-1 -0.7 0.6 -1.1 1.7 -0.4zM753.8 205.8l-1.7 -1 0.8 -1.8 2.5 -0.8zM620.8 248.5l-0.7 -1 0.9 -0.8 1.6 0.2zM667.1 281l1.3 -1.5 2 0.2 0.7 1.7zM824.3 242.7l-0.6 -1.1 1 -0.7 1.6 0.4z"/>
<path fill="rgb(217,217,217)" d="M569.1 195.8l-0.8 -1.8 1.6 -1.1 2.4 0.7zM550.8 216.4l-1.2 -2 1.1 -2 2.3 0zM561.2 191.3l0.3 -2 2.1 0.2 1.8 2.2zM567.8 211.7l-2 -0.9 0.4 -2.2 2.4 -1.3zM557.2 202.2l0.7 -2 2.1 0.1 1.4 2zM594.6 203.9l0.4 -1.6 1.6 0.1 1.2 1.7zM572.8 200.2l0.7 -1.8 1.8 0.7 1.1 2.4zM575.9 201.2l0.5 -1.4 1.5 0 1 1.5zM541 191.6l-1.1 -1.8 1.4 -1.6 2.5 0.2zM570.4 179.7l-1.6 0.9 -1.5 -1 0.1 -1.8zM578.5 174.9l-1.5 -1.7 1.5 -1.7 2.9 0zM528.9 199.1l0.6 -1.2 1.3 0.3 0.7 1.5zM568.4 193l-1.9 -1.2 0.6 -2.2 2.6 -1zM586.6 212.8l-1.4 0.6 -1 -1.2 0.5 -1.8zM576.3 217.7l-1 -2 1.8 -1.4 2.7 0.6zM563.4 176.3l0.6 -1.5 1.6 -0.1 1 1.3zM564.4 220.5l-0.5 -1.7 1.6 -0.8 2 0.9zM544 220.7l1.7 -1.3 2.1 0.5 0.4 1.8zM533.6 212.7l-2 0.1 -0.4 -1.9 1.6 -2.1zM553.5 199.6l-1.7 -0.1 0.1 -1.7 1.8 -1.6zM547 184.1l1.7 -0.9 1.8 0.7 0.1 1.6zM554 213.9l1.2 -1.9 2.3 0 1.1 2zM552.7 197l-1.2 -1.9 0.7 -2.1 1.9 -0.3zM544.9 201.5l-1.9 0.4 -1.1 -1.6 0.8 -2zM575.6 190.6l-0.1 -1.4 1.3 -0.5 1.4 0.9zM534.8 214.2l-1.4 -0.3 -0.1 -1.4 1.3 -1.1zM557.3 219.6l0.5 -1.5 1.5 0.4 1 1.8zM550.1 169.8l-2 0.5 -1.5 -1.4 0.5 -2zM576.8 179.5l-1.7 -0.7 0.3 -1.8 1.9 -1.1zM556.5 201.2l-1.7 0.5 -1.4 -1.2 0.4 -1.7zM562.4 183.8l-2.1 -1 -0.8 -2.1 1.2 -1.2zM581.8 196l0.6 -1.3 1.3 0.4 0.7 1.7zM596.8 206.7l-0.8 -1.5 1 -1.4 1.8 0.1zM585.4 200.5l-0.6 -2.1 1.3 -1.8 1.8 0.3zM554.8 173.5l-0.6 -2.1 1.5 -1.5 2.1 0.6zM573.1 206.3l-1.3 -0.6 0.5 -1.4 1.8 -0.7zM590.4 201.6l-1.2 0.7 -1 -0.9 0.2 -1.6zM540.1 214.9l-1.4 -1.1 0.8 -1.6 2.2 -0.4zM568.2 215.3l1.4 -1.6 2.2 0 0.8 1.6zM558.1 209.5l-0.8 -1.6 0.9 -1.6 1.7 0.1zM558 221.6l0.5 -2 2 0.4 1.6 2.4zM524.4 188.7l-1.4 -0.3 0.2 -1.4 1.6 -1.2zM582.7 191.8l-1 -1.3 1.2 -1.2 2.2 0.1zM550.4 214.6l-0.9 -1.2 1 -1 1.9 0.2zM546.5 202.4l0 -2 1.8 -0.8 1.8 1.2zM546.7 219.9l-2.2 1 -1.7 -1.7 0.5 -2.7zM584.7 198.3l0.6 -1.9 1.9 -0.4 1.3 1.4zM532.5 195.4l0.6 -1.3 1.3 0.5 0.7 1.7zM543.9 198.9l-1.8 -1.1 0.7 -2 2.5 -0.9zM544.1 188l-1.8 0 -0.9 -1.5 0.9 -1.5zM544.1 191.5l-1.4 -0.4 -0.1 -1.4 1.3 -1.1zM581 218l-2 -0.3 -0.9 -1.9 1.1 -1.5zM521.7 201.1l1.3 -0.9 1.4 0.7 0.1 1.6zM541.9 186.8l-1.9 0.5 -1.1 -1.7 0.9 -2.2zM526 184.2l0.4 -2.1 1.8 -1.2 1.4 0.9zM577 195.6l0 -1.5 1.4 -0.6 1.4 0.9zM587.5 206.5l-1 -1.7 1.4 -1.4 2.4 0.3zM553 177.9l-2.3 -0.5 -0.4 -2.3 2 -1.8zM540.7 174.5l1 -1.4 1.7 0.5 0.7 1.9zM523.4 196.3l-1.8 0.2 -0.5 -1.7 1.3 -1.9zM558.3 187.1l-1.4 -1.3 0.7 -1.7 2.1 -0.5zM567 217l0.3 -1.7 1.6 -0.7 1.3 1zM564.2 184.9l0.9 -1.3 1.6 0.2 0.7 1.6zM570.3 186.3l-1.9 0.2 -1.2 -1.5 0.7 -1.6zM559.2 186.2l-1.2 -2.1 1.4 -1.9 2.6 0.1zM566.7 204.8l-0.5 -2.1 1.5 -1.6 2 0.5zM546.5 213.1l-1.7 -1.2 0.6 -2 2.3 -0.8zM534.1 180l-2.1 -0.5 0.3 -2.1 2.4 -1.7zM567.9 220.5l-2.1 -0.8 -0.8 -2.1 1.3 -1.3zM578.4 171.7l-1.9 -1.2 -0.2 -2.2 1.6 -1zM443.9 275.5l-1.4 -1.9 1.4 -1.9 2.8 0zM449.2 248.5l-1.5 -1.2 0.9 -1.7 2.4 -0.5zM461.6 248.4l-0.7 -1.6 1.4 -1.1 2.1 0.5zM466 248.3l-1.8 -0.8 0.7 -1.8 2.5 -1zM443.6 248.3l-1.8 -0.1 -0.9 -1.5 0.8 -1.4zM458.5 228.3l-1.2 0.8 -1.1 -1 0.1 -1.8zM463.3 243.8l-0.3 -1.4 1.4 -0.4 1.7 1zM462.1 250.3l-1.9 0 -0.6 -1.8 1.3 -1.7zM463.8 257.3l1.2 -1.5 1.6 1 0.4 2.5zM466.1 253.3l-2.2 -0.2 -1.4 -1.6 0.7 -1.5zM471.6 257.7l-1.5 0.8 -1.1 -1.3 0.4 -2.1zM451.4 275.9l-0.4 -1.8 1.8 -0.5 2.2 1.3zM443.5 240.9l-1.7 -1.5 0.3 -2.3 2 -0.7zM467.4 262.6l-1.6 0.4 -0.8 -1.4 0.7 -1.8zM448.5 260.5l-1.4 0.2 -0.3 -1.4 1.1 -1.6zM463.1 265l-1.8 -0.9 0 -2 1.8 -1.2zM452.2 282.7l-1.9 -1.2 0.6 -2.2 2.6 -1zM445.4 260.1l1.6 -1.5 2.1 0.4 0.5 1.9zM460.1 276.5l-2.1 1.1 -1.7 -1.7 0.5 -2.9zM451.7 236.1l-1.3 -1 0.6 -1.5 1.9 -0.5zM450.9 247.4l-1.6 0.4 -0.4 -1.6 1.2 -2zM445 237.7l-1.2 0.4 -0.6 -1.1 0.6 -1.5zM447.7 237.9l-0.4 -1.5 1.4 -0.7 1.8 0.9zM442.7 244.5l-0.8 -1.9 1.8 -1.1 2.5 0.8zM458.6 239.4l-1.4 0.3 -0.5 -1.3 0.9 -1.6zM459.5 260.4l0.2 -1.6 1.6 0.1 1.4 1.7zM449.1 233l-2 0.3 -0.5 -2 1.5 -2.3zM459.2 266.9l-1.3 0.6 -0.9 -1.1 0.4 -1.7zM458 238.7l-2.2 0.2 -0.6 -2.1 1.6 -2.3zM450.4 231.5l1.9 -1.3 2 1.2 0.1 2.5zM446.1 263l0.4 -2.4 2.2 -0.9 1.9 1.5zM451.8 255.7l-1.5 -1.1 0.6 -1.7 2 -0.7zM464.3 235.5l-2 0.5 -1.6 -1.2 0.4 -1.7zM457.9 248.9l0.6 -1.3 1.5 0.2 0.9 1.6zM459.8 270.2l-1.9 0.5 -0.8 -1.7 1.1 -2.3zM446.6 240.9l-0.5 -2.1 2.1 -0.7 2.6 1.5zM459.7 249.8l-1.3 0.2 -0.3 -1.3 1 -1.5zM449.2 251.9l-1.9 0.9 -1.2 -1.7 0.7 -2.6zM461 267.2l-0.3 -1.3 1.3 -0.4 1.6 0.9zM467.9 260.8l-1.5 0.3 -0.6 -1.4 0.9 -1.6zM635.3 185.4l-2.1 0.8 -1.3 -1.9 0.8 -2.7zM630.6 210.2l0.2 -2.1 2.1 -0.4 1.9 1.7zM626.8 206.1l0.9 -1.2 1.4 0.6 0.5 1.8zM649.1 198.5l-1.9 0.5 -1.1 -1.6 0.8 -2.1zM653.2 189.3l1.8 -1.5 2.1 1 0.3 2.4zM634.6 182.6l-1.4 -0.1 0 -1.5 1.5 -1.4zM636.8 215.5l0.5 -2 1.9 -0.8 1.5 1.2zM657 208.1l0.7 -1.2 1.3 0.4 0.6 1.7zM651.6 200.1l0.8 -1.2 1.4 0.6 0.6 1.8zM635.6 203.7l-0.5 -1.8 1.7 -0.8 2.2 1zM645.3 189.9l-1.7 0.9 -1.4 -1.3 0.3 -2.2zM632.7 192l-1.7 -1.3 0.1 -2.1 1.8 -0.9zM663.7 202.3l-1.9 0.8 -1.3 -1.6 0.6 -2.4zM661.6 190.1l-2.1 0.5 -1.4 -1.7 0.7 -2.2zM631.5 204.3l-0.9 -1.7 1.4 -1.3 2.3 0.4zM625.4 203.8l-2.5 0.4 -1.4 -2.1 1.1 -2.5zM638.3 210.2l0.2 -2.4 2.4 -0.6 2.2 1.8zM652.3 201.8l-0.6 -2.1 1.8 -1.1 2.4 1zM643.2 183.3l1.1 -1.4 1.7 0.4 0.6 1.8zM661.1 201.2l1.3 -1.3 1.7 0.6 0.4 1.8zM651.6 219.5l-1.5 -0.9 0.8 -1.5 2.3 -0.7zM658.7 217.7l-2 -0.4 -0.6 -2 1.5 -1.6zM614.4 194.6l0.9 -2.2 2.4 0 1.5 2.2zM629.9 219.1l-1.6 0.6 -1.3 -1 0.2 -1.6zM656.4 192.1l-1.6 0.9 -1.4 -1.3 0.3 -2.2zM647.9 223.1l-0.9 -1.7 1.5 -1.2 2.3 0.5zM644.1 206.2l1.2 -1 1.4 0.7 0.2 1.7zM617.2 213.2l0 -2.5 2.3 -0.8 2.3 1.7zM626 191.4l-0.9 -1.7 1 -1.7 1.9 0.1zM630.8 195.7l-1.6 0.7 -1.5 -0.9 0.1 -1.6zM624.6 197.8l0.8 -2 2.1 0.5 1.2 2.4zM629 199.9l-0.1 -1.8 1.7 -0.6 1.8 1.2zM644.9 210.9l-0.8 -2.1 1.2 -1.9 2 0.2zM646.7 196.9l1.2 -1.6 2 -0.2 0.8 1.4zM643.2 214.8l-1.5 -0.6 -0.1 -1.6 1.4 -1zM636.6 223.7l-1.9 1.3 -1.7 -1.6 0.2 -2.9zM651.6 213.4l-1.9 -0.3 -0.2 -1.9 1.7 -1.7zM637 205.3l-1.7 -0.7 0.7 -1.7 2.4 -1zM633.5 183.5l-1.2 -1.5 0.6 -1.8 1.8 -0.3zM642.7 212.5l-1.4 -1.7 0.6 -2.1 2 -0.4zM731 392.6l-2.2 0.1 -1.3 -1.8 0.9 -1.9zM770.9 370.5l-0.9 -1.8 1.7 -1.2 2.6 0.6zM752.7 390l0.7 -1.5 1.6 0.6 0.9 2.2zM712.8 396.1l-1 -1.2 0.7 -1.5 1.7 -0.2zM747 371l-1.9 -1.4 0.6 -2.3 2.5 -0.9zM711.8 391.2l-1.5 -1.9 1.2 -2.1 2.7 -0.2zM724.5 369.8l1.1 -1.4 1.6 0.7 0.5 2.1zM758.1 361.8l-1.2 -0.8 0.6 -1.3 1.8 -0.5zM710.2 386l0.3 -1.3 1.3 0.1 1 1.3zM759 370.9l-0.6 -1.2 1 -0.9 1.6 0.3zM730.1 394.9l-1.3 0.8 -1.2 -0.9 0.1 -1.7zM746 381.2l-1.2 -1.8 1 -2 2.2 -0.2zM719.4 390l-0.5 -1.3 1.3 -0.5 1.8 0.8zM721.1 378l0.9 -2.1 2.3 0 1.4 2.1zM727.8 372.4l-1.4 0.7 -1 -1.2 0.4 -1.9zM724.8 365.6l0.4 -1.7 1.6 -0.6 1.2 1.1zM716.8 388.3l1.2 -1.3 1.7 0.4 0.5 1.7zM762.4 384.1l-2.2 0.7 -1.1 -2 1.1 -2.8zM733.9 384.9l-0.6 -1.5 1.5 -0.7 2.1 0.9zM759.5 365.5l0.7 -1.3 1.4 0.3 0.7 1.6zM749.4 381.8l-1.2 -1.6 1.4 -1.4 2.6 0.2zM734.8 360.2l-1.1 -1 0.9 -1.2 2 -0.2zM747 373.3l-2.4 -0.8 0.1 -2.5 2.4 -1.7zM738.5 383.7l-1.9 -1.1 0.6 -2.1 2.5 -1zM769.2 385.4l0.3 -1.3 1.3 0 1 1.3zM708.6 385.6l-1.9 -0.9 -0.4 -2.1 1.5 -1.2zM718.5 365l-1.3 -1.9 0.5 -2.2 1.8 -0.4zM736.7 359.3l-2.4 -0.1 -0.5 -2.4 1.9 -2.2zM718.8 396.5l-0.7 -2 1.8 -1 2.5 1zM725.5 365.4l-2 0.7 -1.8 -1.1 0.2 -1.8zM745.9 393.3l-1.4 0.7 -0.9 -1.3 0.6 -2zM717.3 388.5l-2.2 -0.5 -0.9 -2.1 1.3 -1.6zM734.4 386.1l0.7 -2.2 2.3 0.2 1.6 2.4zM717 375.7l1.4 -1.9 2.3 0.5 0.9 2.3zM724.9 371.4l-1.7 0.4 -0.7 -1.6 1 -2zM772.2 371.5l-2.2 -0.9 -0.1 -2.4 2.2 -1.5zM711.5 374.7l-1.7 0.4 -1.3 -1.2 0.4 -1.6zM734 397.9l-0.5 -2.2 2 -1 2.4 1.1zM730.5 390.5l-1.4 0 -0.2 -1.4 1.2 -1.4zM737 371.7l-2 0.7 -1.5 -1.6 0.6 -2.3zM772.9 385.7l-0.1 -1.7 1.6 -0.8 1.7 0.9zM764.6 397.9l-0.9 -1.8 1.2 -1.6 2.1 0.2zM745.9 360.5l-1.7 0.1 -0.9 -1.4 0.8 -1.5zM713.2 368.7l-1.6 -1.5 0.1 -2.2 1.8 -0.7zM730.5 402.2l-1.4 -0.1 -0.4 -1.4 1 -1.3zM759.2 368.8l0.6 -2.3 2.3 0.1 1.7 2.3zM734.1 367.8l-0.5 -1.7 1.4 -1.1 1.9 0.6zM758.8 380.2l-0.1 -1.5 1.4 -0.4 1.6 1.1zM754.5 359.7l-1.1 -1.1 0.7 -1.3 1.8 -0.3zM731.6 395.3l-1.5 -0.4 -0.1 -1.5 1.4 -1.1zM742.3 370.5l-1.3 -1.5 1.4 -1.4 2.7 0.1zM724.1 361.8l1 -1.6 1.9 0.1 0.9 1.7zM715.5 392.8l0.7 -1.3 1.4 0.4 0.7 1.7zM764.4 375.5l-2.3 1 -1.8 -1.8 0.5 -2.8zM721.4 372l-1.7 -0.8 -0.1 -1.9 1.6 -1.1zM704.5 385.1l0 -2.3 2.2 -0.7 2.2 1.6zM756.3 397.6l-1.9 -0.1 -1.1 -1.6 0.8 -1.5zM719.1 395.2l-1.4 -1 0.5 -1.6 2 -0.7zM723.2 379.6l-1.3 0.1 -0.4 -1.3 1 -1.4zM755.4 392l-1.9 0.7 -1.7 -1 0.1 -1.7zM453 400.4l2.1 -0.9 2.1 0.9 0 1.8zM449.4 402.9l1.5 -1.8 2.2 0.8 0.7 2.5zM476.2 393.5l0.8 -1.6 1.7 0.4 0.9 2zM441.5 398.8l1.5 -1.8 2 1.2 0.5 2.9zM462 391.7l-1.9 -0.1 0 -1.9 1.9 -1.8zM478 404.4l-1.4 0.6 -1.1 -1.1 0.3 -1.7zM476.9 400.5l-1.4 0.6 -1.1 -1.1 0.3 -1.6zM458 403.7l-1.2 -0.7 0.4 -1.3 1.6 -0.6zM452.4 395.4l-0.5 -1.7 1.5 -0.9 2 0.7zM476.9 392.3l-1.3 0.6 -0.6 -1.3 0.7 -1.8zM467.8 414.3l-2.2 -1.3 0.6 -2.5 2.8 -1.1zM448.4 392.8l-1.5 -0.1 -0.2 -1.5 1.3 -1.4zM463.4 404.2l-1.5 -1.2 1.1 -1.5 2.6 -0.3zM442.4 397.8l-0.7 -2.1 2 -0.9 2.7 1.2zM446.9 397.2l0.1 -1.5 1.4 -0.3 1.4 1.2zM466.2 391.3l1.2 -1.1 1.5 0.7 0.3 1.8zM464.9 411.8l0.2 -2.1 2.1 0 1.9 2zM449.7 395.5l-1.4 -1.2 1 -1.5 2.3 -0.4zM441.3 393.6l1 -1.9 2 0.6 1 2.5zM461.2 413.5l-2.4 -0.5 -0.3 -2.4 2.1 -1.9zM456.4 405.6l-2.1 0.3 -1.2 -1.8 1 -2.1zM461.1 414.8l-0.5 -1.9 1.2 -1.6 1.7 0.3zM467.2 392.3l-0.4 -1.5 1.5 -0.6 1.9 0.9zM466.4 388.4l0.7 -1.5 1.5 0.7 0.8 2.2zM457.1 412l-0.3 -2.1 2.1 -0.6 2.4 1.5zM466.2 398.7l-2.2 0.5 -1.3 -1.8 0.9 -2.4zM473.4 397.7l-0.3 -1.5 1.4 -0.7 1.7 0.8zM463.6 392.8l-0.8 -1.7 1.5 -1.2 2.3 0.5zM465.4 396.3l-1.6 1.1 -1.4 -1.3 0.2 -2.3zM466.9 400.6l-0.7 -2.3 1.8 -1.6 2.6 0.7zM445.2 404.9l-1.9 0.2 -0.7 -1.8 1.2 -2zM459.2 395.6l1.7 -1.5 2.1 0.9 0.4 2.5zM468.9 405.7l1.6 -1.9 2.4 0.8 0.8 2.6zM480.6 397.7l-2.1 0.3 -1.3 -1.7 0.8 -2zM453.4 411.5l0 -1.8 1.8 -0.2 1.9 1.6zM459.5 414.7l-1.2 0.5 -0.7 -1.1 0.5 -1.6zM467.6 413.7l1.2 -2 2.2 0.6 1 2.6zM463.8 411.8l0.6 -1.4 1.5 0.3 0.8 1.7zM458.1 397.9l-0.9 -1.4 0.8 -1.4 1.8 -0.1zM458.9 414.3l-1.5 -1.6 0 -2.2 1.5 -0.6zM567.8 342.4l0 -2.5 2.3 -0.9 2.4 1.6zM545.8 352.2l0.3 -2.3 2.1 -0.8 1.8 1.4zM560.5 353.7l-2.2 -0.3 -1 -2 1.2 -1.7zM570.6 333l-1.9 0.4 -1.3 -1.5 0.6 -1.9zM565.8 349.2l0.9 -1.4 1.7 0.2 0.8 1.6zM571.7 365.8l1.1 -0.9 1.2 0.8 0.1 1.7zM581.8 351.3l0.3 -1.3 1.3 0.2 1 1.5zM562.2 354.8l0.4 -1.8 1.8 -0.5 1.4 1.3zM573 360l-1.4 -0.2 -0.1 -1.4 1.3 -1.2zM565.6 358.4l-0.1 -2.2 1.9 -1.2 2 1zM551.7 346.9l-2.1 0.5 -1.3 -1.7 0.8 -2.3zM581.1 354.1l1.3 -1.2 1.7 0.6 0.4 1.9zM561.1 334.1l-1.6 -1.5 1 -1.9 2.6 -0.4zM577.3 354.7l-1.4 -0.7 0.2 -1.6 1.7 -0.9zM565.6 368.2l0.7 -1.7 1.8 0.3 1.1 2zM567.2 359l-1.6 0.6 -0.8 -1.5 0.8 -2.1zM540.5 359.9l-0.3 -2.2 2.1 -0.5 2.4 1.7zM544.9 365.3l0.3 -2.3 2.1 -0.8 1.8 1.4zM576.2 344.9l-1.2 -1.6 1 -1.8 2.2 -0.2zM576.6 347.3l-0.6 -1.3 1.3 -0.6 1.9 0.7zM546.3 358.8l-0.1 -2.2 1.9 -1.2 2 1zM541.9 339l1.1 -1.4 1.5 0.9 0.4 2.3zM579.9 356.1l-2.3 0 -0.4 -2.3 1.9 -2.2zM548.3 356.9l-0.6 -1.8 1.7 -0.8 2.2 1zM554.9 358l-1.5 0.5 -0.9 -1.3 0.6 -1.8zM563.6 334.6l0.1 -1.7 1.6 -0.7 1.5 1.1zM547.6 349.3l0.1 -2.2 1.8 -1.3 1.7 0.9zM536.8 345.4l-1.1 -1.1 0.8 -1.3 1.9 -0.2zM557.1 366.5l-1.1 -1.7 0.8 -1.8 1.9 -0.2zM552.6 344.2l-1.3 0.3 -0.7 -1.2 0.6 -1.5zM571.8 342.7l-1.3 -0.9 0.5 -1.5 1.8 -0.6zM570.4 337.6l0.4 -1.4 1.4 0.1 1.1 1.5zM568 351l1.4 -1.7 1.7 1.3 0.4 2.9zM548.6 367.1l-0.1 -1.9 1.9 -0.3 2 1.6zM561.9 357.1l-1.2 0.8 -0.8 -1.1 0.3 -2zM548.4 364l-0.1 -2.1 1.8 -1.2 1.9 0.9zM557.7 344.2l-0.6 -1.9 1.6 -1.3 2.2 0.6zM559.6 343.5l1.5 -1.8 2.3 0.3 0.8 2.1zM577.1 356l-1 -1.3 1.3 -1 2.2 0.3zM543 351l0.5 -2.1 2.1 0.1 1.7 2.2z"/>
<path fill="rgb(209,209,209)" d="M1017.9 392.2l1.4 -1.3 1.8 0.5 0.4 1.8zM1065.5 400.2l0.6 -1.2 1.4 0.2 0.8 1.5zM1041.5 391l0 -2.4 2.2 -1.1 2.2 1.4zM1034.7 403.5l-1.2 -1.5 0.6 -1.8 1.8 -0.3zM1055.2 399.9l-0.3 -1.9 1.6 -1 2 0.9zM1045.4 412.5l-0.1 -1.9 1.7 -0.8 1.8 1.1zM1063.6 406.7l-1.9 -1.6 0.9 -2.3 2.9 -0.7zM1025.8 398.2l1.2 -1.1 1.2 1.1 0 2.2zM1055.1 392.1l-1.1 -0.9 0.7 -1.2 1.8 -0.3zM1044 399.1l-2 -0.7 -0.5 -2 1.5 -1.3zM1035.5 407.4l0.5 -2 2 0.4 1.5 2.3zM1039.2 389.9l-1.6 -1.5 1 -1.9 2.6 -0.5zM1057.2 399.4l0.3 -2.1 1.8 -1 1.6 1.1zM1052.2 387.7l-1.9 1 -1.7 -1.3 0.2 -2.3zM1038.2 410.6l-1.3 -1.8 0.3 -2.2 1.6 -0.4zM1045.6 399.1l-1.4 -0.1 -0.1 -1.4 1.3 -1.3zM1029.8 389l-1 -1 0.9 -1.1 1.9 -0.1zM1021.4 406.3l-0.6 -2.1 1.9 -1.1 2.5 1zM1034.1 395.8l-0.4 -1.3 1.3 -0.6 1.7 0.8zM1045.5 411.2l-2.3 0.7 -1.7 -1.7 0.6 -2.4zM1042.6 399.3l0.1 -2.1 1.6 -1.4 1.5 0.7zM1033.6 389l-1.1 -1 0.9 -1.1 2 -0.1zM1040.8 394.3l-0.1 -2.1 2.1 -0.2 2.2 2zM1032.9 410.9l0.3 -1.7 1.7 -0.2 1.4 1.5zM1033.4 408.7l1.4 -1.8 2.1 0.9 0.7 2.6zM1054.3 391.8l-1.5 0 -0.2 -1.5 1.3 -1.5zM1064.5 398.9l-0.3 -2.2 2 -0.8 2.3 1.4zM1027.9 394.3l1.5 -1.6 1.7 1.4 0.2 3zM1041.7 384.5l-0.5 -1.3 1.2 -0.6 1.8 0.6zM1039.6 414.5l-0.2 -2.3 1.8 -1.5 2 0.8zM1027.7 409.5l-1.7 0.2 -0.2 -1.7 1.5 -1.9zM1050.4 410.8l-0.8 -1.8 1 -1.7 1.7 0.1zM1043.5 408.5l1.7 -1.1 1.8 0.9 0.1 1.9zM1058.9 402l-1 -1.5 0.6 -1.7 1.6 -0.2zM1058 389.3l-1.4 0.9 -1.3 -1 0.1 -1.9zM1053 407.9l-1.7 0.5 -0.5 -1.7 1.1 -2.1zM1058.1 407.6l-1.1 -2 0.7 -2.2 1.8 -0.2zM1026.8 392.7l-1.5 -0.2 0.2 -1.5 1.7 -1.3zM1033.5 391.7l-2.3 0 -1.3 -1.9 1 -1.9zM1024.9 410.6l1.6 -1.2 1.9 0.7 0.3 1.9z"/>
</g>
<g filter="url(#bl)">
<ellipse cx="362" cy="266" rx="6" ry="6" fill="rgb(0,0,0)"/>
<ellipse cx="371" cy="266" rx="7" ry="5" fill="rgb(255,255,255)"/>
<ellipse cx="380" cy="259" rx="4" ry="4" fill="rgb(255,255,255)"/>
<ellipse cx="381" cy="271" rx="3" ry="2" fill="rgb(230,230,230)"/>
<ellipse cx="332" cy="254" rx="7" ry="4" fill="rgb(242,242,242)"/>
<ellipse cx="322" cy="245" rx="3" ry="3" fill="rgb(217,217,217)"/>
<ellipse cx="406" cy="256" rx="4" ry="8" fill="rgb(26,26,26)"/>
<ellipse cx="414" cy="233" rx="4" ry="4" fill="rgb(38,38,38)"/>
<ellipse cx="432" cy="276" rx="7" ry="7" fill="rgb(13,13,13)"/>
<ellipse cx="417" cy="251" rx="3" ry="3" fill="rgb(26,26,26)"/>
<ellipse cx="453" cy="226" rx="3" ry="3" fill="rgb(38,38,38)"/>
<ellipse cx="400" cy="238" rx="4" ry="3" fill="rgb(51,51,51)"/>
<ellipse cx="460" cy="237" rx="6" ry="6" fill="rgb(255,255,255)"/>
<ellipse cx="456" cy="262" rx="9" ry="9" fill="rgb(255,255,255)"/>
<ellipse cx="448" cy="268" rx="4" ry="5" fill="rgb(230,230,230)"/>
<ellipse cx="503" cy="230" rx="5" ry="5" fill="rgb(242,242,242)"/>
<ellipse cx="504" cy="245" rx="4" ry="8" fill="rgb(230,230,230)"/>
<ellipse cx="510" cy="288" rx="7" ry="9" fill="rgb(255,255,255)"/>
<ellipse cx="492" cy="281" rx="12" ry="8" fill="rgb(26,26,26)"/>
<ellipse cx="497" cy="283" rx="5" ry="5" fill="rgb(0,0,0)"/>
<ellipse cx="492" cy="245" rx="5" ry="6" fill="rgb(51,51,51)"/>
<ellipse cx="478" cy="198" rx="8" ry="4" fill="rgb(51,51,51)"/>
<ellipse cx="625" cy="210" rx="5" ry="9" fill="rgb(255,255,255)"/>
<ellipse cx="645" cy="198" rx="7" ry="5" fill="rgb(204,204,204)"/>
<ellipse cx="672" cy="235" rx="10" ry="9" fill="rgb(0,0,0)"/>
<ellipse cx="692" cy="253" rx="4" ry="4" fill="rgb(13,13,13)"/>
<ellipse cx="690" cy="243" rx="11" ry="7" fill="rgb(255,255,255)"/>
<ellipse cx="702" cy="236" rx="10" ry="8" fill="rgb(204,204,204)"/>
<ellipse cx="698" cy="249" rx="8" ry="4" fill="rgb(217,217,217)"/>
<ellipse cx="751" cy="240" rx="15" ry="5" fill="rgb(13,13,13)" transform="rotate(25 751 240)"/>
<ellipse cx="763" cy="246" rx="4" ry="3" fill="rgb(26,26,26)"/>
<ellipse cx="762" cy="249" rx="8" ry="3" fill="rgb(255,255,255)"/>
<ellipse cx="743" cy="222" rx="4" ry="3" fill="rgb(230,230,230)"/>
<ellipse cx="873" cy="262" rx="7" ry="21" fill="rgb(0,0,0)"/>
<ellipse cx="868" cy="248" rx="5" ry="8" fill="rgb(13,13,13)"/>
<ellipse cx="896" cy="280" rx="15" ry="7" fill="rgb(13,13,13)"/>
<ellipse cx="885" cy="275" rx="6" ry="8" fill="rgb(13,13,13)"/>
<ellipse cx="910" cy="230" rx="6" ry="4" fill="rgb(26,26,26)"/>
<ellipse cx="932" cy="229" rx="8" ry="6" fill="rgb(26,26,26)"/>
<ellipse cx="940" cy="240" rx="6" ry="6" fill="rgb(38,38,38)"/>
<ellipse cx="913" cy="262" rx="22" ry="14" fill="rgb(255,255,255)"/>
<ellipse cx="900" cy="257" rx="8" ry="8" fill="rgb(255,255,255)"/>
<ellipse cx="953" cy="236" rx="10" ry="14" fill="rgb(242,242,242)"/>
<ellipse cx="962" cy="252" rx="6" ry="8" fill="rgb(217,217,217)"/>
<ellipse cx="882" cy="211" rx="5" ry="4" fill="rgb(217,217,217)"/>
<ellipse cx="962" cy="215" rx="4" ry="4" fill="rgb(13,13,13)"/>
<ellipse cx="980" cy="226" rx="7" ry="5" fill="rgb(217,217,217)"/>
<ellipse cx="994" cy="254" rx="11" ry="12" fill="rgb(0,0,0)"/>
<ellipse cx="1015" cy="258" rx="11" ry="9" fill="rgb(255,255,255)"/>
<ellipse cx="1047" cy="236" rx="11" ry="10" fill="rgb(0,0,0)"/>
<ellipse cx="1045" cy="224" rx="4" ry="5" fill="rgb(38,38,38)"/>
<ellipse cx="1026" cy="238" rx="4" ry="4" fill="rgb(13,13,13)"/>
<ellipse cx="1066" cy="234" rx="12" ry="7" fill="rgb(255,255,255)"/>
<ellipse cx="1033" cy="243" rx="5" ry="5" fill="rgb(230,230,230)"/>
<ellipse cx="337" cy="342" rx="7" ry="7" fill="rgb(13,13,13)"/>
<ellipse cx="323" cy="365" rx="7" ry="10" fill="rgb(13,13,13)"/>
<ellipse cx="326" cy="346" rx="5" ry="8" fill="rgb(255,255,255)"/>
<ellipse cx="311" cy="370" rx="4" ry="8" fill="rgb(255,255,255)"/>
<ellipse cx="350" cy="371" rx="9" ry="6" fill="rgb(242,242,242)"/>
<ellipse cx="403" cy="350" rx="9" ry="15" fill="rgb(255,255,255)"/>
<ellipse cx="413" cy="345" rx="6" ry="8" fill="rgb(26,26,26)"/>
<ellipse cx="429" cy="357" rx="12" ry="8" fill="rgb(0,0,0)"/>
<ellipse cx="434" cy="411" rx="3" ry="3" fill="rgb(230,230,230)"/>
<ellipse cx="447" cy="346" rx="4" ry="4" fill="rgb(26,26,26)"/>
<ellipse cx="500" cy="398" rx="4" ry="4" fill="rgb(13,13,13)"/>
<ellipse cx="520" cy="403" rx="4" ry="4" fill="rgb(13,13,13)"/>
<ellipse cx="465" cy="399" rx="13" ry="10" fill="rgb(230,230,230)"/>
<ellipse cx="512" cy="357" rx="9" ry="6" fill="rgb(204,204,204)"/>
<ellipse cx="527" cy="344" rx="5" ry="5" fill="rgb(204,204,204)"/>
<ellipse cx="553" cy="352" rx="14" ry="14" fill="rgb(255,255,255)"/>
<ellipse cx="554" cy="338" rx="5" ry="5" fill="rgb(26,26,26)"/>
<ellipse cx="546" cy="407" rx="10" ry="7" fill="rgb(255,255,255)"/>
<ellipse cx="560" cy="398" rx="14" ry="7" fill="rgb(0,0,0)"/>
<ellipse cx="592" cy="345" rx="11" ry="20" fill="rgb(0,0,0)"/>
<ellipse cx="575" cy="351" rx="8" ry="8" fill="rgb(26,26,26)"/>
<ellipse cx="578" cy="362" rx="10" ry="6" fill="rgb(255,255,255)"/>
<ellipse cx="577" cy="368" rx="5" ry="3" fill="rgb(26,26,26)"/>
<ellipse cx="742" cy="350" rx="13" ry="12" fill="rgb(255,255,255)"/>
<ellipse cx="703" cy="363" rx="5" ry="5" fill="rgb(230,230,230)"/>
<ellipse cx="781" cy="375" rx="7" ry="6" fill="rgb(242,242,242)"/>
<ellipse cx="713" cy="361" rx="5" ry="5" fill="rgb(0,0,0)"/>
<ellipse cx="762" cy="345" rx="17" ry="13" fill="rgb(0,0,0)"/>
<ellipse cx="751" cy="352" rx="6" ry="6" fill="rgb(0,0,0)"/>
<ellipse cx="829" cy="356" rx="4" ry="4" fill="rgb(255,255,255)"/>
<ellipse cx="836" cy="353" rx="3" ry="3" fill="rgb(26,26,26)"/>
<ellipse cx="846" cy="354" rx="2" ry="2" fill="rgb(230,230,230)"/>
<ellipse cx="881" cy="356" rx="5" ry="5" fill="rgb(51,51,51)"/>
<ellipse cx="1027" cy="330" rx="9" ry="9" fill="rgb(13,13,13)"/>
<ellipse cx="1092" cy="405" rx="8" ry="15" fill="rgb(26,26,26)"/>
<ellipse cx="982" cy="362" rx="2" ry="2" fill="rgb(26,26,26)"/>
<ellipse cx="992" cy="329" rx="3" ry="3" fill="rgb(26,26,26)"/>
</g>
</g>
<filter id="bd0" x="308" y="100" width="792" height="2" filterUnits="userSpaceOnUse" color-interpolation-filters="sRGB">
<feTurbulence type="fractalNoise" baseFrequency="0.22 0.8" numOctaves="2" seed="21"/>
<feColorMatrix type="matrix" values="2.2 0 0 0 -0.6000000000000001 2.2 0 0 0 -0.6000000000000001 2.2 0 0 0 -0.6000000000000001 0 0 0 0 1"/>
<feComponentTransfer>
<feFuncR type="discrete" tableValues="0.039 0.039 0.039 0.039 0.039 0.039 0.039 0.039 0.039 0.039 0.039 0.039 0.118 0.118 0.118 0.118 0.118 0.118 0.118 0.118 0.667 0.667 0.667 0.667 0.667 0.667 0.667 0.941 0.941 0.941 0.941 0.941 0.941 0.941 0.941 0.941 0.941 0.941 0.941 0.941 0.941 0.941 0.941 0.941 0.941 0.988 0.988 0.988 0.988 0.988 0.988 0.988 1 1 1 1 1 1 1 1 1 1 1 1 1 1 1 1 1 1 1 1 1 1 1 1 1 1 1 1 1 1 1 1 1 1 1 1 1 1 1 1 1 1 1 1 1 1 1 1"/>
<feFuncG type="discrete" tableValues="0.039 0.039 0.039 0.039 0.039 0.039 0.039 0.039 0.039 0.039 0.039 0.039 0.118 0.118 0.118 0.118 0.118 0.118 0.118 0.118 0 0 0 0 0 0 0 0.078 0.078 0.078 0.078 0.078 0.078 0.078 0.078 0.078 0.078 0.078 0.078 0.078 0.078 0.078 0.078 0.078 0.078 0.275 0.275 0.275 0.275 0.275 0.275 0.275 0.373 0.373 0.373 0.373 0.373 0.373 0.373 0.49 0.49 0.49 0.49 0.49 0.49 0.49 0.608 0.608 0.608 0.608 0.608 0.608 0.608 0.608 0.843 0.843 0.843 0.843 0.843 0.843 0.843 0.843 0.843 0.843 0.843 0.98 0.98 0.98 0.98 0.98 0.98 0.98 0.98 0.98 0.98 0.98 0.98 0.98 0.98 0.98"/>
<feFuncB type="discrete" tableValues="0.431 0.431 0.431 0.431 0.431 0.431 0.431 0.431 0.431 0.431 0.431 0.431 0.843 0.843 0.843 0.843 0.843 0.843 0.843 0.843 0 0 0 0 0 0 0 0 0 0 0 0 0 0 0 0 0 0 0 0 0 0 0 0 0 0.059 0.059 0.059 0.059 0.059 0.059 0.059 0.11 0.11 0.11 0.11 0.11 0.11 0.11 0.196 0.196 0.196 0.196 0.196 0.196 0.196 0.314 0.314 0.314 0.314 0.314 0.314 0.314 0.314 0.196 0.196 0.196 0.196 0.196 0.196 0.196 0.196 0.196 0.196 0.196 0.667 0.667 0.667 0.667 0.667 0.667 0.667 0.667 0.667 0.667 0.667 0.667 0.667 0.667 0.667"/>
</feComponentTransfer>
</filter>
<rect x="308" y="100" width="792" height="2" filter="url(#bd0)"/>
<filter id="bd1" x="308" y="102" width="792" height="3" filterUnits="userSpaceOnUse" color-interpolation-filters="sRGB">
<feTurbulence type="fractalNoise" baseFrequency="0.25 0.8" numOctaves="2" seed="22"/>
<feColorMatrix type="matrix" values="1.8 0 0 0 -0.37 1.8 0 0 0 -0.37 1.8 0 0 0 -0.37 0 0 0 0 1"/>
<feComponentTransfer>
<feFuncR type="discrete" tableValues="0.039 0.039 0.039 0.039 0.039 0.039 0.039 0.039 0.039 0.039 0.039 0.039 0.118 0.118 0.118 0.118 0.118 0.118 0.118 0.118 0.667 0.667 0.667 0.667 0.667 0.667 0.667 0.941 0.941 0.941 0.941 0.941 0.941 0.941 0.941 0.941 0.941 0.941 0.941 0.941 0.941 0.941 0.941 0.941 0.941 0.988 0.988 0.988 0.988 0.988 0.988 0.988 1 1 1 1 1 1 1 1 1 1 1 1 1 1 1 1 1 1 1 1 1 1 1 1 1 1 1 1 1 1 1 1 1 1 1 1 1 1 1 1 1 1 1 1 1 1 1 1"/>
<feFuncG type="discrete" tableValues="0.039 0.039 0.039 0.039 0.039 0.039 0.039 0.039 0.039 0.039 0.039 0.039 0.118 0.118 0.118 0.118 0.118 0.118 0.118 0.118 0 0 0 0 0 0 0 0.078 0.078 0.078 0.078 0.078 0.078 0.078 0.078 0.078 0.078 0.078 0.078 0.078 0.078 0.078 0.078 0.078 0.078 0.275 0.275 0.275 0.275 0.275 0.275 0.275 0.373 0.373 0.373 0.373 0.373 0.373 0.373 0.49 0.49 0.49 0.49 0.49 0.49 0.49 0.608 0.608 0.608 0.608 0.608 0.608 0.608 0.608 0.843 0.843 0.843 0.843 0.843 0.843 0.843 0.843 0.843 0.843 0.843 0.98 0.98 0.98 0.98 0.98 0.98 0.98 0.98 0.98 0.98 0.98 0.98 0.98 0.98 0.98"/>
<feFuncB type="discrete" tableValues="0.431 0.431 0.431 0.431 0.431 0.431 0.431 0.431 0.431 0.431 0.431 0.431 0.843 0.843 0.843 0.843 0.843 0.843 0.843 0.843 0 0 0 0 0 0 0 0 0 0 0 0 0 0 0 0 0 0 0 0 0 0 0 0 0 0.059 0.059 0.059 0.059 0.059 0.059 0.059 0.11 0.11 0.11 0.11 0.11 0.11 0.11 0.196 0.196 0.196 0.196 0.196 0.196 0.196 0.314 0.314 0.314 0.314 0.314 0.314 0.314 0.314 0.196 0.196 0.196 0.196 0.196 0.196 0.196 0.196 0.196 0.196 0.196 0.667 0.667 0.667 0.667 0.667 0.667 0.667 0.667 0.667 0.667 0.667 0.667 0.667 0.667 0.667"/>
</feComponentTransfer>
</filter>
<rect x="308" y="102" width="792" height="3" filter="url(#bd1)"/>
<filter id="bd2" x="308" y="105" width="792" height="7" filterUnits="userSpaceOnUse" color-interpolation-filters="sRGB">
<feTurbulence type="fractalNoise" baseFrequency="0.28 0.8" numOctaves="2" seed="23"/>
<feColorMatrix type="matrix" values="1.35 0 0 0 -0.13500000000000004 1.35 0 0 0 -0.13500000000000004 1.35 0 0 0 -0.13500000000000004 0 0 0 0 1"/>
<feComponentTransfer>
<feFuncR type="discrete" tableValues="0.039 0.039 0.039 0.039 0.039 0.039 0.039 0.039 0.039 0.039 0.039 0.039 0.118 0.118 0.118 0.118 0.118 0.118 0.118 0.118 0.667 0.667 0.667 0.667 0.667 0.667 0.667 0.941 0.941 0.941 0.941 0.941 0.941 0.941 0.941 0.941 0.941 0.941 0.941 0.941 0.941 0.941 0.941 0.941 0.941 0.988 0.988 0.988 0.988 0.988 0.988 0.988 1 1 1 1 1 1 1 1 1 1 1 1 1 1 1 1 1 1 1 1 1 1 1 1 1 1 1 1 1 1 1 1 1 1 1 1 1 1 1 1 1 1 1 1 1 1 1 1"/>
<feFuncG type="discrete" tableValues="0.039 0.039 0.039 0.039 0.039 0.039 0.039 0.039 0.039 0.039 0.039 0.039 0.118 0.118 0.118 0.118 0.118 0.118 0.118 0.118 0 0 0 0 0 0 0 0.078 0.078 0.078 0.078 0.078 0.078 0.078 0.078 0.078 0.078 0.078 0.078 0.078 0.078 0.078 0.078 0.078 0.078 0.275 0.275 0.275 0.275 0.275 0.275 0.275 0.373 0.373 0.373 0.373 0.373 0.373 0.373 0.49 0.49 0.49 0.49 0.49 0.49 0.49 0.608 0.608 0.608 0.608 0.608 0.608 0.608 0.608 0.843 0.843 0.843 0.843 0.843 0.843 0.843 0.843 0.843 0.843 0.843 0.98 0.98 0.98 0.98 0.98 0.98 0.98 0.98 0.98 0.98 0.98 0.98 0.98 0.98 0.98"/>
<feFuncB type="discrete" tableValues="0.431 0.431 0.431 0.431 0.431 0.431 0.431 0.431 0.431 0.431 0.431 0.431 0.843 0.843 0.843 0.843 0.843 0.843 0.843 0.843 0 0 0 0 0 0 0 0 0 0 0 0 0 0 0 0 0 0 0 0 0 0 0 0 0 0.059 0.059 0.059 0.059 0.059 0.059 0.059 0.11 0.11 0.11 0.11 0.11 0.11 0.11 0.196 0.196 0.196 0.196 0.196 0.196 0.196 0.314 0.314 0.314 0.314 0.314 0.314 0.314 0.314 0.196 0.196 0.196 0.196 0.196 0.196 0.196 0.196 0.196 0.196 0.196 0.667 0.667 0.667 0.667 0.667 0.667 0.667 0.667 0.667 0.667 0.667 0.667 0.667 0.667 0.667"/>
</feComponentTransfer>
</filter>
<rect x="308" y="105" width="792" height="7" filter="url(#bd2)"/>
<filter id="bd3" x="308" y="112" width="792" height="22" filterUnits="userSpaceOnUse" color-interpolation-filters="sRGB">
<feTurbulence type="fractalNoise" baseFrequency="0.3 0.6" numOctaves="2" seed="24"/>
<feColorMatrix type="matrix" values="1.05 0 0 0 -0.05500000000000002 1.05 0 0 0 -0.05500000000000002 1.05 0 0 0 -0.05500000000000002 0 0 0 0 1"/>
<feComponentTransfer>
<feFuncR type="discrete" tableValues="0.039 0.039 0.039 0.039 0.039 0.039 0.039 0.039 0.039 0.039 0.039 0.039 0.118 0.118 0.118 0.118 0.118 0.118 0.118 0.118 0.667 0.667 0.667 0.667 0.667 0.667 0.667 0.941 0.941 0.941 0.941 0.941 0.941 0.941 0.941 0.941 0.941 0.941 0.941 0.941 0.941 0.941 0.941 0.941 0.941 0.988 0.988 0.988 0.988 0.988 0.988 0.988 1 1 1 1 1 1 1 1 1 1 1 1 1 1 1 1 1 1 1 1 1 1 1 1 1 1 1 1 1 1 1 1 1 1 1 1 1 1 1 1 1 1 1 1 1 1 1 1"/>
<feFuncG type="discrete" tableValues="0.039 0.039 0.039 0.039 0.039 0.039 0.039 0.039 0.039 0.039 0.039 0.039 0.118 0.118 0.118 0.118 0.118 0.118 0.118 0.118 0 0 0 0 0 0 0 0.078 0.078 0.078 0.078 0.078 0.078 0.078 0.078 0.078 0.078 0.078 0.078 0.078 0.078 0.078 0.078 0.078 0.078 0.275 0.275 0.275 0.275 0.275 0.275 0.275 0.373 0.373 0.373 0.373 0.373 0.373 0.373 0.49 0.49 0.49 0.49 0.49 0.49 0.49 0.608 0.608 0.608 0.608 0.608 0.608 0.608 0.608 0.843 0.843 0.843 0.843 0.843 0.843 0.843 0.843 0.843 0.843 0.843 0.98 0.98 0.98 0.98 0.98 0.98 0.98 0.98 0.98 0.98 0.98 0.98 0.98 0.98 0.98"/>
<feFuncB type="discrete" tableValues="0.431 0.431 0.431 0.431 0.431 0.431 0.431 0.431 0.431 0.431 0.431 0.431 0.843 0.843 0.843 0.843 0.843 0.843 0.843 0.843 0 0 0 0 0 0 0 0 0 0 0 0 0 0 0 0 0 0 0 0 0 0 0 0 0 0.059 0.059 0.059 0.059 0.059 0.059 0.059 0.11 0.11 0.11 0.11 0.11 0.11 0.11 0.196 0.196 0.196 0.196 0.196 0.196 0.196 0.314 0.314 0.314 0.314 0.314 0.314 0.314 0.314 0.196 0.196 0.196 0.196 0.196 0.196 0.196 0.196 0.196 0.196 0.196 0.667 0.667 0.667 0.667 0.667 0.667 0.667 0.667 0.667 0.667 0.667 0.667 0.667 0.667 0.667"/>
</feComponentTransfer>
</filter>
<rect x="308" y="112" width="792" height="22" filter="url(#bd3)"/>
<filter id="bd4" x="308" y="134" width="792" height="20" filterUnits="userSpaceOnUse" color-interpolation-filters="sRGB">
<feTurbulence type="fractalNoise" baseFrequency="0.36 0.55" numOctaves="2" seed="31"/>
<feColorMatrix type="matrix" values="1.0 0 0 0 -0.02 1.0 0 0 0 -0.02 1.0 0 0 0 -0.02 0 0 0 0 1"/>
<feComponentTransfer>
<feFuncR type="discrete" tableValues="0.039 0.039 0.039 0.039 0.039 0.039 0.039 0.039 0.039 0.039 0.039 0.039 0.118 0.118 0.118 0.118 0.118 0.118 0.118 0.118 0.667 0.667 0.667 0.667 0.667 0.667 0.667 0.941 0.941 0.941 0.941 0.941 0.941 0.941 0.941 0.941 0.941 0.941 0.941 0.941 0.941 0.941 0.941 0.941 0.941 0.988 0.988 0.988 0.988 0.988 0.988 0.988 1 1 1 1 1 1 1 1 1 1 1 1 1 1 1 1 1 1 1 1 1 1 1 1 1 1 1 1 1 1 1 1 1 1 1 1 1 1 1 1 1 1 1 1 1 1 1 1"/>
<feFuncG type="discrete" tableValues="0.039 0.039 0.039 0.039 0.039 0.039 0.039 0.039 0.039 0.039 0.039 0.039 0.118 0.118 0.118 0.118 0.118 0.118 0.118 0.118 0 0 0 0 0 0 0 0.078 0.078 0.078 0.078 0.078 0.078 0.078 0.078 0.078 0.078 0.078 0.078 0.078 0.078 0.078 0.078 0.078 0.078 0.275 0.275 0.275 0.275 0.275 0.275 0.275 0.373 0.373 0.373 0.373 0.373 0.373 0.373 0.49 0.49 0.49 0.49 0.49 0.49 0.49 0.608 0.608 0.608 0.608 0.608 0.608 0.608 0.608 0.843 0.843 0.843 0.843 0.843 0.843 0.843 0.843 0.843 0.843 0.843 0.98 0.98 0.98 0.98 0.98 0.98 0.98 0.98 0.98 0.98 0.98 0.98 0.98 0.98 0.98"/>
<feFuncB type="discrete" tableValues="0.431 0.431 0.431 0.431 0.431 0.431 0.431 0.431 0.431 0.431 0.431 0.431 0.843 0.843 0.843 0.843 0.843 0.843 0.843 0.843 0 0 0 0 0 0 0 0 0 0 0 0 0 0 0 0 0 0 0 0 0 0 0 0 0 0.059 0.059 0.059 0.059 0.059 0.059 0.059 0.11 0.11 0.11 0.11 0.11 0.11 0.11 0.196 0.196 0.196 0.196 0.196 0.196 0.196 0.314 0.314 0.314 0.314 0.314 0.314 0.314 0.314 0.196 0.196 0.196 0.196 0.196 0.196 0.196 0.196 0.196 0.196 0.196 0.667 0.667 0.667 0.667 0.667 0.667 0.667 0.667 0.667 0.667 0.667 0.667 0.667 0.667 0.667"/>
</feComponentTransfer>
</filter>
<rect x="308" y="134" width="792" height="20" filter="url(#bd4)"/>
<filter id="bd5" x="308" y="458" width="792" height="18" filterUnits="userSpaceOnUse" color-interpolation-filters="sRGB">
<feTurbulence type="fractalNoise" baseFrequency="0.34 0.65" numOctaves="2" seed="25"/>
<feColorMatrix type="matrix" values="1.08 0 0 0 -0.05000000000000004 1.08 0 0 0 -0.05000000000000004 1.08 0 0 0 -0.05000000000000004 0 0 0 0 1"/>
<feComponentTransfer>
<feFuncR type="discrete" tableValues="0.039 0.039 0.039 0.039 0.039 0.039 0.039 0.039 0.039 0.039 0.039 0.039 0.118 0.118 0.118 0.118 0.118 0.118 0.118 0.118 0.667 0.667 0.667 0.667 0.667 0.667 0.667 0.941 0.941 0.941 0.941 0.941 0.941 0.941 0.941 0.941 0.941 0.941 0.941 0.941 0.941 0.941 0.941 0.941 0.941 0.988 0.988 0.988 0.988 0.988 0.988 0.988 1 1 1 1 1 1 1 1 1 1 1 1 1 1 1 1 1 1 1 1 1 1 1 1 1 1 1 1 1 1 1 1 1 1 1 1 1 1 1 1 1 1 1 1 1 1 1 1"/>
<feFuncG type="discrete" tableValues="0.039 0.039 0.039 0.039 0.039 0.039 0.039 0.039 0.039 0.039 0.039 0.039 0.118 0.118 0.118 0.118 0.118 0.118 0.118 0.118 0 0 0 0 0 0 0 0.078 0.078 0.078 0.078 0.078 0.078 0.078 0.078 0.078 0.078 0.078 0.078 0.078 0.078 0.078 0.078 0.078 0.078 0.275 0.275 0.275 0.275 0.275 0.275 0.275 0.373 0.373 0.373 0.373 0.373 0.373 0.373 0.49 0.49 0.49 0.49 0.49 0.49 0.49 0.608 0.608 0.608 0.608 0.608 0.608 0.608 0.608 0.843 0.843 0.843 0.843 0.843 0.843 0.843 0.843 0.843 0.843 0.843 0.98 0.98 0.98 0.98 0.98 0.98 0.98 0.98 0.98 0.98 0.98 0.98 0.98 0.98 0.98"/>
<feFuncB type="discrete" tableValues="0.431 0.431 0.431 0.431 0.431 0.431 0.431 0.431 0.431 0.431 0.431 0.431 0.843 0.843 0.843 0.843 0.843 0.843 0.843 0.843 0 0 0 0 0 0 0 0 0 0 0 0 0 0 0 0 0 0 0 0 0 0 0 0 0 0.059 0.059 0.059 0.059 0.059 0.059 0.059 0.11 0.11 0.11 0.11 0.11 0.11 0.11 0.196 0.196 0.196 0.196 0.196 0.196 0.196 0.314 0.314 0.314 0.314 0.314 0.314 0.314 0.314 0.196 0.196 0.196 0.196 0.196 0.196 0.196 0.196 0.196 0.196 0.196 0.667 0.667 0.667 0.667 0.667 0.667 0.667 0.667 0.667 0.667 0.667 0.667 0.667 0.667 0.667"/>
</feComponentTransfer>
</filter>
<rect x="308" y="458" width="792" height="18" filter="url(#bd5)"/>
<filter id="bd6" x="308" y="476" width="792" height="14" filterUnits="userSpaceOnUse" color-interpolation-filters="sRGB">
<feTurbulence type="fractalNoise" baseFrequency="0.24 0.85" numOctaves="2" seed="26"/>
<feColorMatrix type="matrix" values="1.3 0 0 0 -0.15000000000000002 1.3 0 0 0 -0.15000000000000002 1.3 0 0 0 -0.15000000000000002 0 0 0 0 1"/>
<feComponentTransfer>
<feFuncR type="discrete" tableValues="0.039 0.039 0.039 0.039 0.039 0.039 0.039 0.039 0.039 0.039 0.039 0.039 0.118 0.118 0.118 0.118 0.118 0.118 0.118 0.118 0.667 0.667 0.667 0.667 0.667 0.667 0.667 0.941 0.941 0.941 0.941 0.941 0.941 0.941 0.941 0.941 0.941 0.941 0.941 0.941 0.941 0.941 0.941 0.941 0.941 0.988 0.988 0.988 0.988 0.988 0.988 0.988 1 1 1 1 1 1 1 1 1 1 1 1 1 1 1 1 1 1 1 1 1 1 1 1 1 1 1 1 1 1 1 1 1 1 1 1 1 1 1 1 1 1 1 1 1 1 1 1"/>
<feFuncG type="discrete" tableValues="0.039 0.039 0.039 0.039 0.039 0.039 0.039 0.039 0.039 0.039 0.039 0.039 0.118 0.118 0.118 0.118 0.118 0.118 0.118 0.118 0 0 0 0 0 0 0 0.078 0.078 0.078 0.078 0.078 0.078 0.078 0.078 0.078 0.078 0.078 0.078 0.078 0.078 0.078 0.078 0.078 0.078 0.275 0.275 0.275 0.275 0.275 0.275 0.275 0.373 0.373 0.373 0.373 0.373 0.373 0.373 0.49 0.49 0.49 0.49 0.49 0.49 0.49 0.608 0.608 0.608 0.608 0.608 0.608 0.608 0.608 0.843 0.843 0.843 0.843 0.843 0.843 0.843 0.843 0.843 0.843 0.843 0.98 0.98 0.98 0.98 0.98 0.98 0.98 0.98 0.98 0.98 0.98 0.98 0.98 0.98 0.98"/>
<feFuncB type="discrete" tableValues="0.431 0.431 0.431 0.431 0.431 0.431 0.431 0.431 0.431 0.431 0.431 0.431 0.843 0.843 0.843 0.843 0.843 0.843 0.843 0.843 0 0 0 0 0 0 0 0 0 0 0 0 0 0 0 0 0 0 0 0 0 0 0 0 0 0.059 0.059 0.059 0.059 0.059 0.059 0.059 0.11 0.11 0.11 0.11 0.11 0.11 0.11 0.196 0.196 0.196 0.196 0.196 0.196 0.196 0.314 0.314 0.314 0.314 0.314 0.314 0.314 0.314 0.196 0.196 0.196 0.196 0.196 0.196 0.196 0.196 0.196 0.196 0.196 0.667 0.667 0.667 0.667 0.667 0.667 0.667 0.667 0.667 0.667 0.667 0.667 0.667 0.667 0.667"/>
</feComponentTransfer>
</filter>
<rect x="308" y="476" width="792" height="14" filter="url(#bd6)"/>
<filter id="bd7" x="308" y="490" width="792" height="8" filterUnits="userSpaceOnUse" color-interpolation-filters="sRGB">
<feTurbulence type="fractalNoise" baseFrequency="0.16 1.0" numOctaves="2" seed="27"/>
<feColorMatrix type="matrix" values="1.65 0 0 0 -0.32499999999999996 1.65 0 0 0 -0.32499999999999996 1.65 0 0 0 -0.32499999999999996 0 0 0 0 1"/>
<feComponentTransfer>
<feFuncR type="discrete" tableValues="0.039 0.039 0.039 0.039 0.039 0.039 0.039 0.039 0.039 0.039 0.039 0.039 0.118 0.118 0.118 0.118 0.118 0.118 0.118 0.118 0.667 0.667 0.667 0.667 0.667 0.667 0.667 0.941 0.941 0.941 0.941 0.941 0.941 0.941 0.941 0.941 0.941 0.941 0.941 0.941 0.941 0.941 0.941 0.941 0.941 0.988 0.988 0.988 0.988 0.988 0.988 0.988 1 1 1 1 1 1 1 1 1 1 1 1 1 1 1 1 1 1 1 1 1 1 1 1 1 1 1 1 1 1 1 1 1 1 1 1 1 1 1 1 1 1 1 1 1 1 1 1"/>
<feFuncG type="discrete" tableValues="0.039 0.039 0.039 0.039 0.039 0.039 0.039 0.039 0.039 0.039 0.039 0.039 0.118 0.118 0.118 0.118 0.118 0.118 0.118 0.118 0 0 0 0 0 0 0 0.078 0.078 0.078 0.078 0.078 0.078 0.078 0.078 0.078 0.078 0.078 0.078 0.078 0.078 0.078 0.078 0.078 0.078 0.275 0.275 0.275 0.275 0.275 0.275 0.275 0.373 0.373 0.373 0.373 0.373 0.373 0.373 0.49 0.49 0.49 0.49 0.49 0.49 0.49 0.608 0.608 0.608 0.608 0.608 0.608 0.608 0.608 0.843 0.843 0.843 0.843 0.843 0.843 0.843 0.843 0.843 0.843 0.843 0.98 0.98 0.98 0.98 0.98 0.98 0.98 0.98 0.98 0.98 0.98 0.98 0.98 0.98 0.98"/>
<feFuncB type="discrete" tableValues="0.431 0.431 0.431 0.431 0.431 0.431 0.431 0.431 0.431 0.431 0.431 0.431 0.843 0.843 0.843 0.843 0.843 0.843 0.843 0.843 0 0 0 0 0 0 0 0 0 0 0 0 0 0 0 0 0 0 0 0 0 0 0 0 0 0.059 0.059 0.059 0.059 0.059 0.059 0.059 0.11 0.11 0.11 0.11 0.11 0.11 0.11 0.196 0.196 0.196 0.196 0.196 0.196 0.196 0.314 0.314 0.314 0.314 0.314 0.314 0.314 0.314 0.196 0.196 0.196 0.196 0.196 0.196 0.196 0.196 0.196 0.196 0.196 0.667 0.667 0.667 0.667 0.667 0.667 0.667 0.667 0.667 0.667 0.667 0.667 0.667 0.667 0.667"/>
</feComponentTransfer>
</filter>
<rect x="308" y="490" width="792" height="8" filter="url(#bd7)"/>
<filter id="bd8" x="308" y="498" width="792" height="9" filterUnits="userSpaceOnUse" color-interpolation-filters="sRGB">
<feTurbulence type="fractalNoise" baseFrequency="0.13 1.0" numOctaves="2" seed="28"/>
<feColorMatrix type="matrix" values="2.1 0 0 0 -0.53 2.1 0 0 0 -0.53 2.1 0 0 0 -0.53 0 0 0 0 1"/>
<feComponentTransfer>
<feFuncR type="discrete" tableValues="0.039 0.039 0.039 0.039 0.039 0.039 0.039 0.039 0.039 0.039 0.039 0.039 0.118 0.118 0.118 0.118 0.118 0.118 0.118 0.118 0.667 0.667 0.667 0.667 0.667 0.667 0.667 0.941 0.941 0.941 0.941 0.941 0.941 0.941 0.941 0.941 0.941 0.941 0.941 0.941 0.941 0.941 0.941 0.941 0.941 0.988 0.988 0.988 0.988 0.988 0.988 0.988 1 1 1 1 1 1 1 1 1 1 1 1 1 1 1 1 1 1 1 1 1 1 1 1 1 1 1 1 1 1 1 1 1 1 1 1 1 1 1 1 1 1 1 1 1 1 1 1"/>
<feFuncG type="discrete" tableValues="0.039 0.039 0.039 0.039 0.039 0.039 0.039 0.039 0.039 0.039 0.039 0.039 0.118 0.118 0.118 0.118 0.118 0.118 0.118 0.118 0 0 0 0 0 0 0 0.078 0.078 0.078 0.078 0.078 0.078 0.078 0.078 0.078 0.078 0.078 0.078 0.078 0.078 0.078 0.078 0.078 0.078 0.275 0.275 0.275 0.275 0.275 0.275 0.275 0.373 0.373 0.373 0.373 0.373 0.373 0.373 0.49 0.49 0.49 0.49 0.49 0.49 0.49 0.608 0.608 0.608 0.608 0.608 0.608 0.608 0.608 0.843 0.843 0.843 0.843 0.843 0.843 0.843 0.843 0.843 0.843 0.843 0.98 0.98 0.98 0.98 0.98 0.98 0.98 0.98 0.98 0.98 0.98 0.98 0.98 0.98 0.98"/>
<feFuncB type="discrete" tableValues="0.431 0.431 0.431 0.431 0.431 0.431 0.431 0.431 0.431 0.431 0.431 0.431 0.843 0.843 0.843 0.843 0.843 0.843 0.843 0.843 0 0 0 0 0 0 0 0 0 0 0 0 0 0 0 0 0 0 0 0 0 0 0 0 0 0.059 0.059 0.059 0.059 0.059 0.059 0.059 0.11 0.11 0.11 0.11 0.11 0.11 0.11 0.196 0.196 0.196 0.196 0.196 0.196 0.196 0.314 0.314 0.314 0.314 0.314 0.314 0.314 0.314 0.196 0.196 0.196 0.196 0.196 0.196 0.196 0.196 0.196 0.196 0.196 0.667 0.667 0.667 0.667 0.667 0.667 0.667 0.667 0.667 0.667 0.667 0.667 0.667 0.667 0.667"/>
</feComponentTransfer>
</filter>
<rect x="308" y="498" width="792" height="9" filter="url(#bd8)"/>
<filter id="bd9" x="308" y="100" width="4" height="407" filterUnits="userSpaceOnUse" color-interpolation-filters="sRGB">
<feTurbulence type="fractalNoise" baseFrequency="0.6" numOctaves="2" seed="29"/>
<feColorMatrix type="matrix" values="2.0 0 0 0 -0.5 2.0 0 0 0 -0.5 2.0 0 0 0 -0.5 0 0 0 0 1"/>
<feComponentTransfer>
<feFuncR type="discrete" tableValues="0.039 0.039 0.039 0.039 0.039 0.039 0.039 0.039 0.039 0.039 0.039 0.039 0.118 0.118 0.118 0.118 0.118 0.118 0.118 0.118 0.667 0.667 0.667 0.667 0.667 0.667 0.667 0.941 0.941 0.941 0.941 0.941 0.941 0.941 0.941 0.941 0.941 0.941 0.941 0.941 0.941 0.941 0.941 0.941 0.941 0.988 0.988 0.988 0.988 0.988 0.988 0.988 1 1 1 1 1 1 1 1 1 1 1 1 1 1 1 1 1 1 1 1 1 1 1 1 1 1 1 1 1 1 1 1 1 1 1 1 1 1 1 1 1 1 1 1 1 1 1 1"/>
<feFuncG type="discrete" tableValues="0.039 0.039 0.039 0.039 0.039 0.039 0.039 0.039 0.039 0.039 0.039 0.039 0.118 0.118 0.118 0.118 0.118 0.118 0.118 0.118 0 0 0 0 0 0 0 0.078 0.078 0.078 0.078 0.078 0.078 0.078 0.078 0.078 0.078 0.078 0.078 0.078 0.078 0.078 0.078 0.078 0.078 0.275 0.275 0.275 0.275 0.275 0.275 0.275 0.373 0.373 0.373 0.373 0.373 0.373 0.373 0.49 0.49 0.49 0.49 0.49 0.49 0.49 0.608 0.608 0.608 0.608 0.608 0.608 0.608 0.608 0.843 0.843 0.843 0.843 0.843 0.843 0.843 0.843 0.843 0.843 0.843 0.98 0.98 0.98 0.98 0.98 0.98 0.98 0.98 0.98 0.98 0.98 0.98 0.98 0.98 0.98"/>
<feFuncB type="discrete" tableValues="0.431 0.431 0.431 0.431 0.431 0.431 0.431 0.431 0.431 0.431 0.431 0.431 0.843 0.843 0.843 0.843 0.843 0.843 0.843 0.843 0 0 0 0 0 0 0 0 0 0 0 0 0 0 0 0 0 0 0 0 0 0 0 0 0 0.059 0.059 0.059 0.059 0.059 0.059 0.059 0.11 0.11 0.11 0.11 0.11 0.11 0.11 0.196 0.196 0.196 0.196 0.196 0.196 0.196 0.314 0.314 0.314 0.314 0.314 0.314 0.314 0.314 0.196 0.196 0.196 0.196 0.196 0.196 0.196 0.196 0.196 0.196 0.196 0.667 0.667 0.667 0.667 0.667 0.667 0.667 0.667 0.667 0.667 0.667 0.667 0.667 0.667 0.667"/>
</feComponentTransfer>
</filter>
<rect x="308" y="100" width="4" height="407" filter="url(#bd9)"/>
<filter id="bd10" x="312" y="100" width="6" height="407" filterUnits="userSpaceOnUse" color-interpolation-filters="sRGB">
<feTurbulence type="fractalNoise" baseFrequency="0.5" numOctaves="2" seed="30"/>
<feColorMatrix type="matrix" values="1.4 0 0 0 -0.19999999999999996 1.4 0 0 0 -0.19999999999999996 1.4 0 0 0 -0.19999999999999996 0 0 0 0 1"/>
<feComponentTransfer>
<feFuncR type="discrete" tableValues="0.039 0.039 0.039 0.039 0.039 0.039 0.039 0.039 0.039 0.039 0.039 0.039 0.118 0.118 0.118 0.118 0.118 0.118 0.118 0.118 0.667 0.667 0.667 0.667 0.667 0.667 0.667 0.941 0.941 0.941 0.941 0.941 0.941 0.941 0.941 0.941 0.941 0.941 0.941 0.941 0.941 0.941 0.941 0.941 0.941 0.988 0.988 0.988 0.988 0.988 0.988 0.988 1 1 1 1 1 1 1 1 1 1 1 1 1 1 1 1 1 1 1 1 1 1 1 1 1 1 1 1 1 1 1 1 1 1 1 1 1 1 1 1 1 1 1 1 1 1 1 1"/>
<feFuncG type="discrete" tableValues="0.039 0.039 0.039 0.039 0.039 0.039 0.039 0.039 0.039 0.039 0.039 0.039 0.118 0.118 0.118 0.118 0.118 0.118 0.118 0.118 0 0 0 0 0 0 0 0.078 0.078 0.078 0.078 0.078 0.078 0.078 0.078 0.078 0.078 0.078 0.078 0.078 0.078 0.078 0.078 0.078 0.078 0.275 0.275 0.275 0.275 0.275 0.275 0.275 0.373 0.373 0.373 0.373 0.373 0.373 0.373 0.49 0.49 0.49 0.49 0.49 0.49 0.49 0.608 0.608 0.608 0.608 0.608 0.608 0.608 0.608 0.843 0.843 0.843 0.843 0.843 0.843 0.843 0.843 0.843 0.843 0.843 0.98 0.98 0.98 0.98 0.98 0.98 0.98 0.98 0.98 0.98 0.98 0.98 0.98 0.98 0.98"/>
<feFuncB type="discrete" tableValues="0.431 0.431 0.431 0.431 0.431 0.431 0.431 0.431 0.431 0.431 0.431 0.431 0.843 0.843 0.843 0.843 0.843 0.843 0.843 0.843 0 0 0 0 0 0 0 0 0 0 0 0 0 0 0 0 0 0 0 0 0 0 0 0 0 0.059 0.059 0.059 0.059 0.059 0.059 0.059 0.11 0.11 0.11 0.11 0.11 0.11 0.11 0.196 0.196 0.196 0.196 0.196 0.196 0.196 0.314 0.314 0.314 0.314 0.314 0.314 0.314 0.314 0.196 0.196 0.196 0.196 0.196 0.196 0.196 0.196 0.196 0.196 0.196 0.667 0.667 0.667 0.667 0.667 0.667 0.667 0.667 0.667 0.667 0.667 0.667 0.667 0.667 0.667"/>
</feComponentTransfer>
</filter>
<rect x="312" y="100" width="6" height="407" filter="url(#bd10)"/>

<rect x="90" y="99" width="1011" height="1" fill="#ffffff"/>
<rect x="90" y="509" width="1011" height="1" fill="#ffffff"/>
<rect x="100" y="99" width="1" height="411" fill="#ffffff"/>
<rect x="1100" y="99" width="1" height="411" fill="#ffffff"/>
<rect x="90" y="304" width="1011" height="1" fill="#ffffff"/>
<rect x="600" y="99" width="1" height="411" fill="#ffffff"/>
<rect x="95" y="150" width="5" height="1" fill="#ffffff"/>
<rect x="95" y="202" width="5" height="1" fill="#ffffff"/>
<rect x="95" y="253" width="5" height="1" fill="#ffffff"/>
<rect x="95" y="355" width="5" height="1" fill="#ffffff"/>
<rect x="95" y="406" width="5" height="1" fill="#ffffff"/>
<rect x="95" y="458" width="5" height="1" fill="#ffffff"/>
<rect x="128" y="510" width="1" height="8" fill="#ffffff"/>
<rect x="156" y="510" width="1" height="8" fill="#ffffff"/>
<rect x="183" y="510" width="1" height="8" fill="#ffffff"/>
<rect x="211" y="510" width="1" height="8" fill="#ffffff"/>
<rect x="239" y="510" width="1" height="8" fill="#ffffff"/>
<rect x="267" y="510" width="1" height="16" fill="#ffffff"/>
<rect x="294" y="510" width="1" height="8" fill="#ffffff"/>
<rect x="322" y="510" width="1" height="8" fill="#ffffff"/>
<rect x="350" y="510" width="1" height="8" fill="#ffffff"/>
<rect x="378" y="510" width="1" height="8" fill="#ffffff"/>
<rect x="406" y="510" width="1" height="8" fill="#ffffff"/>
<rect x="433" y="510" width="1" height="16" fill="#ffffff"/>
<rect x="461" y="510" width="1" height="8" fill="#ffffff"/>
<rect x="489" y="510" width="1" height="8" fill="#ffffff"/>
<rect x="517" y="510" width="1" height="8" fill="#ffffff"/>
<rect x="544" y="510" width="1" height="8" fill="#ffffff"/>
<rect x="572" y="510" width="1" height="8" fill="#ffffff"/>
<rect x="600" y="510" width="1" height="16" fill="#ffffff"/>
<rect x="628" y="510" width="1" height="8" fill="#ffffff"/>
<rect x="656" y="510" width="1" height="8" fill="#ffffff"/>
<rect x="683" y="510" width="1" height="8" fill="#ffffff"/>
<rect x="711" y="510" width="1" height="8" fill="#ffffff"/>
<rect x="739" y="510" width="1" height="8" fill="#ffffff"/>
<rect x="767" y="510" width="1" height="16" fill="#ffffff"/>
<rect x="794" y="510" width="1" height="8" fill="#ffffff"/>
<rect x="822" y="510" width="1" height="8" fill="#ffffff"/>
<rect x="850" y="510" width="1" height="8" fill="#ffffff"/>
<rect x="878" y="510" width="1" height="8" fill="#ffffff"/>
<rect x="906" y="510" width="1" height="8" fill="#ffffff"/>
<rect x="933" y="510" width="1" height="16" fill="#ffffff"/>
<rect x="961" y="510" width="1" height="8" fill="#ffffff"/>
<rect x="989" y="510" width="1" height="8" fill="#ffffff"/>
<rect x="1017" y="510" width="1" height="8" fill="#ffffff"/>
<rect x="1044" y="510" width="1" height="8" fill="#ffffff"/>
<rect x="1072" y="510" width="1" height="8" fill="#ffffff"/>
<rect x="1100" y="510" width="1" height="16" fill="#ffffff"/>
<rect x="1101" y="509" width="10" height="1" fill="#ffffff"/>
<rect x="1101" y="506" width="10" height="1" fill="#ffffff"/>
<rect x="1101" y="497" width="10" height="1" fill="#ffffff"/>
<rect x="1101" y="482" width="10" height="1" fill="#ffffff"/>
<rect x="1101" y="461" width="10" height="1" fill="#ffffff"/>
<rect x="1101" y="436" width="10" height="1" fill="#ffffff"/>
<rect x="1101" y="406" width="10" height="1" fill="#ffffff"/>
<rect x="1101" y="374" width="10" height="1" fill="#ffffff"/>
<rect x="1101" y="340" width="10" height="1" fill="#ffffff"/>
<rect x="1101" y="304" width="10" height="1" fill="#ffffff"/>
<rect x="1101" y="268" width="10" height="1" fill="#ffffff"/>
<rect x="1101" y="234" width="10" height="1" fill="#ffffff"/>
<rect x="1101" y="202" width="10" height="1" fill="#ffffff"/>
<rect x="1101" y="172" width="10" height="1" fill="#ffffff"/>
<rect x="1101" y="147" width="10" height="1" fill="#ffffff"/>
<rect x="1101" y="126" width="10" height="1" fill="#ffffff"/>
<rect x="1101" y="111" width="10" height="1" fill="#ffffff"/>
<rect x="1101" y="102" width="10" height="1" fill="#ffffff"/>
<rect x="1101" y="99" width="10" height="1" fill="#ffffff"/>
<rect x="100" y="54" width="1001" height="1" fill="#ffffff"/>
<rect x="1099" y="55" width="1" height="8" fill="#ffffff"/>
<rect x="1062" y="55" width="1" height="8" fill="#ffffff"/>
<rect x="1026" y="55" width="1" height="8" fill="#ffffff"/>
<rect x="989" y="55" width="1" height="8" fill="#ffffff"/>
<rect x="953" y="55" width="1" height="8" fill="#ffffff"/>
<rect x="916" y="55" width="1" height="8" fill="#ffffff"/>
<rect x="879" y="55" width="1" height="8" fill="#ffffff"/>
<rect x="843" y="55" width="1" height="8" fill="#ffffff"/>
<rect x="806" y="55" width="1" height="8" fill="#ffffff"/>
<rect x="769" y="55" width="1" height="8" fill="#ffffff"/>
<rect x="733" y="55" width="1" height="8" fill="#ffffff"/>
<rect x="696" y="55" width="1" height="8" fill="#ffffff"/>
<rect x="660" y="55" width="1" height="8" fill="#ffffff"/>
<rect x="623" y="55" width="1" height="8" fill="#ffffff"/>
<rect x="586" y="55" width="1" height="8" fill="#ffffff"/>
<rect x="550" y="55" width="1" height="8" fill="#ffffff"/>
<rect x="513" y="55" width="1" height="8" fill="#ffffff"/>
<rect x="476" y="55" width="1" height="8" fill="#ffffff"/>
<rect x="440" y="55" width="1" height="8" fill="#ffffff"/>
<rect x="403" y="55" width="1" height="8" fill="#ffffff"/>
<rect x="367" y="55" width="1" height="8" fill="#ffffff"/>
<rect x="330" y="55" width="1" height="8" fill="#ffffff"/>
<rect x="293" y="55" width="1" height="8" fill="#ffffff"/>
<rect x="257" y="55" width="1" height="8" fill="#ffffff"/>
<rect x="220" y="55" width="1" height="8" fill="#ffffff"/>
<rect x="183" y="55" width="1" height="8" fill="#ffffff"/>
<rect x="147" y="55" width="1" height="8" fill="#ffffff"/>
<rect x="110" y="55" width="1" height="8" fill="#ffffff"/>
<rect x="1081" y="55" width="1" height="4" fill="#ffffff"/>
<rect x="1044" y="55" width="1" height="4" fill="#ffffff"/>
<rect x="1007" y="55" width="1" height="4" fill="#ffffff"/>
<rect x="971" y="55" width="1" height="4" fill="#ffffff"/>
<rect x="934" y="55" width="1" height="4" fill="#ffffff"/>
<rect x="898" y="55" width="1" height="4" fill="#ffffff"/>
<rect x="861" y="55" width="1" height="4" fill="#ffffff"/>
<rect x="824" y="55" width="1" height="4" fill="#ffffff"/>
<rect x="788" y="55" width="1" height="4" fill="#ffffff"/>
<rect x="751" y="55" width="1" height="4" fill="#ffffff"/>
<rect x="714" y="55" width="1" height="4" fill="#ffffff"/>
<rect x="678" y="55" width="1" height="4" fill="#ffffff"/>
<rect x="641" y="55" width="1" height="4" fill="#ffffff"/>
<rect x="605" y="55" width="1" height="4" fill="#ffffff"/>
<rect x="568" y="55" width="1" height="4" fill="#ffffff"/>
<rect x="531" y="55" width="1" height="4" fill="#ffffff"/>
<rect x="495" y="55" width="1" height="4" fill="#ffffff"/>
<rect x="458" y="55" width="1" height="4" fill="#ffffff"/>
<rect x="421" y="55" width="1" height="4" fill="#ffffff"/>
<rect x="385" y="55" width="1" height="4" fill="#ffffff"/>
<rect x="348" y="55" width="1" height="4" fill="#ffffff"/>
<rect x="312" y="55" width="1" height="4" fill="#ffffff"/>
<rect x="275" y="55" width="1" height="4" fill="#ffffff"/>
<rect x="238" y="55" width="1" height="4" fill="#ffffff"/>
<rect x="202" y="55" width="1" height="4" fill="#ffffff"/>
<rect x="165" y="55" width="1" height="4" fill="#ffffff"/>
<rect x="122" y="46" width="1" height="8" fill="#ff5a00"/>
<rect x="159" y="46" width="1" height="8" fill="#ff5a00"/>
<rect x="195" y="46" width="1" height="8" fill="#ff5a00"/>
<rect x="232" y="46" width="1" height="8" fill="#ff5a00"/>
<rect x="268" y="46" width="1" height="8" fill="#ff5a00"/>
<rect x="305" y="46" width="1" height="8" fill="#ff5a00"/>
<rect x="342" y="46" width="1" height="8" fill="#ff5a00"/>
<rect x="378" y="46" width="1" height="8" fill="#ff5a00"/>
<rect x="415" y="46" width="1" height="8" fill="#ff5a00"/>
<rect x="451" y="46" width="1" height="8" fill="#ff5a00"/>
<rect x="488" y="46" width="1" height="8" fill="#ff5a00"/>
<rect x="525" y="46" width="1" height="8" fill="#ff5a00"/>
<rect x="561" y="46" width="1" height="8" fill="#ff5a00"/>
<rect x="598" y="46" width="1" height="8" fill="#ff5a00"/>
<rect x="635" y="46" width="1" height="8" fill="#ff5a00"/>
<rect x="671" y="46" width="1" height="8" fill="#ff5a00"/>
<rect x="708" y="46" width="1" height="8" fill="#ff5a00"/>
<rect x="744" y="46" width="1" height="8" fill="#ff5a00"/>
<rect x="781" y="46" width="1" height="8" fill="#ff5a00"/>
<rect x="818" y="46" width="1" height="8" fill="#ff5a00"/>
<rect x="854" y="46" width="1" height="8" fill="#ff5a00"/>
<rect x="891" y="46" width="1" height="8" fill="#ff5a00"/>
<rect x="927" y="46" width="1" height="8" fill="#ff5a00"/>
<rect x="964" y="46" width="1" height="8" fill="#ff5a00"/>
<rect x="1001" y="46" width="1" height="8" fill="#ff5a00"/>
<rect x="1037" y="46" width="1" height="8" fill="#ff5a00"/>
<rect x="1074" y="46" width="1" height="8" fill="#ff5a00"/>
<rect x="177" y="50" width="1" height="4" fill="#ff5a00"/>
<rect x="214" y="50" width="1" height="4" fill="#ff5a00"/>
<rect x="250" y="50" width="1" height="4" fill="#ff5a00"/>
<rect x="287" y="50" width="1" height="4" fill="#ff5a00"/>
<rect x="323" y="50" width="1" height="4" fill="#ff5a00"/>
<rect x="360" y="50" width="1" height="4" fill="#ff5a00"/>
<rect x="397" y="50" width="1" height="4" fill="#ff5a00"/>
<rect x="433" y="50" width="1" height="4" fill="#ff5a00"/>
<rect x="470" y="50" width="1" height="4" fill="#ff5a00"/>
<rect x="506" y="50" width="1" height="4" fill="#ff5a00"/>
<rect x="543" y="50" width="1" height="4" fill="#ff5a00"/>
<rect x="580" y="50" width="1" height="4" fill="#ff5a00"/>
<rect x="616" y="50" width="1" height="4" fill="#ff5a00"/>
<rect x="653" y="50" width="1" height="4" fill="#ff5a00"/>
<rect x="689" y="50" width="1" height="4" fill="#ff5a00"/>
<rect x="726" y="50" width="1" height="4" fill="#ff5a00"/>
<rect x="763" y="50" width="1" height="4" fill="#ff5a00"/>
<rect x="799" y="50" width="1" height="4" fill="#ff5a00"/>
<rect x="836" y="50" width="1" height="4" fill="#ff5a00"/>
<rect x="873" y="50" width="1" height="4" fill="#ff5a00"/>
<rect x="909" y="50" width="1" height="4" fill="#ff5a00"/>
<rect x="946" y="50" width="1" height="4" fill="#ff5a00"/>
<rect x="982" y="50" width="1" height="4" fill="#ff5a00"/>
<rect x="1019" y="50" width="1" height="4" fill="#ff5a00"/>
<rect x="1056" y="50" width="1" height="4" fill="#ff5a00"/>
<text x="363.5" y="18" font-size="19" fill="#ffffff" stroke="#ffffff" text-anchor="start" textLength="494" lengthAdjust="spacingAndGlyphs" >MDI Synoptic Chart for Carrington Rotation 1956</text>
<text x="600" y="32" font-size="9.5" fill="#ff5a00" stroke="#ff5a00" text-anchor="middle" textLength="93" lengthAdjust="spacingAndGlyphs" >Next CR CMP Date</text>
<text x="600" y="99" font-size="13" fill="#ffffff" stroke="#ffffff" text-anchor="middle" textLength="200" lengthAdjust="spacingAndGlyphs" >Central Meridian Passage Date</text>
<text x="1081.7" y="78" font-size="12.8" fill="#ffffff" stroke="#ffffff" text-anchor="middle" textLength="18" lengthAdjust="spacingAndGlyphs" >08</text>
<text x="1045.1" y="78" font-size="12.8" fill="#ffffff" stroke="#ffffff" text-anchor="middle" textLength="18" lengthAdjust="spacingAndGlyphs" >09</text>
<text x="1008.4" y="78" font-size="12.8" fill="#ffffff" stroke="#ffffff" text-anchor="middle" textLength="18" lengthAdjust="spacingAndGlyphs" >10</text>
<text x="971.8" y="78" font-size="12.8" fill="#ffffff" stroke="#ffffff" text-anchor="middle" textLength="18" lengthAdjust="spacingAndGlyphs" >11</text>
<text x="935.2" y="78" font-size="12.8" fill="#ffffff" stroke="#ffffff" text-anchor="middle" textLength="18" lengthAdjust="spacingAndGlyphs" >12</text>
<text x="898.6" y="78" font-size="12.8" fill="#ffffff" stroke="#ffffff" text-anchor="middle" textLength="18" lengthAdjust="spacingAndGlyphs" >13</text>
<text x="861.9" y="78" font-size="12.8" fill="#ffffff" stroke="#ffffff" text-anchor="middle" textLength="18" lengthAdjust="spacingAndGlyphs" >14</text>
<text x="825.3" y="78" font-size="12.8" fill="#ffffff" stroke="#ffffff" text-anchor="middle" textLength="18" lengthAdjust="spacingAndGlyphs" >15</text>
<text x="788.7" y="78" font-size="12.8" fill="#ffffff" stroke="#ffffff" text-anchor="middle" textLength="18" lengthAdjust="spacingAndGlyphs" >16</text>
<text x="752.1" y="78" font-size="12.8" fill="#ffffff" stroke="#ffffff" text-anchor="middle" textLength="18" lengthAdjust="spacingAndGlyphs" >17</text>
<text x="715.4" y="78" font-size="12.8" fill="#ffffff" stroke="#ffffff" text-anchor="middle" textLength="18" lengthAdjust="spacingAndGlyphs" >18</text>
<text x="678.8" y="78" font-size="12.8" fill="#ffffff" stroke="#ffffff" text-anchor="middle" textLength="18" lengthAdjust="spacingAndGlyphs" >19</text>
<text x="642.2" y="78" font-size="12.8" fill="#ffffff" stroke="#ffffff" text-anchor="middle" textLength="18" lengthAdjust="spacingAndGlyphs" >20</text>
<text x="605.6" y="78" font-size="12.8" fill="#ffffff" stroke="#ffffff" text-anchor="middle" textLength="18" lengthAdjust="spacingAndGlyphs" >21</text>
<text x="568.9" y="78" font-size="12.8" fill="#ffffff" stroke="#ffffff" text-anchor="middle" textLength="18" lengthAdjust="spacingAndGlyphs" >22</text>
<text x="532.3" y="78" font-size="12.8" fill="#ffffff" stroke="#ffffff" text-anchor="middle" textLength="18" lengthAdjust="spacingAndGlyphs" >23</text>
<text x="495.7" y="78" font-size="12.8" fill="#ffffff" stroke="#ffffff" text-anchor="middle" textLength="18" lengthAdjust="spacingAndGlyphs" >24</text>
<text x="459.1" y="78" font-size="12.8" fill="#ffffff" stroke="#ffffff" text-anchor="middle" textLength="18" lengthAdjust="spacingAndGlyphs" >25</text>
<text x="422.4" y="78" font-size="12.8" fill="#ffffff" stroke="#ffffff" text-anchor="middle" textLength="18" lengthAdjust="spacingAndGlyphs" >26</text>
<text x="385.8" y="78" font-size="12.8" fill="#ffffff" stroke="#ffffff" text-anchor="middle" textLength="18" lengthAdjust="spacingAndGlyphs" >27</text>
<text x="349.2" y="78" font-size="12.8" fill="#ffffff" stroke="#ffffff" text-anchor="middle" textLength="18" lengthAdjust="spacingAndGlyphs" >28</text>
<text x="312.6" y="78" font-size="12.8" fill="#ffffff" stroke="#ffffff" text-anchor="middle" textLength="18" lengthAdjust="spacingAndGlyphs" >29</text>
<text x="275.9" y="78" font-size="12.8" fill="#ffffff" stroke="#ffffff" text-anchor="middle" textLength="18" lengthAdjust="spacingAndGlyphs" >30</text>
<text x="239.3" y="78" font-size="12.8" fill="#ffffff" stroke="#ffffff" text-anchor="middle" textLength="18" lengthAdjust="spacingAndGlyphs" >01</text>
<text x="202.7" y="78" font-size="12.8" fill="#ffffff" stroke="#ffffff" text-anchor="middle" textLength="18" lengthAdjust="spacingAndGlyphs" >02</text>
<text x="166.1" y="78" font-size="12.8" fill="#ffffff" stroke="#ffffff" text-anchor="middle" textLength="18" lengthAdjust="spacingAndGlyphs" >03</text>
<text x="110" y="83.3" font-size="13.5" fill="#ffffff" stroke="#ffffff" text-anchor="middle" textLength="49" lengthAdjust="spacingAndGlyphs" >DEC 99</text>
<text x="177.9" y="46" font-size="10.5" fill="#ff5a00" stroke="#ff5a00" text-anchor="middle" textLength="14" lengthAdjust="spacingAndGlyphs" >30</text>
<text x="214.5" y="46" font-size="10.5" fill="#ff5a00" stroke="#ff5a00" text-anchor="middle" textLength="14" lengthAdjust="spacingAndGlyphs" >29</text>
<text x="251.1" y="46" font-size="10.5" fill="#ff5a00" stroke="#ff5a00" text-anchor="middle" textLength="14" lengthAdjust="spacingAndGlyphs" >28</text>
<text x="287.7" y="46" font-size="10.5" fill="#ff5a00" stroke="#ff5a00" text-anchor="middle" textLength="14" lengthAdjust="spacingAndGlyphs" >27</text>
<text x="324.4" y="46" font-size="10.5" fill="#ff5a00" stroke="#ff5a00" text-anchor="middle" textLength="14" lengthAdjust="spacingAndGlyphs" >26</text>
<text x="361.0" y="46" font-size="10.5" fill="#ff5a00" stroke="#ff5a00" text-anchor="middle" textLength="14" lengthAdjust="spacingAndGlyphs" >25</text>
<text x="397.6" y="46" font-size="10.5" fill="#ff5a00" stroke="#ff5a00" text-anchor="middle" textLength="14" lengthAdjust="spacingAndGlyphs" >24</text>
<text x="434.2" y="46" font-size="10.5" fill="#ff5a00" stroke="#ff5a00" text-anchor="middle" textLength="14" lengthAdjust="spacingAndGlyphs" >23</text>
<text x="470.8" y="46" font-size="10.5" fill="#ff5a00" stroke="#ff5a00" text-anchor="middle" textLength="14" lengthAdjust="spacingAndGlyphs" >22</text>
<text x="507.4" y="46" font-size="10.5" fill="#ff5a00" stroke="#ff5a00" text-anchor="middle" textLength="14" lengthAdjust="spacingAndGlyphs" >21</text>
<text x="544.0" y="46" font-size="10.5" fill="#ff5a00" stroke="#ff5a00" text-anchor="middle" textLength="14" lengthAdjust="spacingAndGlyphs" >20</text>
<text x="580.6" y="46" font-size="10.5" fill="#ff5a00" stroke="#ff5a00" text-anchor="middle" textLength="14" lengthAdjust="spacingAndGlyphs" >19</text>
<text x="617.2" y="46" font-size="10.5" fill="#ff5a00" stroke="#ff5a00" text-anchor="middle" textLength="14" lengthAdjust="spacingAndGlyphs" >18</text>
<text x="653.8" y="46" font-size="10.5" fill="#ff5a00" stroke="#ff5a00" text-anchor="middle" textLength="14" lengthAdjust="spacingAndGlyphs" >17</text>
<text x="690.5" y="46" font-size="10.5" fill="#ff5a00" stroke="#ff5a00" text-anchor="middle" textLength="14" lengthAdjust="spacingAndGlyphs" >16</text>
<text x="727.1" y="46" font-size="10.5" fill="#ff5a00" stroke="#ff5a00" text-anchor="middle" textLength="14" lengthAdjust="spacingAndGlyphs" >15</text>
<text x="763.7" y="46" font-size="10.5" fill="#ff5a00" stroke="#ff5a00" text-anchor="middle" textLength="14" lengthAdjust="spacingAndGlyphs" >14</text>
<text x="800.3" y="46" font-size="10.5" fill="#ff5a00" stroke="#ff5a00" text-anchor="middle" textLength="14" lengthAdjust="spacingAndGlyphs" >13</text>
<text x="836.9" y="46" font-size="10.5" fill="#ff5a00" stroke="#ff5a00" text-anchor="middle" textLength="14" lengthAdjust="spacingAndGlyphs" >12</text>
<text x="873.5" y="46" font-size="10.5" fill="#ff5a00" stroke="#ff5a00" text-anchor="middle" textLength="14" lengthAdjust="spacingAndGlyphs" >11</text>
<text x="910.1" y="46" font-size="10.5" fill="#ff5a00" stroke="#ff5a00" text-anchor="middle" textLength="14" lengthAdjust="spacingAndGlyphs" >10</text>
<text x="946.7" y="46" font-size="10.5" fill="#ff5a00" stroke="#ff5a00" text-anchor="middle" textLength="14" lengthAdjust="spacingAndGlyphs" >09</text>
<text x="983.3" y="46" font-size="10.5" fill="#ff5a00" stroke="#ff5a00" text-anchor="middle" textLength="14" lengthAdjust="spacingAndGlyphs" >08</text>
<text x="1019.9" y="46" font-size="10.5" fill="#ff5a00" stroke="#ff5a00" text-anchor="middle" textLength="14" lengthAdjust="spacingAndGlyphs" >07</text>
<text x="1056.6" y="46" font-size="10.5" fill="#ff5a00" stroke="#ff5a00" text-anchor="middle" textLength="14" lengthAdjust="spacingAndGlyphs" >06</text>
<text x="122.5" y="42" font-size="10.5" fill="#ff5a00" stroke="#ff5a00" text-anchor="middle" textLength="37.5" lengthAdjust="spacingAndGlyphs" >DEC 99</text>
<text x="77" y="114" font-size="18" fill="#ffffff" stroke="#ffffff" text-anchor="middle" textLength="5" lengthAdjust="spacingAndGlyphs" >1</text>
<text x="77.5" y="313.5" font-size="19.5" fill="#ffffff" stroke="#ffffff" text-anchor="middle" textLength="12.5" lengthAdjust="spacingAndGlyphs" >0</text>
<text x="77" y="510" font-size="18" fill="#ffffff" stroke="#ffffff" text-anchor="middle" textLength="5" lengthAdjust="spacingAndGlyphs" >1</text>
<rect x="60" y="503" width="9" height="1" fill="#ffffff"/>
<text x="272.5" y="556" font-size="19.5" fill="#ffffff" stroke="#ffffff" text-anchor="middle" textLength="26" lengthAdjust="spacingAndGlyphs" >60</text>
<text x="433.8" y="556" font-size="19.5" fill="#ffffff" stroke="#ffffff" text-anchor="middle" textLength="39" lengthAdjust="spacingAndGlyphs" >120</text>
<text x="600.5" y="556" font-size="19.5" fill="#ffffff" stroke="#ffffff" text-anchor="middle" textLength="39" lengthAdjust="spacingAndGlyphs" >180</text>
<text x="767.2" y="556" font-size="19.5" fill="#ffffff" stroke="#ffffff" text-anchor="middle" textLength="39" lengthAdjust="spacingAndGlyphs" >240</text>
<text x="933.8" y="556" font-size="19.5" fill="#ffffff" stroke="#ffffff" text-anchor="middle" textLength="39" lengthAdjust="spacingAndGlyphs" >300</text>
<text x="1100.5" y="556" font-size="19.5" fill="#ffffff" stroke="#ffffff" text-anchor="middle" textLength="39" lengthAdjust="spacingAndGlyphs" >360</text>
<text x="600" y="582" font-size="18.5" fill="#ffffff" stroke="#ffffff" text-anchor="middle" textLength="208" lengthAdjust="spacingAndGlyphs" >Carrington Longitude</text>
<text x="1125.5" y="113.6" font-size="19" fill="#ffffff" stroke="#ffffff" text-anchor="start" textLength="27" lengthAdjust="spacingAndGlyphs" >90</text>
<text x="1125.5" y="135.3" font-size="19" fill="#ffffff" stroke="#ffffff" text-anchor="start" textLength="27" lengthAdjust="spacingAndGlyphs" >60</text>
<text x="1125.5" y="181.2" font-size="19" fill="#ffffff" stroke="#ffffff" text-anchor="start" textLength="27" lengthAdjust="spacingAndGlyphs" >40</text>
<text x="1125.5" y="242.5" font-size="19" fill="#ffffff" stroke="#ffffff" text-anchor="start" textLength="27" lengthAdjust="spacingAndGlyphs" >20</text>
<text x="1115.5" y="313.4" font-size="19" fill="#ffffff" stroke="#ffffff" text-anchor="start" textLength="13.5" lengthAdjust="spacingAndGlyphs" >0</text>
<rect x="1118" y="378" width="12" height="1" fill="#ffffff"/>
<text x="1132" y="383.4" font-size="19" fill="#ffffff" stroke="#ffffff" text-anchor="start" textLength="27" lengthAdjust="spacingAndGlyphs" >20</text>
<rect x="1118" y="439" width="12" height="1" fill="#ffffff"/>
<text x="1132" y="444.6" font-size="19" fill="#ffffff" stroke="#ffffff" text-anchor="start" textLength="27" lengthAdjust="spacingAndGlyphs" >40</text>
<rect x="1118" y="485" width="12" height="1" fill="#ffffff"/>
<text x="1132" y="490.4" font-size="19" fill="#ffffff" stroke="#ffffff" text-anchor="start" textLength="27" lengthAdjust="spacingAndGlyphs" >60</text>
<rect x="1118" y="504" width="12" height="1" fill="#ffffff"/>
<text x="1132" y="509.6" font-size="19" fill="#ffffff" stroke="#ffffff" text-anchor="start" textLength="27" lengthAdjust="spacingAndGlyphs" >90</text>
<text x="1179" y="344.5" font-size="19" fill="#ffffff" stroke="#ffffff" text-anchor="start" textLength="79" lengthAdjust="spacingAndGlyphs" transform="rotate(-90 1179 344.5)">Latitude</text>
<text x="38.8" y="369.8" font-size="19" fill="#ffffff" stroke="#ffffff" text-anchor="start" textLength="130" lengthAdjust="spacingAndGlyphs" transform="rotate(-90 38.8 369.8)">Sine Latitude</text>
<text x="20.5" y="589.5" font-size="9.5" fill="#ffffff" stroke="#ffffff" text-anchor="start" textLength="125" lengthAdjust="spacingAndGlyphs" >Plot Made 27-Jan-2009</text>
<text x="20.5" y="600.5" font-size="8.5" fill="#ffffff" stroke="#ffffff" text-anchor="start" textLength="461" lengthAdjust="spacingAndGlyphs" font-weight="400" stroke-width="0.15" xml:space="preserve">Data from 15W - Radial Component From /synoptic/carrot/M/1956/synop_Mr_15W.1956.fits; Plot Range=  100</text>
</svg>
</body></html>
